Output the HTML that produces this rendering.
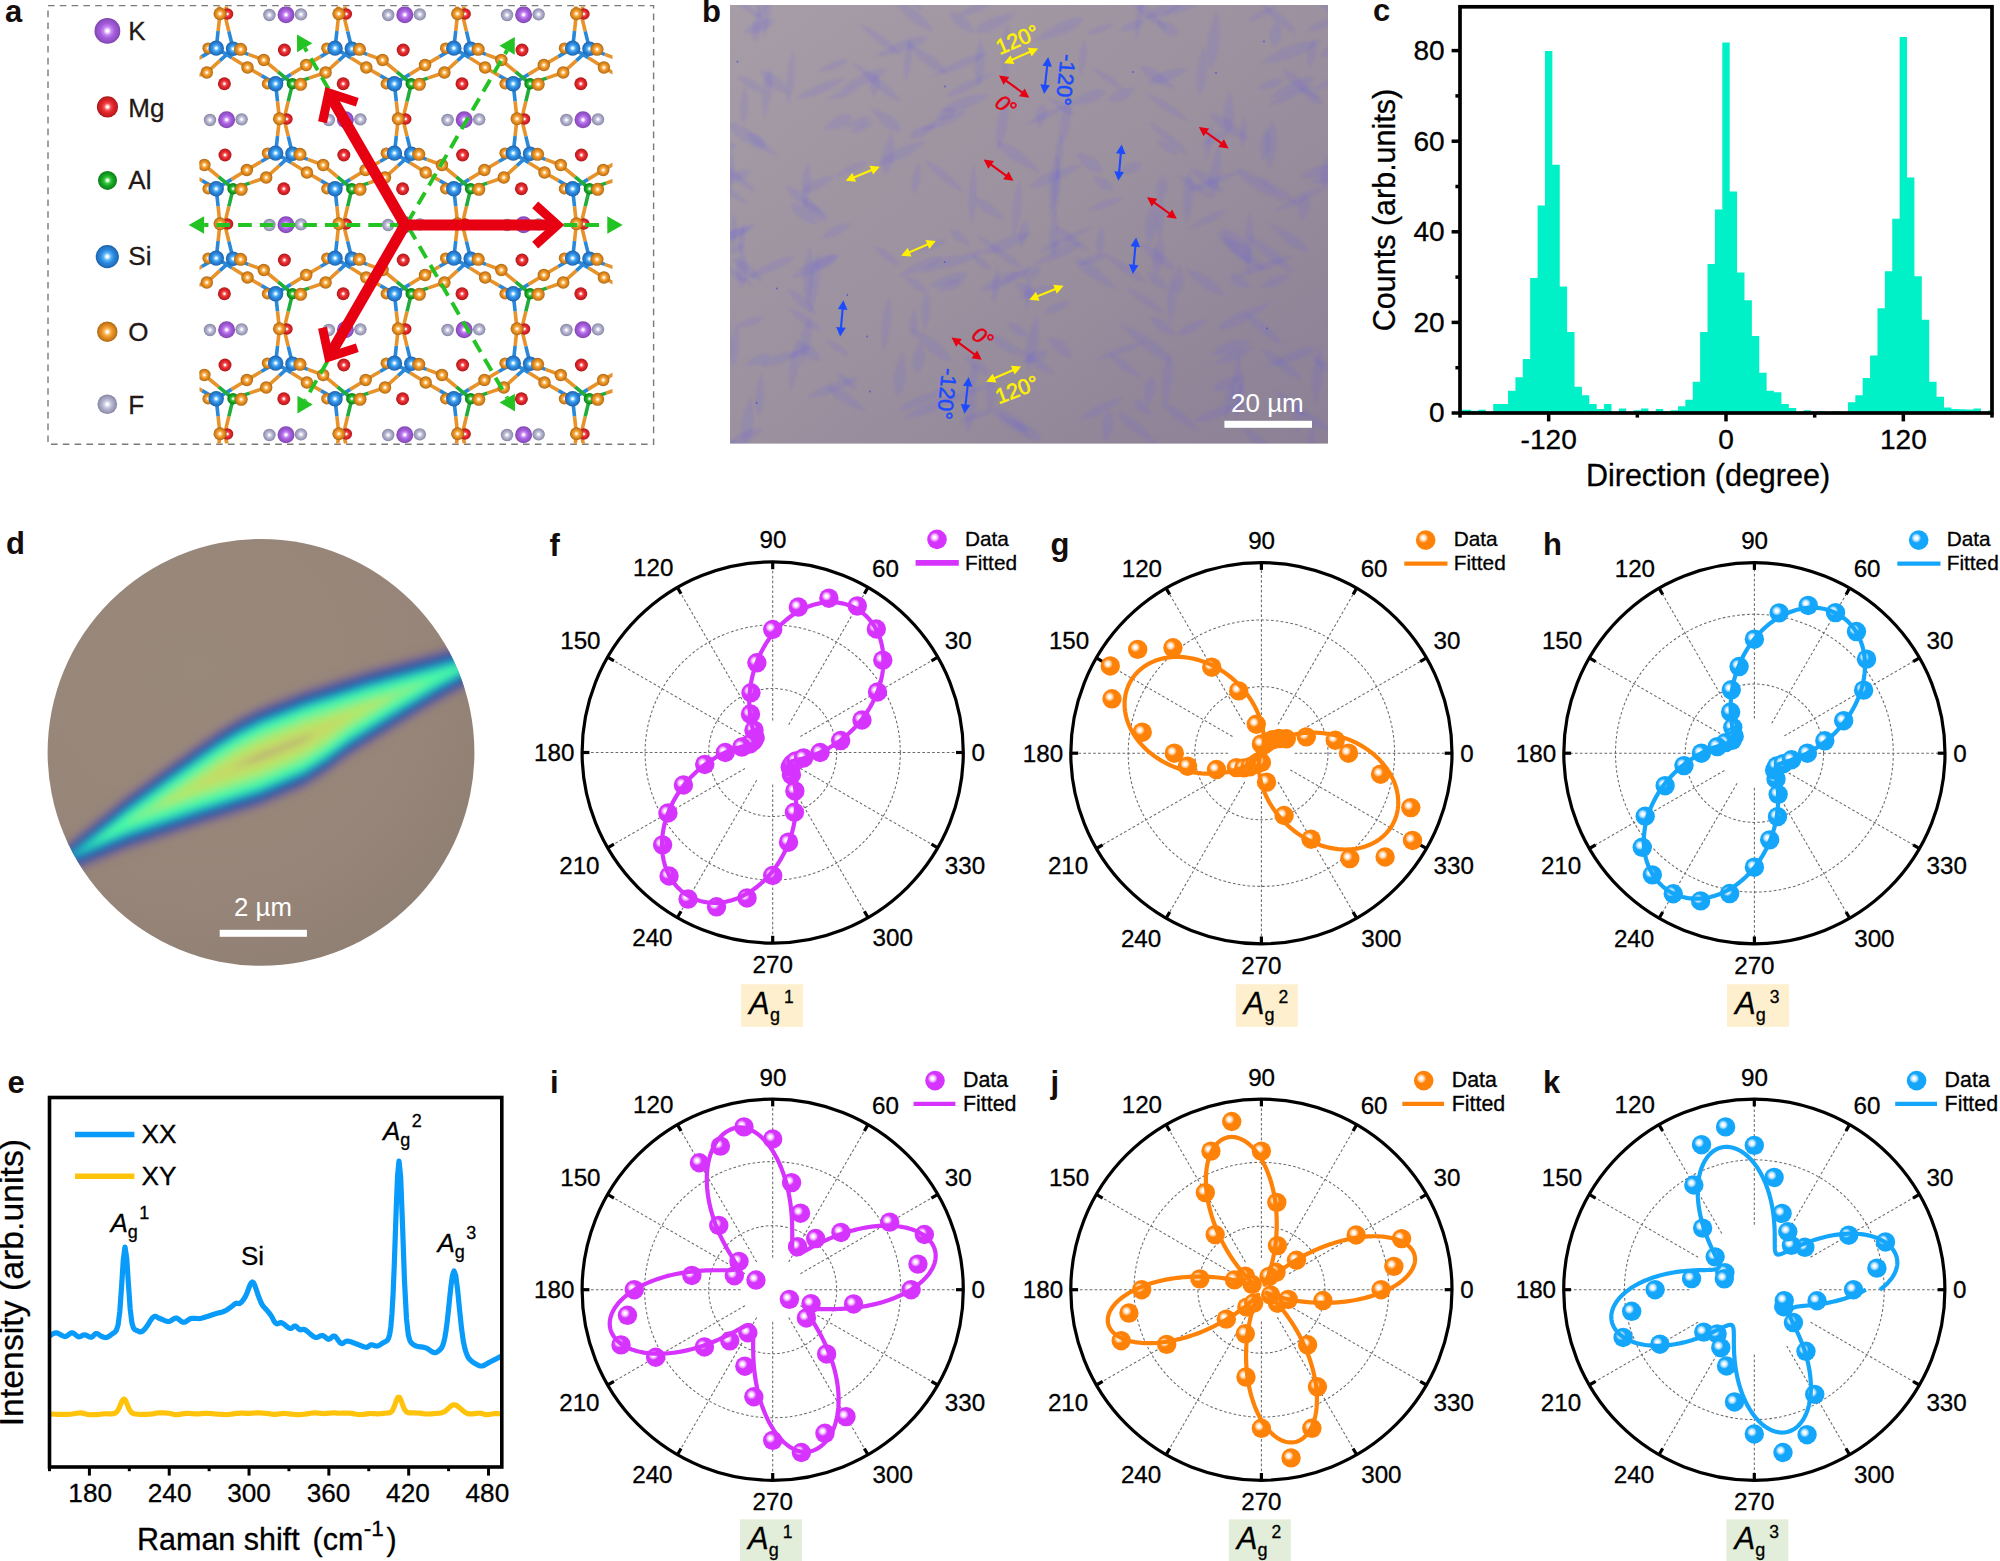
<!DOCTYPE html>
<html><head><meta charset="utf-8"><title>Figure</title>
<style>
html,body{margin:0;padding:0;background:#fff;}
svg{display:block;font-family:"Liberation Sans",sans-serif;}
text[fill="#000"],g[fill="#000"] text{stroke:#000;stroke-width:.3px}
</style></head><body>
<svg width="2000" height="1561" viewBox="0 0 2000 1561">
<rect width="2000" height="1561" fill="#fff"/>
<text x="5" y="22" font-size="31" font-weight="bold" fill="#140d0b">a</text>
<rect x="48" y="5.6" width="605.6" height="438.6" fill="none" stroke="#7a7a7a" stroke-width="1.4" stroke-dasharray="6.6 5.2"/>
<defs><radialGradient id="gK" cx="0.5" cy="0.5" r="0.5" fx="0.5" fy="0.5"><stop offset="0" stop-color="#fff"/><stop offset="0.09" stop-color="#fff"/><stop offset="0.32" stop-color="#c684f5"/><stop offset="0.58" stop-color="#a35cd9"/><stop offset="0.8" stop-color="#9452c8"/><stop offset="1" stop-color="#7d44ae"/></radialGradient><radialGradient id="gMg" cx="0.5" cy="0.5" r="0.5" fx="0.5" fy="0.5"><stop offset="0" stop-color="#fff"/><stop offset="0.09" stop-color="#fff"/><stop offset="0.32" stop-color="#f45050"/><stop offset="0.58" stop-color="#e0242a"/><stop offset="0.8" stop-color="#ca1f23"/><stop offset="1" stop-color="#a81818"/></radialGradient><radialGradient id="gAl" cx="0.5" cy="0.5" r="0.5" fx="0.5" fy="0.5"><stop offset="0" stop-color="#fff"/><stop offset="0.09" stop-color="#fff"/><stop offset="0.32" stop-color="#40cc44"/><stop offset="0.58" stop-color="#16a624"/><stop offset="0.8" stop-color="#12931e"/><stop offset="1" stop-color="#0b7614"/></radialGradient><radialGradient id="gSi" cx="0.5" cy="0.5" r="0.5" fx="0.5" fy="0.5"><stop offset="0" stop-color="#fff"/><stop offset="0.09" stop-color="#fff"/><stop offset="0.32" stop-color="#58b6f8"/><stop offset="0.58" stop-color="#2b88de"/><stop offset="0.8" stop-color="#2577c8"/><stop offset="1" stop-color="#1b5ea6"/></radialGradient><radialGradient id="gO" cx="0.5" cy="0.5" r="0.5" fx="0.5" fy="0.5"><stop offset="0" stop-color="#fff"/><stop offset="0.09" stop-color="#fff"/><stop offset="0.32" stop-color="#fab555"/><stop offset="0.58" stop-color="#e78f22"/><stop offset="0.8" stop-color="#ce7e1b"/><stop offset="1" stop-color="#a96410"/></radialGradient><radialGradient id="gF" cx="0.5" cy="0.5" r="0.5" fx="0.5" fy="0.5"><stop offset="0" stop-color="#fff"/><stop offset="0.09" stop-color="#fff"/><stop offset="0.32" stop-color="#cfcfe4"/><stop offset="0.58" stop-color="#aeadc9"/><stop offset="0.8" stop-color="#9c9bb9"/><stop offset="1" stop-color="#8080a0"/></radialGradient><clipPath id="cpa"><rect x="199.5" y="6.5" width="413" height="437"/></clipPath></defs>
<circle cx="107.4" cy="30.9" r="12.9" fill="url(#gK)"/><text x="128.3" y="40.3" font-size="26" fill="#231815" stroke="#231815" stroke-width="0.3">K</text>
<circle cx="107.5" cy="106.9" r="10.6" fill="url(#gMg)"/><text x="128.3" y="117.4" font-size="26" fill="#231815" stroke="#231815" stroke-width="0.3">Mg</text>
<circle cx="107.5" cy="180.4" r="9.5" fill="url(#gAl)"/><text x="128.3" y="189.3" font-size="26" fill="#231815" stroke="#231815" stroke-width="0.3">Al</text>
<circle cx="107.3" cy="256.6" r="11.6" fill="url(#gSi)"/><text x="128.3" y="265.3" font-size="26" fill="#231815" stroke="#231815" stroke-width="0.3">Si</text>
<circle cx="107.3" cy="331.8" r="10.2" fill="url(#gO)"/><text x="128.3" y="341.3" font-size="26" fill="#231815" stroke="#231815" stroke-width="0.3">O</text>
<circle cx="107.3" cy="404.3" r="9.8" fill="url(#gF)"/><text x="128.3" y="413.7" font-size="26" fill="#231815" stroke="#231815" stroke-width="0.3">F</text>
<g clip-path="url(#cpa)"><path d="M218.1,-3.75L220,13.75M228.85,-3.6L224.6,14.05M336.9,-3.75L338.8,13.75M347.65,-3.6L343.4,14.05M455.7,-3.75L457.6,13.75M466.45,-3.6L462.2,14.05M574.5,-3.75L576.4,13.75M585.25,-3.6L581,14.05M187.45,65L201.85,56.58M190.25,78.12L206.8,72.5M206.8,72.5L219.95,60.62M220,13.75L218.12,30.95M224.6,14.05L228.85,31.4M231.88,57.83L247.5,67.5M247.5,67.5L261.55,75.62M248.43,54.38L263.75,60M263.75,60L278.12,71.88M290.93,74.38L306.25,65M306.25,65L320.65,56.58M309.05,78.12L325.6,72.5M325.6,72.5L338.75,60.62M277.5,101.25L279.4,118.75M288.25,101.4L284,119.05M338.8,13.75L336.93,30.95M343.4,14.05L347.65,31.4M350.68,57.83L366.3,67.5M366.3,67.5L380.35,75.62M367.23,54.38L382.55,60M382.55,60L396.93,71.88M409.73,74.38L425.05,65M425.05,65L439.45,56.58M427.85,78.12L444.4,72.5M444.4,72.5L457.55,60.62M396.3,101.25L398.2,118.75M407.05,101.4L402.8,119.05M457.6,13.75L455.73,30.95M462.2,14.05L466.45,31.4M469.48,57.83L485.1,67.5M485.1,67.5L499.15,75.62M486.03,54.38L501.35,60M501.35,60L515.73,71.88M528.53,74.38L543.85,65M543.85,65L558.25,56.58M546.65,78.12L563.2,72.5M563.2,72.5L576.35,60.62M515.1,101.25L517,118.75M525.85,101.4L521.6,119.05M576.4,13.75L574.52,30.95M581,14.05L585.25,31.4M588.27,57.83L603.9,67.5M603.9,67.5L617.95,75.62M604.83,54.38L620.15,60M620.15,60L634.52,71.88M188.1,172.5L202.15,180.62M189.02,159.38L204.35,165M204.35,165L218.72,176.88M231.52,179.38L246.85,170M246.85,170L261.25,161.57M249.65,183.12L266.2,177.5M266.2,177.5L279.35,165.62M218.1,206.25L220,223.75M228.85,206.4L224.6,224.05M279.4,118.75L277.52,135.95M284,119.05L288.25,136.4M291.27,162.82L306.9,172.5M306.9,172.5L320.95,180.62M307.82,159.38L323.15,165M323.15,165L337.52,176.88M350.32,179.38L365.65,170M365.65,170L380.05,161.57M368.45,183.12L385,177.5M385,177.5L398.15,165.62M336.9,206.25L338.8,223.75M347.65,206.4L343.4,224.05M398.2,118.75L396.32,135.95M402.8,119.05L407.05,136.4M410.07,162.82L425.7,172.5M425.7,172.5L439.75,180.62M426.62,159.38L441.95,165M441.95,165L456.32,176.88M469.12,179.38L484.45,170M484.45,170L498.85,161.57M487.25,183.12L503.8,177.5M503.8,177.5L516.95,165.62M455.7,206.25L457.6,223.75M466.45,206.4L462.2,224.05M517,118.75L515.12,135.95M521.6,119.05L525.85,136.4M528.88,162.82L544.5,172.5M544.5,172.5L558.55,180.62M545.42,159.38L560.75,165M560.75,165L575.12,176.88M587.92,179.38L603.25,170M603.25,170L617.65,161.57M606.05,183.12L622.6,177.5M574.5,206.25L576.4,223.75M585.25,206.4L581,224.05M187.45,275L201.85,266.57M190.25,288.12L206.8,282.5M206.8,282.5L219.95,270.62M220,223.75L218.12,240.95M224.6,224.05L228.85,241.4M231.88,267.82L247.5,277.5M247.5,277.5L261.55,285.62M248.43,264.38L263.75,270M263.75,270L278.12,281.88M290.93,284.38L306.25,275M306.25,275L320.65,266.57M309.05,288.12L325.6,282.5M325.6,282.5L338.75,270.62M277.5,311.25L279.4,328.75M288.25,311.4L284,329.05M338.8,223.75L336.93,240.95M343.4,224.05L347.65,241.4M350.68,267.82L366.3,277.5M366.3,277.5L380.35,285.62M367.23,264.38L382.55,270M382.55,270L396.93,281.88M409.73,284.38L425.05,275M425.05,275L439.45,266.57M427.85,288.12L444.4,282.5M444.4,282.5L457.55,270.62M396.3,311.25L398.2,328.75M407.05,311.4L402.8,329.05M457.6,223.75L455.73,240.95M462.2,224.05L466.45,241.4M469.48,267.82L485.1,277.5M485.1,277.5L499.15,285.62M486.03,264.38L501.35,270M501.35,270L515.73,281.88M528.53,284.38L543.85,275M543.85,275L558.25,266.57M546.65,288.12L563.2,282.5M563.2,282.5L576.35,270.62M515.1,311.25L517,328.75M525.85,311.4L521.6,329.05M576.4,223.75L574.52,240.95M581,224.05L585.25,241.4M588.27,267.82L603.9,277.5M603.9,277.5L617.95,285.62M604.83,264.38L620.15,270M620.15,270L634.52,281.88M188.1,382.5L202.15,390.62M189.02,369.38L204.35,375M204.35,375L218.72,386.88M231.52,389.38L246.85,380M246.85,380L261.25,371.57M249.65,393.12L266.2,387.5M266.2,387.5L279.35,375.62M218.1,416.25L220,433.75M228.85,416.4L224.6,434.05M279.4,328.75L277.52,345.95M284,329.05L288.25,346.4M291.27,372.82L306.9,382.5M306.9,382.5L320.95,390.62M307.82,369.38L323.15,375M323.15,375L337.52,386.88M350.32,389.38L365.65,380M365.65,380L380.05,371.57M368.45,393.12L385,387.5M385,387.5L398.15,375.62M336.9,416.25L338.8,433.75M347.65,416.4L343.4,434.05M398.2,328.75L396.32,345.95M402.8,329.05L407.05,346.4M410.07,372.82L425.7,382.5M425.7,382.5L439.75,390.62M426.62,369.38L441.95,375M441.95,375L456.32,386.88M469.12,389.38L484.45,380M484.45,380L498.85,371.57M487.25,393.12L503.8,387.5M503.8,387.5L516.95,375.62M455.7,416.25L457.6,433.75M466.45,416.4L462.2,434.05M517,328.75L515.12,345.95M521.6,329.05L525.85,346.4M528.88,372.82L544.5,382.5M544.5,382.5L558.55,390.62M545.42,369.38L560.75,375M560.75,375L575.12,386.88M587.92,389.38L603.25,380M603.25,380L617.65,371.57M606.05,393.12L622.6,387.5M574.5,416.25L576.4,433.75M585.25,416.4L581,434.05M220,433.75L218.12,450.95M224.6,434.05L228.85,451.4M338.8,433.75L336.93,450.95M343.4,434.05L347.65,451.4M457.6,433.75L455.73,450.95M462.2,434.05L466.45,451.4M576.4,433.75L574.52,450.95M581,434.05L585.25,451.4" stroke="#e8922a" stroke-width="3.6" fill="none"/><path d="M216.2,-21.25L218.1,-3.75M335,-21.25L336.9,-3.75M453.8,-21.25L455.7,-3.75M572.6,-21.25L574.5,-3.75M201.85,56.58L216.25,48.15M219.95,60.62L233.1,48.75M218.12,30.95L216.25,48.15M228.85,31.4L233.1,48.75M216.25,48.15L231.88,57.83M261.55,75.62L275.6,83.75M233.1,48.75L248.43,54.38M275.6,83.75L290.93,74.38M320.65,56.58L335.05,48.15M338.75,60.62L351.9,48.75M275.6,83.75L277.5,101.25M336.93,30.95L335.05,48.15M347.65,31.4L351.9,48.75M335.05,48.15L350.68,57.83M380.35,75.62L394.4,83.75M351.9,48.75L367.23,54.38M394.4,83.75L409.73,74.38M439.45,56.58L453.85,48.15M457.55,60.62L470.7,48.75M394.4,83.75L396.3,101.25M455.73,30.95L453.85,48.15M466.45,31.4L470.7,48.75M453.85,48.15L469.48,57.83M499.15,75.62L513.2,83.75M470.7,48.75L486.03,54.38M513.2,83.75L528.53,74.38M558.25,56.58L572.65,48.15M576.35,60.62L589.5,48.75M513.2,83.75L515.1,101.25M574.52,30.95L572.65,48.15M585.25,31.4L589.5,48.75M572.65,48.15L588.27,57.83M617.95,75.62L632,83.75M589.5,48.75L604.83,54.38M202.15,180.62L216.2,188.75M173.7,153.75L189.02,159.38M216.2,188.75L231.52,179.38M261.25,161.57L275.65,153.15M279.35,165.62L292.5,153.75M216.2,188.75L218.1,206.25M277.52,135.95L275.65,153.15M288.25,136.4L292.5,153.75M275.65,153.15L291.27,162.82M320.95,180.62L335,188.75M292.5,153.75L307.82,159.38M335,188.75L350.32,179.38M380.05,161.57L394.45,153.15M398.15,165.62L411.3,153.75M335,188.75L336.9,206.25M396.32,135.95L394.45,153.15M407.05,136.4L411.3,153.75M394.45,153.15L410.07,162.82M439.75,180.62L453.8,188.75M411.3,153.75L426.62,159.38M453.8,188.75L469.12,179.38M498.85,161.57L513.25,153.15M516.95,165.62L530.1,153.75M453.8,188.75L455.7,206.25M515.12,135.95L513.25,153.15M525.85,136.4L530.1,153.75M513.25,153.15L528.88,162.82M558.55,180.62L572.6,188.75M530.1,153.75L545.42,159.38M572.6,188.75L587.92,179.38M617.65,161.57L632.05,153.15M572.6,188.75L574.5,206.25M201.85,266.57L216.25,258.15M219.95,270.62L233.1,258.75M218.12,240.95L216.25,258.15M228.85,241.4L233.1,258.75M216.25,258.15L231.88,267.82M261.55,285.62L275.6,293.75M233.1,258.75L248.43,264.38M275.6,293.75L290.93,284.38M320.65,266.57L335.05,258.15M338.75,270.62L351.9,258.75M275.6,293.75L277.5,311.25M336.93,240.95L335.05,258.15M347.65,241.4L351.9,258.75M335.05,258.15L350.68,267.82M380.35,285.62L394.4,293.75M351.9,258.75L367.23,264.38M394.4,293.75L409.73,284.38M439.45,266.57L453.85,258.15M457.55,270.62L470.7,258.75M394.4,293.75L396.3,311.25M455.73,240.95L453.85,258.15M466.45,241.4L470.7,258.75M453.85,258.15L469.48,267.82M499.15,285.62L513.2,293.75M470.7,258.75L486.03,264.38M513.2,293.75L528.53,284.38M558.25,266.57L572.65,258.15M576.35,270.62L589.5,258.75M513.2,293.75L515.1,311.25M574.52,240.95L572.65,258.15M585.25,241.4L589.5,258.75M572.65,258.15L588.27,267.82M617.95,285.62L632,293.75M589.5,258.75L604.83,264.38M202.15,390.62L216.2,398.75M173.7,363.75L189.02,369.38M216.2,398.75L231.52,389.38M261.25,371.57L275.65,363.15M279.35,375.62L292.5,363.75M216.2,398.75L218.1,416.25M277.52,345.95L275.65,363.15M288.25,346.4L292.5,363.75M275.65,363.15L291.27,372.82M320.95,390.62L335,398.75M292.5,363.75L307.82,369.38M335,398.75L350.32,389.38M380.05,371.57L394.45,363.15M398.15,375.62L411.3,363.75M335,398.75L336.9,416.25M396.32,345.95L394.45,363.15M407.05,346.4L411.3,363.75M394.45,363.15L410.07,372.82M439.75,390.62L453.8,398.75M411.3,363.75L426.62,369.38M453.8,398.75L469.12,389.38M498.85,371.57L513.25,363.15M516.95,375.62L530.1,363.75M453.8,398.75L455.7,416.25M515.12,345.95L513.25,363.15M525.85,346.4L530.1,363.75M513.25,363.15L528.88,372.82M558.55,390.62L572.6,398.75M530.1,363.75L545.42,369.38M572.6,398.75L587.92,389.38M617.65,371.57L632.05,363.15M572.6,398.75L574.5,416.25M218.12,450.95L216.25,468.15M228.85,451.4L233.1,468.75M336.93,450.95L335.05,468.15M347.65,451.4L351.9,468.75M455.73,450.95L453.85,468.15M466.45,451.4L470.7,468.75M574.52,450.95L572.65,468.15M585.25,451.4L589.5,468.75" stroke="#2a88d8" stroke-width="3.6" fill="none"/><path d="M233.1,-21.25L228.85,-3.6M351.9,-21.25L347.65,-3.6M470.7,-21.25L466.45,-3.6M589.5,-21.25L585.25,-3.6M173.7,83.75L190.25,78.12M278.12,71.88L292.5,83.75M292.5,83.75L309.05,78.12M292.5,83.75L288.25,101.4M396.93,71.88L411.3,83.75M411.3,83.75L427.85,78.12M411.3,83.75L407.05,101.4M515.73,71.88L530.1,83.75M530.1,83.75L546.65,78.12M530.1,83.75L525.85,101.4M634.52,71.88L648.9,83.75M218.72,176.88L233.1,188.75M233.1,188.75L249.65,183.12M233.1,188.75L228.85,206.4M337.52,176.88L351.9,188.75M351.9,188.75L368.45,183.12M351.9,188.75L347.65,206.4M456.32,176.88L470.7,188.75M470.7,188.75L487.25,183.12M470.7,188.75L466.45,206.4M575.12,176.88L589.5,188.75M589.5,188.75L606.05,183.12M589.5,188.75L585.25,206.4M173.7,293.75L190.25,288.12M278.12,281.88L292.5,293.75M292.5,293.75L309.05,288.12M292.5,293.75L288.25,311.4M396.93,281.88L411.3,293.75M411.3,293.75L427.85,288.12M411.3,293.75L407.05,311.4M515.73,281.88L530.1,293.75M530.1,293.75L546.65,288.12M530.1,293.75L525.85,311.4M634.52,281.88L648.9,293.75M218.72,386.88L233.1,398.75M233.1,398.75L249.65,393.12M233.1,398.75L228.85,416.4M337.52,386.88L351.9,398.75M351.9,398.75L368.45,393.12M351.9,398.75L347.65,416.4M456.32,386.88L470.7,398.75M470.7,398.75L487.25,393.12M470.7,398.75L466.45,416.4M575.12,386.88L589.5,398.75M589.5,398.75L606.05,393.12M589.5,398.75L585.25,416.4" stroke="#20ad3a" stroke-width="3.6" fill="none"/><circle cx="227.5" cy="14" r="5.8" fill="url(#gMg)"/><circle cx="346.3" cy="14" r="5.8" fill="url(#gMg)"/><circle cx="465.1" cy="14" r="5.8" fill="url(#gMg)"/><circle cx="583.9" cy="14" r="5.8" fill="url(#gMg)"/><circle cx="208.1" cy="48.15" r="5.7" fill="url(#gO)"/><circle cx="326.9" cy="48.15" r="5.7" fill="url(#gO)"/><circle cx="445.7" cy="48.15" r="5.7" fill="url(#gO)"/><circle cx="564.5" cy="48.15" r="5.7" fill="url(#gO)"/><circle cx="267.5" cy="83.75" r="5.7" fill="url(#gO)"/><circle cx="386.3" cy="83.75" r="5.7" fill="url(#gO)"/><circle cx="505.1" cy="83.75" r="5.7" fill="url(#gO)"/><circle cx="623.9" cy="83.75" r="5.7" fill="url(#gO)"/><circle cx="286.9" cy="119" r="5.8" fill="url(#gMg)"/><circle cx="405.7" cy="119" r="5.8" fill="url(#gMg)"/><circle cx="524.5" cy="119" r="5.8" fill="url(#gMg)"/><circle cx="267.5" cy="153.15" r="5.7" fill="url(#gO)"/><circle cx="386.3" cy="153.15" r="5.7" fill="url(#gO)"/><circle cx="505.1" cy="153.15" r="5.7" fill="url(#gO)"/><circle cx="623.9" cy="153.15" r="5.7" fill="url(#gO)"/><circle cx="208.1" cy="188.75" r="5.7" fill="url(#gO)"/><circle cx="326.9" cy="188.75" r="5.7" fill="url(#gO)"/><circle cx="445.7" cy="188.75" r="5.7" fill="url(#gO)"/><circle cx="564.5" cy="188.75" r="5.7" fill="url(#gO)"/><circle cx="227.5" cy="224" r="5.8" fill="url(#gMg)"/><circle cx="346.3" cy="224" r="5.8" fill="url(#gMg)"/><circle cx="465.1" cy="224" r="5.8" fill="url(#gMg)"/><circle cx="583.9" cy="224" r="5.8" fill="url(#gMg)"/><circle cx="208.1" cy="258.15" r="5.7" fill="url(#gO)"/><circle cx="326.9" cy="258.15" r="5.7" fill="url(#gO)"/><circle cx="445.7" cy="258.15" r="5.7" fill="url(#gO)"/><circle cx="564.5" cy="258.15" r="5.7" fill="url(#gO)"/><circle cx="267.5" cy="293.75" r="5.7" fill="url(#gO)"/><circle cx="386.3" cy="293.75" r="5.7" fill="url(#gO)"/><circle cx="505.1" cy="293.75" r="5.7" fill="url(#gO)"/><circle cx="623.9" cy="293.75" r="5.7" fill="url(#gO)"/><circle cx="286.9" cy="329" r="5.8" fill="url(#gMg)"/><circle cx="405.7" cy="329" r="5.8" fill="url(#gMg)"/><circle cx="524.5" cy="329" r="5.8" fill="url(#gMg)"/><circle cx="267.5" cy="363.15" r="5.7" fill="url(#gO)"/><circle cx="386.3" cy="363.15" r="5.7" fill="url(#gO)"/><circle cx="505.1" cy="363.15" r="5.7" fill="url(#gO)"/><circle cx="623.9" cy="363.15" r="5.7" fill="url(#gO)"/><circle cx="208.1" cy="398.75" r="5.7" fill="url(#gO)"/><circle cx="326.9" cy="398.75" r="5.7" fill="url(#gO)"/><circle cx="445.7" cy="398.75" r="5.7" fill="url(#gO)"/><circle cx="564.5" cy="398.75" r="5.7" fill="url(#gO)"/><circle cx="227.5" cy="434" r="5.8" fill="url(#gMg)"/><circle cx="346.3" cy="434" r="5.8" fill="url(#gMg)"/><circle cx="465.1" cy="434" r="5.8" fill="url(#gMg)"/><circle cx="583.9" cy="434" r="5.8" fill="url(#gMg)"/><circle cx="301" cy="14.35" r="6.2" fill="url(#gF)"/><circle cx="419.8" cy="14.35" r="6.2" fill="url(#gF)"/><circle cx="538.6" cy="14.35" r="6.2" fill="url(#gF)"/><circle cx="286" cy="14.75" r="8.5" fill="url(#gK)"/><circle cx="404.8" cy="14.75" r="8.5" fill="url(#gK)"/><circle cx="523.6" cy="14.75" r="8.5" fill="url(#gK)"/><circle cx="269.4" cy="15" r="6.2" fill="url(#gF)"/><circle cx="388.2" cy="15" r="6.2" fill="url(#gF)"/><circle cx="507" cy="15" r="6.2" fill="url(#gF)"/><circle cx="625.8" cy="15" r="6.2" fill="url(#gF)"/><circle cx="284.4" cy="50" r="6.5" fill="url(#gMg)"/><circle cx="403.2" cy="50" r="6.5" fill="url(#gMg)"/><circle cx="522" cy="50" r="6.5" fill="url(#gMg)"/><circle cx="224.4" cy="83.75" r="6.5" fill="url(#gMg)"/><circle cx="343.2" cy="83.75" r="6.5" fill="url(#gMg)"/><circle cx="462" cy="83.75" r="6.5" fill="url(#gMg)"/><circle cx="580.8" cy="83.75" r="6.5" fill="url(#gMg)"/><circle cx="241.6" cy="119.35" r="6.2" fill="url(#gF)"/><circle cx="360.4" cy="119.35" r="6.2" fill="url(#gF)"/><circle cx="479.2" cy="119.35" r="6.2" fill="url(#gF)"/><circle cx="598" cy="119.35" r="6.2" fill="url(#gF)"/><circle cx="226.6" cy="119.75" r="8.5" fill="url(#gK)"/><circle cx="345.4" cy="119.75" r="8.5" fill="url(#gK)"/><circle cx="464.2" cy="119.75" r="8.5" fill="url(#gK)"/><circle cx="583" cy="119.75" r="8.5" fill="url(#gK)"/><circle cx="210" cy="120" r="6.2" fill="url(#gF)"/><circle cx="328.8" cy="120" r="6.2" fill="url(#gF)"/><circle cx="447.6" cy="120" r="6.2" fill="url(#gF)"/><circle cx="566.4" cy="120" r="6.2" fill="url(#gF)"/><circle cx="225" cy="155" r="6.5" fill="url(#gMg)"/><circle cx="343.8" cy="155" r="6.5" fill="url(#gMg)"/><circle cx="462.6" cy="155" r="6.5" fill="url(#gMg)"/><circle cx="581.4" cy="155" r="6.5" fill="url(#gMg)"/><circle cx="283.8" cy="188.75" r="6.5" fill="url(#gMg)"/><circle cx="402.6" cy="188.75" r="6.5" fill="url(#gMg)"/><circle cx="521.4" cy="188.75" r="6.5" fill="url(#gMg)"/><circle cx="301" cy="224.35" r="6.2" fill="url(#gF)"/><circle cx="419.8" cy="224.35" r="6.2" fill="url(#gF)"/><circle cx="538.6" cy="224.35" r="6.2" fill="url(#gF)"/><circle cx="286" cy="224.75" r="8.5" fill="url(#gK)"/><circle cx="404.8" cy="224.75" r="8.5" fill="url(#gK)"/><circle cx="523.6" cy="224.75" r="8.5" fill="url(#gK)"/><circle cx="269.4" cy="225" r="6.2" fill="url(#gF)"/><circle cx="388.2" cy="225" r="6.2" fill="url(#gF)"/><circle cx="507" cy="225" r="6.2" fill="url(#gF)"/><circle cx="625.8" cy="225" r="6.2" fill="url(#gF)"/><circle cx="284.4" cy="260" r="6.5" fill="url(#gMg)"/><circle cx="403.2" cy="260" r="6.5" fill="url(#gMg)"/><circle cx="522" cy="260" r="6.5" fill="url(#gMg)"/><circle cx="224.4" cy="293.75" r="6.5" fill="url(#gMg)"/><circle cx="343.2" cy="293.75" r="6.5" fill="url(#gMg)"/><circle cx="462" cy="293.75" r="6.5" fill="url(#gMg)"/><circle cx="580.8" cy="293.75" r="6.5" fill="url(#gMg)"/><circle cx="241.6" cy="329.35" r="6.2" fill="url(#gF)"/><circle cx="360.4" cy="329.35" r="6.2" fill="url(#gF)"/><circle cx="479.2" cy="329.35" r="6.2" fill="url(#gF)"/><circle cx="598" cy="329.35" r="6.2" fill="url(#gF)"/><circle cx="226.6" cy="329.75" r="8.5" fill="url(#gK)"/><circle cx="345.4" cy="329.75" r="8.5" fill="url(#gK)"/><circle cx="464.2" cy="329.75" r="8.5" fill="url(#gK)"/><circle cx="583" cy="329.75" r="8.5" fill="url(#gK)"/><circle cx="210" cy="330" r="6.2" fill="url(#gF)"/><circle cx="328.8" cy="330" r="6.2" fill="url(#gF)"/><circle cx="447.6" cy="330" r="6.2" fill="url(#gF)"/><circle cx="566.4" cy="330" r="6.2" fill="url(#gF)"/><circle cx="225" cy="365" r="6.5" fill="url(#gMg)"/><circle cx="343.8" cy="365" r="6.5" fill="url(#gMg)"/><circle cx="462.6" cy="365" r="6.5" fill="url(#gMg)"/><circle cx="581.4" cy="365" r="6.5" fill="url(#gMg)"/><circle cx="283.8" cy="398.75" r="6.5" fill="url(#gMg)"/><circle cx="402.6" cy="398.75" r="6.5" fill="url(#gMg)"/><circle cx="521.4" cy="398.75" r="6.5" fill="url(#gMg)"/><circle cx="301" cy="434.35" r="6.2" fill="url(#gF)"/><circle cx="419.8" cy="434.35" r="6.2" fill="url(#gF)"/><circle cx="538.6" cy="434.35" r="6.2" fill="url(#gF)"/><circle cx="286" cy="434.75" r="8.5" fill="url(#gK)"/><circle cx="404.8" cy="434.75" r="8.5" fill="url(#gK)"/><circle cx="523.6" cy="434.75" r="8.5" fill="url(#gK)"/><circle cx="269.4" cy="435" r="6.2" fill="url(#gF)"/><circle cx="388.2" cy="435" r="6.2" fill="url(#gF)"/><circle cx="507" cy="435" r="6.2" fill="url(#gF)"/><circle cx="625.8" cy="435" r="6.2" fill="url(#gF)"/><circle cx="292.5" cy="83.75" r="5.8" fill="url(#gAl)"/><circle cx="411.3" cy="83.75" r="5.8" fill="url(#gAl)"/><circle cx="530.1" cy="83.75" r="5.8" fill="url(#gAl)"/><circle cx="233.1" cy="188.75" r="5.8" fill="url(#gAl)"/><circle cx="351.9" cy="188.75" r="5.8" fill="url(#gAl)"/><circle cx="470.7" cy="188.75" r="5.8" fill="url(#gAl)"/><circle cx="589.5" cy="188.75" r="5.8" fill="url(#gAl)"/><circle cx="292.5" cy="293.75" r="5.8" fill="url(#gAl)"/><circle cx="411.3" cy="293.75" r="5.8" fill="url(#gAl)"/><circle cx="530.1" cy="293.75" r="5.8" fill="url(#gAl)"/><circle cx="233.1" cy="398.75" r="5.8" fill="url(#gAl)"/><circle cx="351.9" cy="398.75" r="5.8" fill="url(#gAl)"/><circle cx="470.7" cy="398.75" r="5.8" fill="url(#gAl)"/><circle cx="589.5" cy="398.75" r="5.8" fill="url(#gAl)"/><circle cx="216.25" cy="48.15" r="7.7" fill="url(#gSi)"/><circle cx="335.05" cy="48.15" r="7.7" fill="url(#gSi)"/><circle cx="453.85" cy="48.15" r="7.7" fill="url(#gSi)"/><circle cx="572.65" cy="48.15" r="7.7" fill="url(#gSi)"/><circle cx="233.1" cy="48.75" r="7.3" fill="url(#gSi)"/><circle cx="351.9" cy="48.75" r="7.3" fill="url(#gSi)"/><circle cx="470.7" cy="48.75" r="7.3" fill="url(#gSi)"/><circle cx="589.5" cy="48.75" r="7.3" fill="url(#gSi)"/><circle cx="275.6" cy="83.75" r="7.7" fill="url(#gSi)"/><circle cx="394.4" cy="83.75" r="7.7" fill="url(#gSi)"/><circle cx="513.2" cy="83.75" r="7.7" fill="url(#gSi)"/><circle cx="275.65" cy="153.15" r="7.7" fill="url(#gSi)"/><circle cx="394.45" cy="153.15" r="7.7" fill="url(#gSi)"/><circle cx="513.25" cy="153.15" r="7.7" fill="url(#gSi)"/><circle cx="292.5" cy="153.75" r="7.3" fill="url(#gSi)"/><circle cx="411.3" cy="153.75" r="7.3" fill="url(#gSi)"/><circle cx="530.1" cy="153.75" r="7.3" fill="url(#gSi)"/><circle cx="216.2" cy="188.75" r="7.7" fill="url(#gSi)"/><circle cx="335" cy="188.75" r="7.7" fill="url(#gSi)"/><circle cx="453.8" cy="188.75" r="7.7" fill="url(#gSi)"/><circle cx="572.6" cy="188.75" r="7.7" fill="url(#gSi)"/><circle cx="216.25" cy="258.15" r="7.7" fill="url(#gSi)"/><circle cx="335.05" cy="258.15" r="7.7" fill="url(#gSi)"/><circle cx="453.85" cy="258.15" r="7.7" fill="url(#gSi)"/><circle cx="572.65" cy="258.15" r="7.7" fill="url(#gSi)"/><circle cx="233.1" cy="258.75" r="7.3" fill="url(#gSi)"/><circle cx="351.9" cy="258.75" r="7.3" fill="url(#gSi)"/><circle cx="470.7" cy="258.75" r="7.3" fill="url(#gSi)"/><circle cx="589.5" cy="258.75" r="7.3" fill="url(#gSi)"/><circle cx="275.6" cy="293.75" r="7.7" fill="url(#gSi)"/><circle cx="394.4" cy="293.75" r="7.7" fill="url(#gSi)"/><circle cx="513.2" cy="293.75" r="7.7" fill="url(#gSi)"/><circle cx="275.65" cy="363.15" r="7.7" fill="url(#gSi)"/><circle cx="394.45" cy="363.15" r="7.7" fill="url(#gSi)"/><circle cx="513.25" cy="363.15" r="7.7" fill="url(#gSi)"/><circle cx="292.5" cy="363.75" r="7.3" fill="url(#gSi)"/><circle cx="411.3" cy="363.75" r="7.3" fill="url(#gSi)"/><circle cx="530.1" cy="363.75" r="7.3" fill="url(#gSi)"/><circle cx="216.2" cy="398.75" r="7.7" fill="url(#gSi)"/><circle cx="335" cy="398.75" r="7.7" fill="url(#gSi)"/><circle cx="453.8" cy="398.75" r="7.7" fill="url(#gSi)"/><circle cx="572.6" cy="398.75" r="7.7" fill="url(#gSi)"/><circle cx="263.75" cy="60" r="6.2" fill="url(#gO)"/><circle cx="382.55" cy="60" r="6.2" fill="url(#gO)"/><circle cx="501.35" cy="60" r="6.2" fill="url(#gO)"/><circle cx="620.15" cy="60" r="6.2" fill="url(#gO)"/><circle cx="187.45" cy="65" r="6.2" fill="url(#gO)"/><circle cx="306.25" cy="65" r="6.2" fill="url(#gO)"/><circle cx="425.05" cy="65" r="6.2" fill="url(#gO)"/><circle cx="543.85" cy="65" r="6.2" fill="url(#gO)"/><circle cx="247.5" cy="67.5" r="6.2" fill="url(#gO)"/><circle cx="366.3" cy="67.5" r="6.2" fill="url(#gO)"/><circle cx="485.1" cy="67.5" r="6.2" fill="url(#gO)"/><circle cx="603.9" cy="67.5" r="6.2" fill="url(#gO)"/><circle cx="206.8" cy="72.5" r="6.2" fill="url(#gO)"/><circle cx="325.6" cy="72.5" r="6.2" fill="url(#gO)"/><circle cx="444.4" cy="72.5" r="6.2" fill="url(#gO)"/><circle cx="563.2" cy="72.5" r="6.2" fill="url(#gO)"/><circle cx="204.35" cy="165" r="6.2" fill="url(#gO)"/><circle cx="323.15" cy="165" r="6.2" fill="url(#gO)"/><circle cx="441.95" cy="165" r="6.2" fill="url(#gO)"/><circle cx="560.75" cy="165" r="6.2" fill="url(#gO)"/><circle cx="246.85" cy="170" r="6.2" fill="url(#gO)"/><circle cx="365.65" cy="170" r="6.2" fill="url(#gO)"/><circle cx="484.45" cy="170" r="6.2" fill="url(#gO)"/><circle cx="603.25" cy="170" r="6.2" fill="url(#gO)"/><circle cx="188.1" cy="172.5" r="6.2" fill="url(#gO)"/><circle cx="306.9" cy="172.5" r="6.2" fill="url(#gO)"/><circle cx="425.7" cy="172.5" r="6.2" fill="url(#gO)"/><circle cx="544.5" cy="172.5" r="6.2" fill="url(#gO)"/><circle cx="266.2" cy="177.5" r="6.2" fill="url(#gO)"/><circle cx="385" cy="177.5" r="6.2" fill="url(#gO)"/><circle cx="503.8" cy="177.5" r="6.2" fill="url(#gO)"/><circle cx="622.6" cy="177.5" r="6.2" fill="url(#gO)"/><circle cx="263.75" cy="270" r="6.2" fill="url(#gO)"/><circle cx="382.55" cy="270" r="6.2" fill="url(#gO)"/><circle cx="501.35" cy="270" r="6.2" fill="url(#gO)"/><circle cx="620.15" cy="270" r="6.2" fill="url(#gO)"/><circle cx="187.45" cy="275" r="6.2" fill="url(#gO)"/><circle cx="306.25" cy="275" r="6.2" fill="url(#gO)"/><circle cx="425.05" cy="275" r="6.2" fill="url(#gO)"/><circle cx="543.85" cy="275" r="6.2" fill="url(#gO)"/><circle cx="247.5" cy="277.5" r="6.2" fill="url(#gO)"/><circle cx="366.3" cy="277.5" r="6.2" fill="url(#gO)"/><circle cx="485.1" cy="277.5" r="6.2" fill="url(#gO)"/><circle cx="603.9" cy="277.5" r="6.2" fill="url(#gO)"/><circle cx="206.8" cy="282.5" r="6.2" fill="url(#gO)"/><circle cx="325.6" cy="282.5" r="6.2" fill="url(#gO)"/><circle cx="444.4" cy="282.5" r="6.2" fill="url(#gO)"/><circle cx="563.2" cy="282.5" r="6.2" fill="url(#gO)"/><circle cx="204.35" cy="375" r="6.2" fill="url(#gO)"/><circle cx="323.15" cy="375" r="6.2" fill="url(#gO)"/><circle cx="441.95" cy="375" r="6.2" fill="url(#gO)"/><circle cx="560.75" cy="375" r="6.2" fill="url(#gO)"/><circle cx="246.85" cy="380" r="6.2" fill="url(#gO)"/><circle cx="365.65" cy="380" r="6.2" fill="url(#gO)"/><circle cx="484.45" cy="380" r="6.2" fill="url(#gO)"/><circle cx="603.25" cy="380" r="6.2" fill="url(#gO)"/><circle cx="188.1" cy="382.5" r="6.2" fill="url(#gO)"/><circle cx="306.9" cy="382.5" r="6.2" fill="url(#gO)"/><circle cx="425.7" cy="382.5" r="6.2" fill="url(#gO)"/><circle cx="544.5" cy="382.5" r="6.2" fill="url(#gO)"/><circle cx="266.2" cy="387.5" r="6.2" fill="url(#gO)"/><circle cx="385" cy="387.5" r="6.2" fill="url(#gO)"/><circle cx="503.8" cy="387.5" r="6.2" fill="url(#gO)"/><circle cx="622.6" cy="387.5" r="6.2" fill="url(#gO)"/><circle cx="220" cy="13.75" r="6.5" fill="url(#gO)"/><circle cx="338.8" cy="13.75" r="6.5" fill="url(#gO)"/><circle cx="457.6" cy="13.75" r="6.5" fill="url(#gO)"/><circle cx="576.4" cy="13.75" r="6.5" fill="url(#gO)"/><circle cx="240.6" cy="49.35" r="6.5" fill="url(#gO)"/><circle cx="359.4" cy="49.35" r="6.5" fill="url(#gO)"/><circle cx="478.2" cy="49.35" r="6.5" fill="url(#gO)"/><circle cx="597" cy="49.35" r="6.5" fill="url(#gO)"/><circle cx="300.6" cy="84.35" r="6.5" fill="url(#gO)"/><circle cx="419.4" cy="84.35" r="6.5" fill="url(#gO)"/><circle cx="538.2" cy="84.35" r="6.5" fill="url(#gO)"/><circle cx="279.4" cy="118.75" r="6.5" fill="url(#gO)"/><circle cx="398.2" cy="118.75" r="6.5" fill="url(#gO)"/><circle cx="517" cy="118.75" r="6.5" fill="url(#gO)"/><circle cx="300" cy="154.35" r="6.5" fill="url(#gO)"/><circle cx="418.8" cy="154.35" r="6.5" fill="url(#gO)"/><circle cx="537.6" cy="154.35" r="6.5" fill="url(#gO)"/><circle cx="241.2" cy="189.35" r="6.5" fill="url(#gO)"/><circle cx="360" cy="189.35" r="6.5" fill="url(#gO)"/><circle cx="478.8" cy="189.35" r="6.5" fill="url(#gO)"/><circle cx="597.6" cy="189.35" r="6.5" fill="url(#gO)"/><circle cx="220" cy="223.75" r="6.5" fill="url(#gO)"/><circle cx="338.8" cy="223.75" r="6.5" fill="url(#gO)"/><circle cx="457.6" cy="223.75" r="6.5" fill="url(#gO)"/><circle cx="576.4" cy="223.75" r="6.5" fill="url(#gO)"/><circle cx="240.6" cy="259.35" r="6.5" fill="url(#gO)"/><circle cx="359.4" cy="259.35" r="6.5" fill="url(#gO)"/><circle cx="478.2" cy="259.35" r="6.5" fill="url(#gO)"/><circle cx="597" cy="259.35" r="6.5" fill="url(#gO)"/><circle cx="300.6" cy="294.35" r="6.5" fill="url(#gO)"/><circle cx="419.4" cy="294.35" r="6.5" fill="url(#gO)"/><circle cx="538.2" cy="294.35" r="6.5" fill="url(#gO)"/><circle cx="279.4" cy="328.75" r="6.5" fill="url(#gO)"/><circle cx="398.2" cy="328.75" r="6.5" fill="url(#gO)"/><circle cx="517" cy="328.75" r="6.5" fill="url(#gO)"/><circle cx="300" cy="364.35" r="6.5" fill="url(#gO)"/><circle cx="418.8" cy="364.35" r="6.5" fill="url(#gO)"/><circle cx="537.6" cy="364.35" r="6.5" fill="url(#gO)"/><circle cx="241.2" cy="399.35" r="6.5" fill="url(#gO)"/><circle cx="360" cy="399.35" r="6.5" fill="url(#gO)"/><circle cx="478.8" cy="399.35" r="6.5" fill="url(#gO)"/><circle cx="597.6" cy="399.35" r="6.5" fill="url(#gO)"/><circle cx="220" cy="433.75" r="6.5" fill="url(#gO)"/><circle cx="338.8" cy="433.75" r="6.5" fill="url(#gO)"/><circle cx="457.6" cy="433.75" r="6.5" fill="url(#gO)"/><circle cx="576.4" cy="433.75" r="6.5" fill="url(#gO)"/></g>
<line x1="204.1" y1="225" x2="607.3" y2="225" stroke="#22c322" stroke-width="3.9" stroke-dasharray="13.7 8" stroke-dashoffset="9.4"/><polygon points="188.7,225 204.1,216.2 204.1,233.8" fill="#22c322"/><polygon points="622.7,225 607.3,233.8 607.3,216.2" fill="#22c322"/><line x1="304.71" y1="47.73" x2="507.29" y2="398.07" stroke="#22c322" stroke-width="3.9" stroke-dasharray="13.7 8" stroke-dashoffset="9.4"/><polygon points="297,34.4 312.33,43.33 297.09,52.14" fill="#22c322"/><polygon points="515,411.4 499.67,402.47 514.91,393.66" fill="#22c322"/><line x1="507.1" y1="50.24" x2="305.1" y2="400.11" stroke="#22c322" stroke-width="3.9" stroke-dasharray="13.7 8" stroke-dashoffset="9.4"/><polygon points="514.8,36.9 514.72,54.64 499.48,45.84" fill="#22c322"/><polygon points="297.4,413.45 297.48,395.71 312.72,404.51" fill="#22c322"/>
<g stroke="#e60012" stroke-width="9" stroke-linecap="butt" stroke-linejoin="miter" stroke-miterlimit="6" fill="none"><line x1="405" y1="225" x2="557.5" y2="225" stroke-width="11"/><polyline points="535.21,245.07 557.5,225 535.21,204.93"/><line x1="405" y1="225" x2="328.75" y2="92.93" stroke-width="11"/><polyline points="357.28,102.2 328.75,92.93 322.51,122.28"/><line x1="405" y1="225" x2="328.75" y2="357.07" stroke-width="11"/><polyline points="322.51,327.72 328.75,357.07 357.28,347.8"/></g>
<text x="702" y="22" font-size="31" font-weight="bold" fill="#140d0b">b</text>
<defs><linearGradient id="bgb" x1="0" y1="0" x2="1" y2="1"><stop offset="0" stop-color="#a69da7"/><stop offset="0.5" stop-color="#9b919f"/><stop offset="1" stop-color="#8b8095"/></linearGradient><filter id="blb" x="-5%" y="-5%" width="110%" height="110%"><feGaussianBlur stdDeviation="1.0"/></filter><clipPath id="cpb"><rect x="730" y="5" width="598" height="438.6"/></clipPath></defs>
<rect x="730" y="5" width="598" height="438.6" fill="url(#bgb)"/>
<g clip-path="url(#cpb)"><g fill="#6258f0" fill-opacity="0.125" filter="url(#blb)"><path d="M976.18,234.64 Q1003.18,263.18 1022.96,268.78 Q1011.6,251.65 976.18,234.64Z"/><path d="M998.51,284.38 Q1022.25,279.74 1029.53,268.74 Q1016.36,268.05 998.51,284.38Z"/><path d="M1129.66,-1.76 Q1135.17,15.59 1167.43,30.18 Q1147.69,0.79 1129.66,-1.76Z"/><path d="M703.06,250.79 Q741.68,241.73 755.48,223.84 Q732.9,224.66 703.06,250.79Z"/><path d="M899.2,275.7 Q929.23,272.54 944.09,256.33 Q922.09,256.02 899.2,275.7Z"/><path d="M997.92,150.82 Q1011.78,129.99 1007.34,94.31 Q991.57,126.62 997.92,150.82Z"/><path d="M849.72,132.74 Q861.72,134.86 874.15,122.37 Q856.53,122.63 849.72,132.74Z"/><path d="M760.89,18.14 Q772.74,3.56 761.7,-12.65 Q749.83,2.95 760.89,18.14Z"/><path d="M1311.9,183.18 Q1327.28,187.57 1339.83,171.34 Q1319.43,169.07 1311.9,183.18Z"/><path d="M901.79,-6.45 Q903.04,4.11 922.87,10.35 Q912.36,-7.59 901.79,-6.45Z"/><path d="M743.15,366.13 Q767.81,365.91 770.88,354.9 Q761.02,349.13 743.15,366.13Z"/><path d="M1179.01,176.33 Q1187.36,190.56 1212.12,198.19 Q1195.38,178.42 1179.01,176.33Z"/><path d="M1311.35,356.04 Q1320.14,372.9 1328.71,370.85 Q1329.39,362.07 1311.35,356.04Z"/><path d="M1077.46,264.78 Q1098.95,265.15 1106.63,254.41 Q1093.89,250.92 1077.46,264.78Z"/><path d="M909.58,137.86 Q920.43,143.36 937.01,123.93 Q911.54,125.85 909.58,137.86Z"/><path d="M927.94,287.49 Q959.07,286.31 967.75,273.14 Q952.66,268.54 927.94,287.49Z"/><path d="M817.82,71.49 Q839.53,70.82 848.15,59.88 Q834.43,57.49 817.82,71.49Z"/><path d="M1282.92,70.08 Q1287.78,85.16 1319.42,100.23 Q1298.65,72.01 1282.92,70.08Z"/><path d="M726.04,443.56 Q755.01,441.26 761.79,429.41 Q748.74,425.41 726.04,443.56Z"/><path d="M1021.23,246.98 Q1032.57,232.67 1025.65,220.03 Q1015.05,229.79 1021.23,246.98Z"/><path d="M1086.26,34.27 Q1099.07,36.06 1114.96,23.73 Q1094.86,24.61 1086.26,34.27Z"/><path d="M975.41,32.17 Q991.51,37.67 1015.48,13.28 Q981.41,16.25 975.41,32.17Z"/><path d="M785.36,185.91 Q791.73,202.86 825.71,217.15 Q803.38,187.83 785.36,185.91Z"/><path d="M717.12,-16.06 Q741.58,10.91 766.24,22.47 Q749.14,1.27 717.12,-16.06Z"/><path d="M1007.59,323.08 Q1011.68,336.26 1028.45,336.93 Q1021.33,321.74 1007.59,323.08Z"/><path d="M744.05,451.81 Q758.32,430.26 750.91,396.92 Q735.52,427.41 744.05,451.81Z"/><path d="M1134.51,400.64 Q1132.87,411.01 1152.33,415.61 Q1144.46,397.24 1134.51,400.64Z"/><path d="M1117.57,173.77 Q1139.42,175.32 1140.99,164.01 Q1131.85,157.16 1117.57,173.77Z"/><path d="M1244.11,312.52 Q1257.29,334.98 1283.31,345.39 Q1268.52,321.58 1244.11,312.52Z"/><path d="M1053.78,256.49 Q1063.16,240.15 1055.21,209.26 Q1045.4,239.61 1053.78,256.49Z"/><path d="M1149.07,244.1 Q1162.51,227.44 1154.08,201.98 Q1139.91,224.76 1149.07,244.1Z"/><path d="M807.01,305.54 Q818.36,277.96 810.01,245.57 Q798.47,276.97 807.01,305.54Z"/><path d="M1269.6,169.22 Q1282.31,138.81 1272.57,120.67 Q1260.7,137.48 1269.6,169.22Z"/><path d="M827.52,100.08 Q846.36,99.54 860.04,86.38 Q841.07,86.97 827.52,100.08Z"/><path d="M1236.22,415.79 Q1247.78,398.05 1238.43,352.66 Q1225.93,397.28 1236.22,415.79Z"/><path d="M993.46,406.79 Q1009.7,430.74 1029.13,432.29 Q1021.37,414.41 993.46,406.79Z"/><path d="M1230.53,275.15 Q1229.23,287.72 1250.06,287.89 Q1241.5,268.9 1230.53,275.15Z"/><path d="M1139.86,242.7 Q1150.03,263 1176.01,270.64 Q1162.07,247.42 1139.86,242.7Z"/><path d="M825.85,339.88 Q835.46,354.06 848.89,355.65 Q842.56,343.7 825.85,339.88Z"/><path d="M993.76,302.52 Q1001.63,290.83 998.09,265.28 Q988.78,289.34 993.76,302.52Z"/><path d="M1228.55,133.33 Q1239.21,120.09 1229.71,91.51 Q1218.65,119.52 1228.55,133.33Z"/><path d="M884.92,174.8 Q898.87,163.41 891.71,132.32 Q875.21,159.63 884.92,174.8Z"/><path d="M1217.24,329.72 Q1238.08,330.76 1271.83,302.13 Q1228.76,312.31 1217.24,329.72Z"/><path d="M979.4,291.39 Q1011.78,289.03 1021.17,272.37 Q1002.43,268.51 979.4,291.39Z"/><path d="M1301.42,220.56 Q1315.3,205.24 1305.68,194.75 Q1293.2,201.6 1301.42,220.56Z"/><path d="M1261.55,62.59 Q1296.49,62.31 1320.8,40.67 Q1288.26,40.06 1261.55,62.59Z"/><path d="M1206.05,160.06 Q1214.96,144.05 1211.37,123.81 Q1202.11,142.17 1206.05,160.06Z"/><path d="M1048.12,337.32 Q1051.97,355.13 1072.05,357.3 Q1066.33,337.93 1048.12,337.32Z"/><path d="M739.8,253.31 Q748.56,240.17 743.59,225.67 Q734.9,238.3 739.8,253.31Z"/><path d="M1164.58,409.58 Q1177.14,374.94 1169.74,350.85 Q1158.26,373.28 1164.58,409.58Z"/><path d="M1186.59,222.77 Q1198.2,196.52 1190.1,170.27 Q1178.58,195.21 1186.59,222.77Z"/><path d="M1216.85,232.74 Q1237.42,262.95 1265.87,270.86 Q1251.2,245.24 1216.85,232.74Z"/><path d="M905.87,82.65 Q915.41,59.54 910.44,36.81 Q901.07,58.11 905.87,82.65Z"/><path d="M1020,277.25 Q1036.02,282.9 1041.92,267.86 Q1026.96,261.76 1020,277.25Z"/><path d="M1319.97,55.55 Q1333.82,59.92 1342.93,46.28 Q1326.91,42.8 1319.97,55.55Z"/><path d="M1293.74,406.39 Q1314.56,430.44 1328.95,430.57 Q1323.66,417.18 1293.74,406.39Z"/><path d="M1297.2,431.9 Q1308.43,410.59 1299.31,401.94 Q1289.07,409.23 1297.2,431.9Z"/><path d="M787.32,358.91 Q799.77,359.33 812.69,345.86 Q794.22,348.53 787.32,358.91Z"/><path d="M1145.17,92.63 Q1163.74,112.91 1189.2,121.59 Q1171.14,101.65 1145.17,92.63Z"/><path d="M873.14,97.04 Q885.14,83.07 876.55,74.32 Q865.76,80.16 873.14,97.04Z"/><path d="M1098.99,257.32 Q1107.89,241.81 1102.13,226.3 Q1093.37,240.34 1098.99,257.32Z"/><path d="M1080.47,75.76 Q1089.82,56.33 1084.63,39.4 Q1075.74,54.72 1080.47,75.76Z"/><path d="M1257.47,89.1 Q1276.24,90.05 1283.36,79.47 Q1271.05,76.11 1257.47,89.1Z"/><path d="M859.72,24.02 Q878.96,47.43 901.02,54.96 Q887.6,35.9 859.72,24.02Z"/><path d="M1210.04,68.97 Q1223.87,53.14 1217.35,9.13 Q1200.43,50.28 1210.04,68.97Z"/><path d="M1027.81,370.79 Q1043.09,345.03 1037.21,314.59 Q1021.75,341.46 1027.81,370.79Z"/><path d="M732.77,367.29 Q741.09,353.05 737.27,321.62 Q727.39,351.7 732.77,367.29Z"/><path d="M836.05,371.98 Q846.88,389.35 855.99,388.66 Q855.06,379.58 836.05,371.98Z"/><path d="M989.34,334.08 Q995.65,348.6 1021.78,357.32 Q1005.12,335.39 989.34,334.08Z"/><path d="M936.76,291 Q957.34,292.53 964.46,280.51 Q951.16,276.22 936.76,291Z"/><path d="M945.79,96.92 Q962.78,97.26 995.16,72.05 Q955.63,83.07 945.79,96.92Z"/><path d="M1236.7,419.24 Q1247.69,395.57 1243.9,373.88 Q1233.58,393.33 1236.7,419.24Z"/><path d="M910.26,327.59 Q930.98,358.73 951.19,361.68 Q944.63,342.34 910.26,327.59Z"/><path d="M967.35,433.06 Q980.85,410.25 974.02,379.25 Q959.83,407.64 967.35,433.06Z"/><path d="M1155.83,19.85 Q1165.91,40.7 1177.35,34.86 Q1178.88,22.12 1155.83,19.85Z"/><path d="M1258.75,1.65 Q1276.07,26.7 1297,33.81 Q1286.4,14.41 1258.75,1.65Z"/><path d="M1054.78,226.68 Q1060.45,239.96 1089.21,252.26 Q1069.14,228.27 1054.78,226.68Z"/><path d="M939.86,268.83 Q964.58,266.72 988.82,248.48 Q958.8,252.8 939.86,268.83Z"/><path d="M737.34,75.78 Q744.64,89.53 765.03,93.48 Q752.88,76.63 737.34,75.78Z"/><path d="M1050.66,217.35 Q1064.94,175.87 1057.38,153.91 Q1045.39,173.8 1050.66,217.35Z"/><path d="M739.12,281.72 Q784.99,270.04 795.05,256.34 Q778.11,254.9 739.12,281.72Z"/><path d="M1247.75,274.37 Q1257.36,242.93 1249.87,212.71 Q1240.32,242.34 1247.75,274.37Z"/><path d="M1076.04,152.77 Q1085.01,173.75 1102.88,172.53 Q1098.74,155.11 1076.04,152.77Z"/><path d="M1159.72,16.74 Q1189.93,13.2 1204.5,-2.1 Q1183.37,-2.38 1159.72,16.74Z"/><path d="M725.96,122.27 Q733.78,141.23 779.29,156.78 Q746.45,121.63 725.96,122.27Z"/><path d="M1257.49,176.76 Q1266.3,190.42 1301.77,207.2 Q1273.41,180.08 1257.49,176.76Z"/><path d="M1194.18,421.56 Q1212.7,425.16 1247.19,402.61 Q1206.22,407.04 1194.18,421.56Z"/><path d="M1088.48,210.49 Q1105.62,211.44 1123.09,197.47 Q1100.74,198.47 1088.48,210.49Z"/><path d="M804.93,209.41 Q815.33,179.67 807.84,163.04 Q798.33,178.6 804.93,209.41Z"/><path d="M1035.46,442.58 Q1049.29,462.05 1060.56,462.45 Q1057.58,451.57 1035.46,442.58Z"/><path d="M1185.13,268.06 Q1203.1,293.09 1224.28,295.17 Q1214.88,276.07 1185.13,268.06Z"/><path d="M822.85,129.89 Q849.31,130.21 852.02,115.68 Q838.9,108.86 822.85,129.89Z"/><path d="M1248.48,20.69 Q1258.5,22.44 1277.69,5.54 Q1252.83,11.5 1248.48,20.69Z"/><path d="M844.05,127.59 Q867.25,126.95 871.04,117.66 Q862.13,113.04 844.05,127.59Z"/><path d="M997.36,142.01 Q1002.56,159.2 1040.87,172.77 Q1015.3,141.18 997.36,142.01Z"/><path d="M790.16,392.96 Q803.66,360.02 797.9,339.22 Q786.51,357.54 790.16,392.96Z"/><path d="M931.69,76.15 Q965.68,70.82 990.5,52.06 Q959.66,56.1 931.69,76.15Z"/><path d="M1162.75,403.1 Q1172.18,421.48 1199.44,431.48 Q1182.91,407.61 1162.75,403.1Z"/><path d="M1053.58,218.39 Q1064.45,186.18 1058.35,167.83 Q1048.93,184.72 1053.58,218.39Z"/><path d="M764.19,118.24 Q776.75,86.4 769.84,67.36 Q758.92,84.42 764.19,118.24Z"/><path d="M898.82,410.29 Q916.05,411.41 946.53,388.41 Q909.21,396.51 898.82,410.29Z"/><path d="M1155.24,276.03 Q1168.36,262.01 1161.42,236.11 Q1146.98,258.7 1155.24,276.03Z"/><path d="M913.85,194.28 Q924,181.85 918.73,162.22 Q907.85,179.39 913.85,194.28Z"/><path d="M923.88,159.79 Q936.88,180.81 965.17,193.07 Q947.19,168.03 923.88,159.79Z"/><path d="M791.46,277.94 Q814.8,279.08 839.85,254.25 Q804.88,258.81 791.46,277.94Z"/><path d="M732.91,248.67 Q740.18,225.31 734.57,214.28 Q727.92,224.71 732.91,248.67Z"/><path d="M971.31,253.89 Q979.78,269.03 991.2,269.89 Q987.92,258.92 971.31,253.89Z"/><path d="M1274.1,46.8 Q1286.32,36.23 1277.15,20.89 Q1264.67,33.68 1274.1,46.8Z"/><path d="M1158.63,239.84 Q1168.73,212.9 1161.66,198.67 Q1152.57,211.71 1158.63,239.84Z"/><path d="M904.84,42.04 Q929.19,73.05 946.7,73.36 Q941.47,56.64 904.84,42.04Z"/><path d="M972.92,384.96 Q981.62,379.52 974.58,362.86 Q965.13,378.28 972.92,384.96Z"/><path d="M983.36,253.51 Q1009.39,254.07 1030.96,233.01 Q1000.83,234.21 983.36,253.51Z"/><path d="M978.65,86.35 Q989.7,67.33 981.03,37.73 Q969.52,66.34 978.65,86.35Z"/><path d="M951.26,229.72 Q951.57,240.27 969.95,245.54 Q961.72,228.29 951.26,229.72Z"/><path d="M1095.29,360.1 Q1122.04,356.76 1145.62,341.58 Q1117.82,345.31 1095.29,360.1Z"/><path d="M1200.66,145.16 Q1221.24,143.36 1228.64,131.51 Q1214.74,130.04 1200.66,145.16Z"/><path d="M1069.34,104.47 Q1100.34,105.2 1105.82,90.95 Q1092.37,83.71 1069.34,104.47Z"/><path d="M1105.8,443.4 Q1119.31,420.58 1108.87,410.6 Q1096.76,418.47 1105.8,443.4Z"/><path d="M917.07,252.29 Q940.98,248.7 945.73,239.74 Q935.93,237.16 917.07,252.29Z"/><path d="M1211.55,198.55 Q1224.09,186.15 1219,144.55 Q1202.84,183.21 1211.55,198.55Z"/><path d="M1275.47,391.09 Q1285.05,408.78 1306.92,417.24 Q1294.61,397.28 1275.47,391.09Z"/><path d="M1235.61,169.01 Q1244.47,187.95 1285.67,202.34 Q1256.51,169.87 1235.61,169.01Z"/><path d="M1176.93,293.19 Q1188.14,287.9 1179.78,265.01 Q1167,285.76 1176.93,293.19Z"/><path d="M1212.76,390.59 Q1225.7,395.58 1242.51,375.53 Q1216.4,377.2 1212.76,390.59Z"/><path d="M1013.57,238.76 Q1025.47,201.6 1019.83,181.09 Q1009.92,199.91 1013.57,238.76Z"/><path d="M958.82,422.76 Q978.14,421.93 996.56,408.09 Q973.63,410.33 958.82,422.76Z"/><path d="M1009.43,417.91 Q1028.79,442.88 1041.39,440.31 Q1039.51,427.59 1009.43,417.91Z"/><path d="M1120.04,30.7 Q1134.92,33.71 1144.55,20.79 Q1128.65,18.2 1120.04,30.7Z"/><path d="M1314.98,404.54 Q1327.71,377.22 1320.12,346.5 Q1307.25,375.4 1314.98,404.54Z"/><path d="M874.48,57.1 Q916.88,52.15 928.25,36.84 Q909.6,32.84 874.48,57.1Z"/><path d="M809.97,313.67 Q824.7,282.39 818.07,252.13 Q803.83,279.64 809.97,313.67Z"/><path d="M759.67,70.4 Q767.45,91.44 787.77,92.64 Q781.93,73.13 759.67,70.4Z"/><path d="M1155.63,139.45 Q1165.99,154.09 1178.98,154.75 Q1173.18,143.1 1155.63,139.45Z"/><path d="M1140.3,66.26 Q1144.53,81.15 1175.15,88.71 Q1155.6,63.96 1140.3,66.26Z"/><path d="M729.83,440.51 Q732.45,456.59 750.16,455.15 Q745.91,437.89 729.83,440.51Z"/><path d="M1018.3,298.65 Q1037.28,299.95 1053.99,285 Q1031.57,285.03 1018.3,298.65Z"/><path d="M727.59,206.26 Q738.02,164.61 731.48,151.27 Q723.12,163.55 727.59,206.26Z"/><path d="M1025.08,124.89 Q1047.24,121.98 1069.87,104.23 Q1041.68,109.93 1025.08,124.89Z"/><path d="M1021.56,362.14 Q1044.72,363.97 1048.01,351.12 Q1036.57,344.41 1021.56,362.14Z"/><path d="M1056.57,179.63 Q1067.05,146.44 1061.07,133.74 Q1052.74,145.04 1056.57,179.63Z"/><path d="M1326.34,323.66 Q1344.11,326.94 1347.63,314.64 Q1336.34,308.61 1326.34,323.66Z"/><path d="M790.12,203.11 Q794.93,221.58 818.32,225.21 Q809.2,203.36 790.12,203.11Z"/><path d="M1004.8,81.83 Q1015.5,50.3 1007.51,21.92 Q996.99,49.46 1004.8,81.83Z"/><path d="M1061.68,144.03 Q1073.86,129.35 1070.91,88.45 Q1054.9,126.2 1061.68,144.03Z"/><path d="M1210.63,114.31 Q1216.85,131.9 1248.64,140.37 Q1229.27,113.78 1210.63,114.31Z"/><path d="M1033.56,41.26 Q1077.06,34.34 1083.59,18.7 Q1067.54,13.23 1033.56,41.26Z"/><path d="M801.8,365.39 Q816.22,336.4 809.08,318.11 Q796.77,333.4 801.8,365.39Z"/><path d="M800.86,192.43 Q816.02,195.43 835.11,175.46 Q807.66,178.55 800.86,192.43Z"/><path d="M1039.33,127.89 Q1052.25,114.66 1043.11,103.94 Q1031.1,111.33 1039.33,127.89Z"/><path d="M1190.08,167.25 Q1203.81,188.36 1223.28,192.54 Q1214.07,174.88 1190.08,167.25Z"/><path d="M1120.32,323.72 Q1149.48,358.9 1171.66,361.55 Q1162.56,341.14 1120.32,323.72Z"/><path d="M971.48,224.7 Q980.78,193.65 974.07,163.32 Q964.83,192.98 971.48,224.7Z"/><path d="M958.1,16.27 Q980.48,15.27 1001.45,-4.06 Q973.18,-0.3 958.1,16.27Z"/><path d="M916.55,373.05 Q929.21,363.26 921.33,341.14 Q907.32,359.98 916.55,373.05Z"/><path d="M1242.18,427.42 Q1251.26,443.97 1276.91,454.6 Q1260.43,432.26 1242.18,427.42Z"/><path d="M939.6,111.97 Q964.6,115.02 989.27,94.37 Q957.1,93.86 939.6,111.97Z"/><path d="M1033.49,265.21 Q1072.27,256.96 1081.56,242.05 Q1064.11,240.02 1033.49,265.21Z"/><path d="M759.27,366.44 Q779.1,368.35 802.55,350.31 Q773.01,352.01 759.27,366.44Z"/><path d="M1143.47,19.5 Q1171.96,17.21 1196.57,-7.56 Q1162.07,-2.2 1143.47,19.5Z"/><path d="M921.7,272.22 Q940.06,272.34 958.93,254.81 Q933.38,258.05 921.7,272.22Z"/><path d="M796.75,341.47 Q803.91,361.84 820.28,360.89 Q818.11,344.63 796.75,341.47Z"/><path d="M747.71,132.62 Q752.07,148.99 765.16,147.1 Q764.6,133.89 747.71,132.62Z"/><path d="M1039.47,252.39 Q1057.25,250.74 1092.48,226.57 Q1051.73,239.41 1039.47,252.39Z"/><path d="M1148.47,122.03 Q1168.53,147.35 1188.59,155.04 Q1177.18,136.84 1148.47,122.03Z"/><path d="M1273.45,211.97 Q1308.02,202.49 1325.68,186.33 Q1302.09,190.42 1273.45,211.97Z"/><path d="M882.93,352.66 Q894.97,321.35 889.49,297.85 Q878.62,319.4 882.93,352.66Z"/><path d="M1238.52,275.57 Q1260.51,275.22 1294.65,255.49 Q1255.74,261.89 1238.52,275.57Z"/><path d="M786.49,288.14 Q796.5,308.68 817.34,314.37 Q808.37,294.71 786.49,288.14Z"/><path d="M732.09,258.11 Q736.51,273.16 763.95,281.94 Q747.78,258.09 732.09,258.11Z"/><path d="M1310.44,91.52 Q1342.73,84.16 1351.15,72.31 Q1336.65,71.28 1310.44,91.52Z"/><path d="M1312.54,-4.5 Q1334.27,21.46 1348.3,25.33 Q1341.98,12.22 1312.54,-4.5Z"/><path d="M754.51,41.89 Q764.62,34.75 759.92,6.83 Q747.02,32.03 754.51,41.89Z"/><path d="M897.45,396.06 Q910.78,383.52 902.78,352.52 Q887.54,380.68 897.45,396.06Z"/><path d="M1199.65,95.69 Q1210.49,78.25 1204,45.81 Q1191.99,76.63 1199.65,95.69Z"/><path d="M1149.97,316.63 Q1156.92,333.53 1175.15,335.2 Q1168.17,318.27 1149.97,316.63Z"/><path d="M741.15,289.11 Q752.98,273.01 742.52,248.3 Q730.43,272.25 741.15,289.11Z"/><path d="M1074.89,258.5 Q1078.44,274.99 1116.97,289.67 Q1091.7,257.09 1074.89,258.5Z"/><path d="M787.82,104.21 Q796.92,88.18 793.44,49.25 Q782.15,86.67 787.82,104.21Z"/><path d="M891.62,-2.3 Q911.48,27.58 932.79,31.11 Q924.94,10.99 891.62,-2.3Z"/><path d="M1027.16,309.45 Q1035.1,290.04 1028.8,276.79 Q1021.2,289.35 1027.16,309.45Z"/><path d="M1214.65,364.57 Q1242.04,363.05 1252.37,347 Q1233.44,344.58 1214.65,364.57Z"/><path d="M1309.26,67.74 Q1320.79,51.59 1313.84,40.04 Q1303.56,48.74 1309.26,67.74Z"/><path d="M743.36,124.58 Q751.95,107.3 745.12,86.12 Q736.39,106.59 743.36,124.58Z"/><path d="M763.77,36.9 Q773.63,18.8 770.77,-15.47 Q759.01,16.85 763.77,36.9Z"/><path d="M1047.87,97.2 Q1063.25,116.65 1074.27,114.47 Q1071.85,103.5 1047.87,97.2Z"/><path d="M1268.05,105.26 Q1289.25,102.66 1312.98,84.99 Q1284.03,91.08 1268.05,105.26Z"/><path d="M1147.04,405.97 Q1161.43,386.18 1151.59,376.88 Q1139.38,382.73 1147.04,405.97Z"/><path d="M835.36,176.64 Q855.82,174.65 868.31,160.73 Q849.64,161.86 835.36,176.64Z"/><path d="M796.42,98.81 Q824.42,96.65 846.13,77.97 Q817.59,80.36 796.42,98.81Z"/><path d="M1091.51,67.6 Q1106.98,85.86 1123.03,88.97 Q1114.2,75.2 1091.51,67.6Z"/><path d="M919.82,131.43 Q949.63,128.44 968.62,110.36 Q942.43,111.78 919.82,131.43Z"/><path d="M1108.43,100.69 Q1124.21,106.24 1134.3,88.84 Q1114.53,85.11 1108.43,100.69Z"/><path d="M1177.41,334.93 Q1189.77,337.9 1208.97,318.62 Q1182.15,323.14 1177.41,334.93Z"/><path d="M1263.24,161.38 Q1274.87,145.53 1267.38,126.94 Q1255.71,143.23 1263.24,161.38Z"/><path d="M820.41,238.71 Q840.68,237.88 851.63,222.64 Q832.86,222.69 820.41,238.71Z"/><path d="M787.27,307.3 Q806.33,330.73 820.83,330.8 Q815.81,317.2 787.27,307.3Z"/><path d="M1220.27,229.17 Q1224.57,246.06 1251.3,251.51 Q1237.65,227.89 1220.27,229.17Z"/><path d="M874.69,166 Q904.67,162.83 926.31,140.4 Q895.36,144.05 874.69,166Z"/><path d="M725.32,369.31 Q737.98,352.88 728.72,319.26 Q715,351.32 725.32,369.31Z"/><path d="M1125.89,286.99 Q1140.65,305.01 1165.97,314.41 Q1148.03,294.21 1125.89,286.99Z"/><path d="M949.51,11.67 Q951.98,27.06 975.54,33.46 Q965.1,11.39 949.51,11.67Z"/><path d="M1268.37,98.44 Q1302.06,92.99 1315.54,76.75 Q1294.44,76.41 1268.37,98.44Z"/><path d="M1260.34,348.26 Q1279.73,374.65 1301.35,379.35 Q1290.99,359.8 1260.34,348.26Z"/><path d="M711.06,155.19 Q726.23,177.74 757.42,193.78 Q735.99,166.01 711.06,155.19Z"/><path d="M1242.15,148.86 Q1249.25,135.75 1244.49,116.3 Q1237,134.87 1242.15,148.86Z"/><path d="M1248.09,235.78 Q1261.98,259.72 1294.13,273.09 Q1274.39,244.41 1248.09,235.78Z"/><path d="M902.64,418.66 Q939.12,414.8 959.37,394.71 Q930.85,395.21 902.64,418.66Z"/><path d="M1093.24,176.69 Q1098.3,190.45 1114.09,190.24 Q1107.87,175.72 1093.24,176.69Z"/><path d="M1301.68,177.82 Q1320.1,180.05 1332.7,165.27 Q1313.37,163.42 1301.68,177.82Z"/><path d="M712.16,258.38 Q717.4,270.93 753.92,286.9 Q725.75,258.7 712.16,258.38Z"/><path d="M1029.56,186.97 Q1047.96,190.63 1082.59,164.32 Q1039.64,171.15 1029.56,186.97Z"/><path d="M1226.01,418.24 Q1238.11,394.22 1231.8,382.7 Q1222.16,391.62 1226.01,418.24Z"/><path d="M912.49,337.57 Q920.35,329.22 914.82,309.09 Q906.09,328.06 912.49,337.57Z"/><path d="M924.51,330.76 Q934.26,308.01 927.16,291.43 Q917.9,306.91 924.51,330.76Z"/><path d="M1015.94,282.9 Q1017.81,295.32 1040.05,299.84 Q1028.25,280.46 1015.94,282.9Z"/><path d="M742.67,32.6 Q763.17,36.81 775.49,20.39 Q755.43,16.02 742.67,32.6Z"/><path d="M1135.49,42.47 Q1144.87,22.28 1144.07,-15.44 Q1132.37,20.43 1135.49,42.47Z"/><path d="M1013.56,346.46 Q1032.98,369.79 1053.65,374.04 Q1042.29,356.27 1013.56,346.46Z"/><path d="M806.9,397.64 Q834.47,397.25 860.01,377.51 Q827.8,379.66 806.9,397.64Z"/><path d="M1146.27,272.14 Q1153.67,288.73 1167.49,289.26 Q1164.04,275.87 1146.27,272.14Z"/><path d="M839.37,89.97 Q878.12,84.68 886.19,69.39 Q869.47,65 839.37,89.97Z"/><path d="M870.31,107.55 Q886.81,134.86 900.96,131.11 Q900.95,116.47 870.31,107.55Z"/><path d="M735.98,327.39 Q753.55,329.5 764.21,316.82 Q747.84,314.26 735.98,327.39Z"/><path d="M1188.34,190.84 Q1205.03,192.01 1242.49,170.23 Q1200.03,178.87 1188.34,190.84Z"/><path d="M989.91,413.08 Q1001.23,388.93 992.44,374.71 Q981.85,387.66 989.91,413.08Z"/><path d="M1325.29,190.46 Q1337.36,175.26 1327.2,156.65 Q1315,174 1325.29,190.46Z"/><path d="M1219.82,237.28 Q1237.46,260.8 1250.8,262.85 Q1246.26,250.14 1219.82,237.28Z"/><path d="M873.69,245.67 Q882.24,261.51 900.27,266.07 Q891.2,249.83 873.69,245.67Z"/><path d="M936.1,118.98 Q952.64,122.59 956.09,109.11 Q943.29,103.65 936.1,118.98Z"/><path d="M708.11,154.32 Q725.98,159.87 736.85,144.13 Q718.49,138.75 708.11,154.32Z"/><path d="M963.81,355.77 Q974.84,376.2 988.6,374.42 Q986.5,360.7 963.81,355.77Z"/><path d="M851.38,61.26 Q879.55,95.63 900.63,101.75 Q890.54,82.25 851.38,61.26Z"/><path d="M1147.05,83.26 Q1166.17,87.01 1189.01,68.03 Q1159.32,68.11 1147.05,83.26Z"/><path d="M724.53,254.3 Q742.91,254.27 745.12,245.4 Q737.15,240.94 724.53,254.3Z"/><path d="M702.16,246.34 Q738.07,241.44 751.48,227.25 Q732.01,225.79 702.16,246.34Z"/><path d="M1211.65,354.3 Q1233.27,358.17 1251.34,339.84 Q1225.72,337.42 1211.65,354.3Z"/><path d="M1261.06,287.17 Q1276.74,289.59 1290.12,274.9 Q1270.26,274.24 1261.06,287.17Z"/><path d="M1109.79,354.36 Q1113.48,367.12 1142.22,379.26 Q1123.07,354.63 1109.79,354.36Z"/><path d="M1102.03,252.19 Q1125.38,277.54 1145.47,282.81 Q1133.75,265.66 1102.03,252.19Z"/><path d="M1044.61,312.92 Q1056.49,316.52 1070.54,300.98 Q1049.6,301.55 1044.61,312.92Z"/><path d="M717.41,185.61 Q745.43,183.09 749.77,171.02 Q737.85,166.28 717.41,185.61Z"/><path d="M826.9,386.05 Q837.49,404.23 866.09,411.53 Q847.81,388.35 826.9,386.05Z"/><path d="M991.57,410.39 Q1003.17,427.46 1033.48,440.58 Q1011.43,415.99 991.57,410.39Z"/><path d="M1117.45,412.21 Q1121.34,427.29 1159.59,447.01 Q1132.99,413.17 1117.45,412.21Z"/><path d="M1170.45,322.75 Q1179.27,300.69 1172.08,274.89 Q1163.15,300.14 1170.45,322.75Z"/><path d="M1159.47,202.83 Q1172.44,187.46 1163.66,176.06 Q1151.82,184.23 1159.47,202.83Z"/><path d="M974.38,198.04 Q976.42,211.06 1004.74,220.51 Q987.42,196.19 974.38,198.04Z"/><path d="M1269.56,223.42 Q1291.9,251.53 1307.49,251.05 Q1303.16,236.06 1269.56,223.42Z"/><path d="M800.12,199.02 Q814.83,223.98 827.66,220.85 Q827.78,207.65 800.12,199.02Z"/><path d="M940.72,403.75 Q961.37,402.79 996.27,381.9 Q956.49,390.38 940.72,403.75Z"/><path d="M1265.05,367.15 Q1308.29,360.37 1316.91,347.38 Q1301.83,343.42 1265.05,367.15Z"/><path d="M758.44,415.84 Q767.61,401.64 761.68,372.22 Q751.47,400.45 758.44,415.84Z"/><path d="M708.72,176.78 Q726.42,196.89 749.02,204.72 Q733.76,186.3 708.72,176.78Z"/><path d="M1187.34,229.76 Q1217.09,221.76 1225.55,210.36 Q1211.35,210.46 1187.34,229.76Z"/><path d="M1307.37,30.43 Q1330.5,30.12 1334.9,19.85 Q1324.76,15.18 1307.37,30.43Z"/><path d="M1297.99,87.54 Q1310.51,105.79 1322.71,103.87 Q1319.69,91.89 1297.99,87.54Z"/><path d="M1079.36,419.66 Q1101.04,419.01 1123.32,397.46 Q1092.76,402.6 1079.36,419.66Z"/><path d="M1309.05,459.83 Q1317.07,444.16 1313.83,420.02 Q1304.97,442.71 1309.05,459.83Z"/><path d="M902.72,274.36 Q913.99,292.28 927.03,293.2 Q922.88,280.81 902.72,274.36Z"/><path d="M813.97,267.22 Q832.64,270.93 838.03,255.25 Q822.26,250.08 813.97,267.22Z"/></g>
<g fill="#3b4fd0" fill-opacity="0.75"><circle cx="737.5" cy="61.7" r="0.9"/><circle cx="945" cy="86.5" r="0.9"/><circle cx="944.7" cy="262" r="0.9"/><circle cx="1264" cy="41.5" r="0.9"/><circle cx="776.8" cy="288.5" r="0.9"/><circle cx="847.3" cy="295" r="0.9"/><circle cx="867" cy="336.5" r="0.9"/><circle cx="756.5" cy="403" r="0.9"/><circle cx="870" cy="391.5" r="0.9"/><circle cx="1133" cy="72" r="0.9"/><circle cx="1216" cy="73" r="0.9"/><circle cx="1267" cy="328.5" r="0.9"/></g></g>
<line x1="852.55" y1="178" x2="872.96" y2="169.49" stroke="#fff100" stroke-width="2.1"/><polygon points="845.76,180.84 856.1,181.73 852.4,172.87" fill="#fff100"/><polygon points="879.75,166.65 873.11,174.62 869.41,165.76" fill="#fff100"/><line x1="907.97" y1="252.85" x2="929.09" y2="243.8" stroke="#fff100" stroke-width="2.1"/><polygon points="901.2,255.75 911.55,256.54 907.77,247.71" fill="#fff100"/><polygon points="935.85,240.9 929.28,248.94 925.5,240.11" fill="#fff100"/><line x1="1036.06" y1="296.88" x2="1056.74" y2="288.54" stroke="#fff100" stroke-width="2.1"/><polygon points="1029.24,299.64 1039.57,300.65 1035.97,291.74" fill="#fff100"/><polygon points="1063.56,285.78 1056.83,293.68 1053.23,284.77" fill="#fff100"/><line x1="989.67" y1="163.7" x2="1007.43" y2="176.53" stroke="#e60012" stroke-width="2.1"/><polygon points="983.7,159.39 988.35,168.67 993.97,160.89" fill="#e60012"/><polygon points="1013.4,180.84 1003.13,179.34 1008.75,171.56" fill="#e60012"/><line x1="1204.83" y1="131.36" x2="1222.59" y2="144.19" stroke="#e60012" stroke-width="2.1"/><polygon points="1198.86,127.05 1203.51,136.33 1209.13,128.55" fill="#e60012"/><polygon points="1228.56,148.5 1218.29,147 1223.91,139.22" fill="#e60012"/><line x1="1153.02" y1="201.65" x2="1170.78" y2="214.48" stroke="#e60012" stroke-width="2.1"/><polygon points="1147.05,197.34 1151.7,206.62 1157.32,198.84" fill="#e60012"/><polygon points="1176.75,218.79 1166.48,217.29 1172.1,209.51" fill="#e60012"/><line x1="1120.97" y1="151.87" x2="1119.01" y2="173.51" stroke="#1c4bff" stroke-width="2.1"/><polygon points="1121.64,144.54 1116.03,153.27 1125.59,154.14" fill="#1c4bff"/><polygon points="1118.34,180.84 1114.39,171.24 1123.95,172.11" fill="#1c4bff"/><line x1="1135.49" y1="244.93" x2="1133.53" y2="266.57" stroke="#1c4bff" stroke-width="2.1"/><polygon points="1136.16,237.6 1130.55,246.33 1140.11,247.2" fill="#1c4bff"/><polygon points="1132.86,273.9 1128.91,264.3 1138.47,265.17" fill="#1c4bff"/><line x1="842.78" y1="307.63" x2="840.82" y2="329.27" stroke="#1c4bff" stroke-width="2.1"/><polygon points="843.45,300.3 837.84,309.03 847.4,309.9" fill="#1c4bff"/><polygon points="840.15,336.6 836.2,327 845.76,327.87" fill="#1c4bff"/><line x1="1010.71" y1="60.27" x2="1031.35" y2="51.33" stroke="#fff100" stroke-width="2.1"/><polygon points="1003.96,63.2 1014.31,63.94 1010.49,55.14" fill="#fff100"/><polygon points="1038.1,48.4 1031.57,56.46 1027.75,47.66" fill="#fff100"/><line x1="1004.94" y1="79.85" x2="1023.36" y2="93.35" stroke="#e60012" stroke-width="2.1"/><polygon points="999,75.5 1003.58,84.81 1009.26,77.07" fill="#e60012"/><polygon points="1029.3,97.7 1019.04,96.13 1024.72,88.39" fill="#e60012"/><line x1="1047.39" y1="64.41" x2="1044.91" y2="86.59" stroke="#1c4bff" stroke-width="2.1"/><polygon points="1048.2,57.1 1042.41,65.71 1051.95,66.77" fill="#1c4bff"/><polygon points="1044.1,93.9 1040.35,84.23 1049.89,85.29" fill="#1c4bff"/><line x1="957.51" y1="341.88" x2="975.79" y2="355.42" stroke="#e60012" stroke-width="2.1"/><polygon points="951.6,337.5 956.13,346.83 961.85,339.12" fill="#e60012"/><polygon points="981.7,359.8 971.45,358.18 977.17,350.47" fill="#e60012"/><line x1="967.86" y1="384.41" x2="965.34" y2="406.39" stroke="#1c4bff" stroke-width="2.1"/><polygon points="968.7,377.1 962.88,385.69 972.42,386.79" fill="#1c4bff"/><polygon points="964.5,413.7 960.78,404.01 970.32,405.11" fill="#1c4bff"/><line x1="992.95" y1="378.77" x2="1014.45" y2="369.43" stroke="#fff100" stroke-width="2.1"/><polygon points="986.2,381.7 996.55,382.44 992.73,373.63" fill="#fff100"/><polygon points="1021.2,366.5 1014.67,374.57 1010.85,365.76" fill="#fff100"/>
<text transform="translate(999.8,55) rotate(-23)" font-size="21.5" fill="#fff100" stroke="#fff100" stroke-width="0.55">120°</text>
<text transform="translate(993.4,105.4) rotate(36)" font-size="21.5" fill="#e60012" stroke="#e60012" stroke-width="0.55"><tspan font-style="italic">0</tspan>°</text>
<text transform="translate(1061,53.5) rotate(96)" font-size="21.5" fill="#1c4bff" stroke="#1c4bff" stroke-width="0.55">-120°</text>
<text transform="translate(970.2,337.5) rotate(36)" font-size="21.5" fill="#e60012" stroke="#e60012" stroke-width="0.55"><tspan font-style="italic">0</tspan>°</text>
<text transform="translate(942.2,367.5) rotate(96)" font-size="21.5" fill="#1c4bff" stroke="#1c4bff" stroke-width="0.55">-120°</text>
<text transform="translate(998.7,404.2) rotate(-20.5)" font-size="21.5" fill="#fff100" stroke="#fff100" stroke-width="0.55">120°</text>
<rect x="1224.4" y="420.8" width="87.6" height="7" fill="#fff"/>
<text x="1231" y="411.6" font-size="26" fill="#fff">20 µm</text>
<text x="1373" y="20.8" font-size="31" font-weight="bold" fill="#140d0b">c</text>
<path d="M1460,413 L1460,409.83 L1463.69,409.83 L1463.69,409.83 L1471.08,409.83 L1471.08,410.74 L1478.47,410.74 L1478.47,409.83 L1485.86,409.83 L1485.86,413 L1493.25,413 L1493.25,403.94 L1500.64,403.94 L1500.64,403.94 L1508.03,403.94 L1508.03,390.8 L1515.42,390.8 L1515.42,377.21 L1522.81,377.21 L1522.81,359.09 L1530.19,359.09 L1530.19,278.01 L1537.58,278.01 L1537.58,205.53 L1544.97,205.53 L1544.97,51.05 L1552.36,51.05 L1552.36,164.76 L1559.75,164.76 L1559.75,286.61 L1567.14,286.61 L1567.14,331.91 L1574.53,331.91 L1574.53,386.73 L1581.92,386.73 L1581.92,395.33 L1589.31,395.33 L1589.31,403.94 L1596.69,403.94 L1596.69,408.92 L1604.08,408.92 L1604.08,403.94 L1611.47,403.94 L1611.47,413 L1618.86,413 L1618.86,408.47 L1626.25,408.47 L1626.25,413 L1633.64,413 L1633.64,410.28 L1641.03,410.28 L1641.03,408.47 L1648.42,408.47 L1648.42,413 L1655.81,413 L1655.81,408.92 L1663.19,408.92 L1663.19,411.19 L1670.58,411.19 L1670.58,410.28 L1677.97,410.28 L1677.97,406.2 L1685.36,406.2 L1685.36,399.86 L1692.75,399.86 L1692.75,381.74 L1700.14,381.74 L1700.14,331.91 L1707.53,331.91 L1707.53,263.96 L1714.92,263.96 L1714.92,209.6 L1722.31,209.6 L1722.31,42.45 L1729.69,42.45 L1729.69,191.48 L1737.08,191.48 L1737.08,272.57 L1744.47,272.57 L1744.47,300.2 L1751.86,300.2 L1751.86,335.99 L1759.25,335.99 L1759.25,372.68 L1766.64,372.68 L1766.64,390.8 L1774.03,390.8 L1774.03,392.16 L1781.42,392.16 L1781.42,403.94 L1788.81,403.94 L1788.81,408.02 L1796.19,408.02 L1796.19,413 L1803.58,413 L1803.58,410.28 L1810.97,410.28 L1810.97,413 L1818.36,413 L1818.36,411.19 L1825.75,411.19 L1825.75,412.09 L1833.14,412.09 L1833.14,411.19 L1840.53,411.19 L1840.53,413 L1847.92,413 L1847.92,402.13 L1855.31,402.13 L1855.31,395.33 L1862.69,395.33 L1862.69,378.12 L1870.08,378.12 L1870.08,355.47 L1877.47,355.47 L1877.47,308.36 L1884.86,308.36 L1884.86,271.21 L1892.25,271.21 L1892.25,218.66 L1899.64,218.66 L1899.64,37.01 L1907.03,37.01 L1907.03,177.44 L1914.42,177.44 L1914.42,276.19 L1921.81,276.19 L1921.81,319.68 L1929.19,319.68 L1929.19,381.74 L1936.58,381.74 L1936.58,396.69 L1943.97,396.69 L1943.97,407.56 L1951.36,407.56 L1951.36,408.92 L1958.75,408.92 L1958.75,409.15 L1966.14,409.15 L1966.14,409.38 L1973.53,409.38 L1973.53,408.47 L1980.92,408.47 L1980.92,413 L1988.31,413 L1988.31,410.28 L1992,410.28 L1992,413 Z" fill="#00f0c8"/>
<rect x="1460.0" y="6.8" width="532" height="406.2" fill="none" stroke="#000" stroke-width="3.7"/>
<g stroke="#000" stroke-width="3.5"><line x1="1451.6" y1="413" x2="1460.0" y2="413"/><line x1="1455.4" y1="367.7" x2="1460.0" y2="367.7"/><line x1="1451.6" y1="322.4" x2="1460.0" y2="322.4"/><line x1="1455.4" y1="277.1" x2="1460.0" y2="277.1"/><line x1="1451.6" y1="231.8" x2="1460.0" y2="231.8"/><line x1="1455.4" y1="186.5" x2="1460.0" y2="186.5"/><line x1="1451.6" y1="141.2" x2="1460.0" y2="141.2"/><line x1="1455.4" y1="95.9" x2="1460.0" y2="95.9"/><line x1="1451.6" y1="50.6" x2="1460.0" y2="50.6"/><line x1="1460" y1="413.0" x2="1460" y2="417.6"/><line x1="1548.67" y1="413.0" x2="1548.67" y2="421.4"/><line x1="1637.33" y1="413.0" x2="1637.33" y2="417.6"/><line x1="1726" y1="413.0" x2="1726" y2="421.4"/><line x1="1814.67" y1="413.0" x2="1814.67" y2="417.6"/><line x1="1903.33" y1="413.0" x2="1903.33" y2="421.4"/><line x1="1992" y1="413.0" x2="1992" y2="417.6"/></g>
<g font-size="27" fill="#000"><text transform="translate(1444.7,422.4) scale(1.04,1)" text-anchor="end">0</text><text transform="translate(1444.7,331.8) scale(1.04,1)" text-anchor="end">20</text><text transform="translate(1444.7,241.2) scale(1.04,1)" text-anchor="end">40</text><text transform="translate(1444.7,150.6) scale(1.04,1)" text-anchor="end">60</text><text transform="translate(1444.7,60) scale(1.04,1)" text-anchor="end">80</text><text transform="translate(1548.67,448.7) scale(1.04,1)" text-anchor="middle">-120</text><text transform="translate(1726,448.7) scale(1.04,1)" text-anchor="middle">0</text><text transform="translate(1903.33,448.7) scale(1.04,1)" text-anchor="middle">120</text></g>
<text x="1708" y="485.5" font-size="30.5" text-anchor="middle" fill="#000">Direction (degree)</text>
<text transform="translate(1395,210) rotate(-90)" font-size="30.5" text-anchor="middle" fill="#000">Counts (arb.units)</text>
<text x="6" y="553.5" font-size="31" font-weight="bold" fill="#140d0b">d</text>
<defs><radialGradient id="bgd" cx="0.35" cy="0.3" r="0.9"><stop offset="0" stop-color="#99897b"/><stop offset="0.6" stop-color="#968578"/><stop offset="1" stop-color="#8c7c70"/></radialGradient><filter id="bld" x="-10%" y="-20%" width="120%" height="140%"><feGaussianBlur stdDeviation="3.6"/></filter><clipPath id="cpd"><circle cx="261" cy="752.4" r="213.4"/></clipPath></defs>
<circle cx="261" cy="752.4" r="213.4" fill="url(#bgd)"/>
<g clip-path="url(#cpd)"><g filter="url(#bld)"><polygon points="30,872.16 34,868.72 38,865.28 42,861.83 46,858.39 50,854.95 54,851.51 58,848.07 62,844.63 66,841.18 70,837.74 74,834.36 78,831.14 82,827.93 86,824.71 90,821.5 94,818.28 98,815.07 102,811.85 106,808.64 110,805.43 114,802.21 118,799 122,795.78 126,792.57 130,789.51 134,786.6 138,783.69 142,780.78 146,777.87 150,774.96 154,772.05 158,769.14 162,766.23 166,763.32 170,760.41 174,757.56 178,754.76 182,751.96 186,749.16 190,746.36 194,743.56 198,740.76 202,737.96 206,735.16 210,732.36 214,729.56 218,726.93 222,724.48 226,722.02 230,719.57 234,717.11 238,714.66 242,712.66 246,710.66 250,708.66 254,706.66 258,704.66 262,702.89 266,701.36 270,699.82 274,698.28 278,696.75 282,695.21 286,693.67 290,692.14 294,690.6 298,689.06 302,687.53 306,686.13 310,684.87 314,683.61 318,682.35 322,681.09 326,679.83 330,678.57 334,677.31 338,676.04 342,674.78 346,673.52 350,672.26 354,671 358,669.74 362,668.48 366,667.22 370,665.96 374,664.88 378,663.8 382,662.72 386,661.64 390,660.56 394,659.48 398,658.4 402,657.32 406,656.24 410,655.15 414,654.07 418,652.99 422,651.91 426,650.83 430,649.75 434,648.67 438,647.59 442,646.51 446,645.43 450,644.38 454,643.34 458,642.3 462,641.26 466,640.21 470,639.17 474,638.13 478,637.09 482,636.05 486,635.01 490,633.97 494,632.93 498,631.89 502,630.84 506,629.8 510,628.76 514,627.72 518,626.68 518,662.92 514,665.07 510,667.22 506,669.37 502,671.52 498,673.67 494,675.83 490,677.98 486,680.13 482,682.28 478,684.43 474,686.58 470,688.74 466,690.89 462,693.04 458,695.19 454,697.35 450,699.5 446,701.66 442,703.81 438,705.96 434,708.24 430,710.64 426,713.04 422,715.44 418,717.84 414,720.24 410,722.64 406,725.04 402,727.44 398,729.84 394,732.24 390,734.69 386,737.18 382,739.67 378,742.16 374,744.65 370,747.14 366,749.63 362,752.12 358,754.61 354,757.1 350,759.59 346,762.34 342,765.34 338,768.34 334,771.34 330,774.34 326,777.34 322,779.9 318,782.47 314,785.03 310,787.59 306,790.16 302,792.29 298,793.98 294,795.67 290,797.36 286,799.05 282,800.74 278,802.43 274,804.12 270,805.81 266,807.5 262,809.19 258,810.67 254,811.93 250,813.19 246,814.45 242,815.71 238,816.97 234,818.23 230,819.49 226,820.76 222,822.02 218,823.28 214,824.54 210,825.8 206,827.06 202,828.32 198,829.58 194,830.84 190,832.17 186,833.51 182,834.84 178,836.17 174,837.51 170,838.84 166,840.17 162,841.51 158,842.84 154,844.17 150,845.51 146,846.84 142,848.17 138,849.51 134,850.84 130,852.17 126,853.65 122,855.28 118,856.91 114,858.54 110,860.16 106,861.79 102,863.42 98,865.05 94,866.68 90,868.3 86,869.93 82,871.56 78,873.12 74,874.68 70,876.24 66,877.8 62,879.36 58,880.92 54,882.48 50,884.04 46,885.6 42,887.16 38,888.72 34,890.28 30,891.84" fill="#8c7088" fill-opacity="0.5"/><polygon points="30,877.2 34,873.76 38,870.32 42,866.87 46,863.43 50,859.99 54,856.55 58,853.11 62,849.67 66,846.22 70,842.78 74,839.4 78,836.18 82,832.97 86,829.75 90,826.54 94,823.32 98,820.11 102,816.89 106,813.68 110,810.47 114,807.25 118,804.04 122,800.82 126,797.61 130,794.55 134,791.64 138,788.73 142,785.82 146,782.91 150,780 154,777.09 158,774.18 162,771.27 166,768.36 170,765.45 174,762.6 178,759.8 182,757 186,754.2 190,751.4 194,748.6 198,745.8 202,743 206,740.2 210,737.4 214,734.6 218,731.97 222,729.52 226,727.06 230,724.61 234,722.15 238,719.7 242,717.7 246,715.7 250,713.7 254,711.7 258,709.7 262,707.93 266,706.4 270,704.86 274,703.32 278,701.79 282,700.25 286,698.71 290,697.18 294,695.64 298,694.1 302,692.57 306,691.17 310,689.91 314,688.65 318,687.39 322,686.13 326,684.87 330,683.61 334,682.35 338,681.08 342,679.82 346,678.56 350,677.3 354,676.04 358,674.78 362,673.52 366,672.26 370,671 374,669.92 378,668.84 382,667.76 386,666.68 390,665.6 394,664.52 398,663.44 402,662.36 406,661.28 410,660.19 414,659.11 418,658.03 422,656.95 426,655.87 430,654.79 434,653.71 438,652.63 442,651.55 446,650.47 450,649.42 454,648.38 458,647.34 462,646.3 466,645.25 470,644.21 474,643.17 478,642.13 482,641.09 486,640.05 490,639.01 494,637.97 498,636.93 502,635.88 506,634.84 510,633.8 514,632.76 518,631.72 518,657.88 514,660.03 510,662.18 506,664.33 502,666.48 498,668.63 494,670.79 490,672.94 486,675.09 482,677.24 478,679.39 474,681.54 470,683.7 466,685.85 462,688 458,690.15 454,692.31 450,694.46 446,696.62 442,698.77 438,700.92 434,703.2 430,705.6 426,708 422,710.4 418,712.8 414,715.2 410,717.6 406,720 402,722.4 398,724.8 394,727.2 390,729.65 386,732.14 382,734.63 378,737.12 374,739.61 370,742.1 366,744.59 362,747.08 358,749.57 354,752.06 350,754.55 346,757.3 342,760.3 338,763.3 334,766.3 330,769.3 326,772.3 322,774.86 318,777.43 314,779.99 310,782.55 306,785.12 302,787.25 298,788.94 294,790.63 290,792.32 286,794.01 282,795.7 278,797.39 274,799.08 270,800.77 266,802.46 262,804.15 258,805.63 254,806.89 250,808.15 246,809.41 242,810.67 238,811.93 234,813.19 230,814.45 226,815.72 222,816.98 218,818.24 214,819.5 210,820.76 206,822.02 202,823.28 198,824.54 194,825.8 190,827.13 186,828.47 182,829.8 178,831.13 174,832.47 170,833.8 166,835.13 162,836.47 158,837.8 154,839.13 150,840.47 146,841.8 142,843.13 138,844.47 134,845.8 130,847.13 126,848.61 122,850.24 118,851.87 114,853.5 110,855.12 106,856.75 102,858.38 98,860.01 94,861.64 90,863.26 86,864.89 82,866.52 78,868.08 74,869.64 70,871.2 66,872.76 62,874.32 58,875.88 54,877.44 50,879 46,880.56 42,882.12 38,883.68 34,885.24 30,886.8" fill="#5a5a9c" fill-opacity="0.85"/><polygon points="30,881.68 34,878.24 38,874.8 42,871.35 46,867.91 50,864.47 54,861.03 58,857.59 62,854.15 66,850.7 70,847.26 74,843.88 78,840.66 82,837.45 86,834.23 90,831.02 94,827.8 98,824.59 102,821.37 106,818.16 110,814.95 114,811.73 118,808.52 122,805.3 126,802.09 130,799.03 134,796.12 138,793.21 142,790.3 146,787.39 150,784.48 154,781.57 158,778.66 162,775.75 166,772.84 170,769.93 174,767.08 178,764.28 182,761.48 186,758.68 190,755.88 194,753.08 198,750.28 202,747.48 206,744.68 210,741.88 214,739.08 218,736.45 222,734 226,731.54 230,729.09 234,726.63 238,724.18 242,722.18 246,720.18 250,718.18 254,716.18 258,714.18 262,712.41 266,710.88 270,709.34 274,707.8 278,706.27 282,704.73 286,703.19 290,701.66 294,700.12 298,698.58 302,697.05 306,695.65 310,694.39 314,693.13 318,691.87 322,690.61 326,689.35 330,688.09 334,686.83 338,685.56 342,684.3 346,683.04 350,681.78 354,680.52 358,679.26 362,678 366,676.74 370,675.48 374,674.4 378,673.32 382,672.24 386,671.16 390,670.08 394,669 398,667.92 402,666.84 406,665.76 410,664.67 414,663.59 418,662.51 422,661.43 426,660.35 430,659.27 434,658.19 438,657.11 442,656.03 446,654.95 450,653.9 454,652.86 458,651.82 462,650.78 466,649.73 470,648.69 474,647.65 478,646.61 482,645.57 486,644.53 490,643.49 494,642.45 498,641.41 502,640.36 506,639.32 510,638.28 514,637.24 518,636.2 518,653.4 514,655.55 510,657.7 506,659.85 502,662 498,664.15 494,666.31 490,668.46 486,670.61 482,672.76 478,674.91 474,677.06 470,679.22 466,681.37 462,683.52 458,685.67 454,687.83 450,689.98 446,692.14 442,694.29 438,696.44 434,698.72 430,701.12 426,703.52 422,705.92 418,708.32 414,710.72 410,713.12 406,715.52 402,717.92 398,720.32 394,722.72 390,725.17 386,727.66 382,730.15 378,732.64 374,735.13 370,737.62 366,740.11 362,742.6 358,745.09 354,747.58 350,750.07 346,752.82 342,755.82 338,758.82 334,761.82 330,764.82 326,767.82 322,770.38 318,772.95 314,775.51 310,778.07 306,780.64 302,782.77 298,784.46 294,786.15 290,787.84 286,789.53 282,791.22 278,792.91 274,794.6 270,796.29 266,797.98 262,799.67 258,801.15 254,802.41 250,803.67 246,804.93 242,806.19 238,807.45 234,808.71 230,809.97 226,811.24 222,812.5 218,813.76 214,815.02 210,816.28 206,817.54 202,818.8 198,820.06 194,821.32 190,822.65 186,823.99 182,825.32 178,826.65 174,827.99 170,829.32 166,830.65 162,831.99 158,833.32 154,834.65 150,835.99 146,837.32 142,838.65 138,839.99 134,841.32 130,842.65 126,844.13 122,845.76 118,847.39 114,849.02 110,850.64 106,852.27 102,853.9 98,855.53 94,857.16 90,858.78 86,860.41 82,862.04 78,863.6 74,865.16 70,866.72 66,868.28 62,869.84 58,871.4 54,872.96 50,874.52 46,876.08 42,877.64 38,879.2 34,880.76 30,882.32" fill="#2b55a2" fill-opacity="1"/><polygon points="46,871.83 50,868.39 54,864.95 58,861.51 62,858.07 66,854.62 70,851.18 74,847.8 78,844.58 82,841.37 86,838.15 90,834.94 94,831.72 98,828.51 102,825.29 106,822.08 110,818.87 114,815.65 118,812.44 122,809.22 126,806.01 130,802.95 134,800.04 138,797.13 142,794.22 146,791.31 150,788.4 154,785.49 158,782.58 162,779.67 166,776.76 170,773.85 174,771 178,768.2 182,765.4 186,762.6 190,759.8 194,757 198,754.2 202,751.4 206,748.6 210,745.8 214,743 218,740.37 222,737.92 226,735.46 230,733.01 234,730.55 238,728.1 242,726.1 246,724.1 250,722.1 254,720.1 258,718.1 262,716.33 266,714.8 270,713.26 274,711.72 278,710.19 282,708.65 286,707.11 290,705.58 294,704.04 298,702.5 302,700.97 306,699.57 310,698.31 314,697.05 318,695.79 322,694.53 326,693.27 330,692.01 334,690.75 338,689.48 342,688.22 346,686.96 350,685.7 354,684.44 358,683.18 362,681.92 366,680.66 370,679.4 374,678.32 378,677.24 382,676.16 386,675.08 390,674 394,672.92 398,671.84 402,670.76 406,669.68 410,668.59 414,667.51 418,666.43 422,665.35 426,664.27 430,663.19 434,662.11 438,661.03 442,659.95 446,658.87 450,657.82 454,656.78 458,655.74 462,654.7 466,653.65 470,652.61 474,651.57 478,650.53 482,649.49 486,648.45 490,647.41 494,646.37 498,645.33 502,644.28 506,643.24 510,642.2 514,641.16 518,640.12 518,649.48 514,651.63 510,653.78 506,655.93 502,658.08 498,660.23 494,662.39 490,664.54 486,666.69 482,668.84 478,670.99 474,673.14 470,675.3 466,677.45 462,679.6 458,681.75 454,683.91 450,686.06 446,688.22 442,690.37 438,692.52 434,694.8 430,697.2 426,699.6 422,702 418,704.4 414,706.8 410,709.2 406,711.6 402,714 398,716.4 394,718.8 390,721.25 386,723.74 382,726.23 378,728.72 374,731.21 370,733.7 366,736.19 362,738.68 358,741.17 354,743.66 350,746.15 346,748.9 342,751.9 338,754.9 334,757.9 330,760.9 326,763.9 322,766.46 318,769.03 314,771.59 310,774.15 306,776.72 302,778.85 298,780.54 294,782.23 290,783.92 286,785.61 282,787.3 278,788.99 274,790.68 270,792.37 266,794.06 262,795.75 258,797.23 254,798.49 250,799.75 246,801.01 242,802.27 238,803.53 234,804.79 230,806.05 226,807.32 222,808.58 218,809.84 214,811.1 210,812.36 206,813.62 202,814.88 198,816.14 194,817.4 190,818.73 186,820.07 182,821.4 178,822.73 174,824.07 170,825.4 166,826.73 162,828.07 158,829.4 154,830.73 150,832.07 146,833.4 142,834.73 138,836.07 134,837.4 130,838.73 126,840.21 122,841.84 118,843.47 114,845.1 110,846.72 106,848.35 102,849.98 98,851.61 94,853.24 90,854.86 86,856.49 82,858.12 78,859.68 74,861.24 70,862.8 66,864.36 62,865.92 58,867.48 54,869.04 50,870.6 46,872.16" fill="#2070b6" fill-opacity="1"/><polygon points="62,861.99 66,858.54 70,855.1 74,851.72 78,848.5 82,845.29 86,842.07 90,838.86 94,835.64 98,832.43 102,829.21 106,826 110,822.79 114,819.57 118,816.36 122,813.14 126,809.93 130,806.87 134,803.96 138,801.05 142,798.14 146,795.23 150,792.32 154,789.41 158,786.5 162,783.59 166,780.68 170,777.77 174,774.92 178,772.12 182,769.32 186,766.52 190,763.72 194,760.92 198,758.12 202,755.32 206,752.52 210,749.72 214,746.92 218,744.29 222,741.84 226,739.38 230,736.93 234,734.47 238,732.02 242,730.02 246,728.02 250,726.02 254,724.02 258,722.02 262,720.25 266,718.72 270,717.18 274,715.64 278,714.11 282,712.57 286,711.03 290,709.5 294,707.96 298,706.42 302,704.89 306,703.49 310,702.23 314,700.97 318,699.71 322,698.45 326,697.19 330,695.93 334,694.67 338,693.4 342,692.14 346,690.88 350,689.62 354,688.36 358,687.1 362,685.84 366,684.58 370,683.32 374,682.24 378,681.16 382,680.08 386,679 390,677.92 394,676.84 398,675.76 402,674.68 406,673.6 410,672.51 414,671.43 418,670.35 422,669.27 426,668.19 430,667.11 434,666.03 438,664.95 442,663.87 446,662.79 450,661.74 454,660.7 458,659.66 462,658.62 466,657.57 470,656.53 474,655.49 478,654.45 482,653.41 486,652.37 490,651.33 494,650.29 498,649.25 502,648.2 506,647.16 510,646.12 514,645.08 518,644.04 518,645.56 514,647.71 510,649.86 506,652.01 502,654.16 498,656.31 494,658.47 490,660.62 486,662.77 482,664.92 478,667.07 474,669.22 470,671.38 466,673.53 462,675.68 458,677.83 454,679.99 450,682.14 446,684.3 442,686.45 438,688.6 434,690.88 430,693.28 426,695.68 422,698.08 418,700.48 414,702.88 410,705.28 406,707.68 402,710.08 398,712.48 394,714.88 390,717.33 386,719.82 382,722.31 378,724.8 374,727.29 370,729.78 366,732.27 362,734.76 358,737.25 354,739.74 350,742.23 346,744.98 342,747.98 338,750.98 334,753.98 330,756.98 326,759.98 322,762.54 318,765.11 314,767.67 310,770.23 306,772.8 302,774.93 298,776.62 294,778.31 290,780 286,781.69 282,783.38 278,785.07 274,786.76 270,788.45 266,790.14 262,791.83 258,793.31 254,794.57 250,795.83 246,797.09 242,798.35 238,799.61 234,800.87 230,802.13 226,803.4 222,804.66 218,805.92 214,807.18 210,808.44 206,809.7 202,810.96 198,812.22 194,813.48 190,814.81 186,816.15 182,817.48 178,818.81 174,820.15 170,821.48 166,822.81 162,824.15 158,825.48 154,826.81 150,828.15 146,829.48 142,830.81 138,832.15 134,833.48 130,834.81 126,836.29 122,837.92 118,839.55 114,841.18 110,842.8 106,844.43 102,846.06 98,847.69 94,849.32 90,850.94 86,852.57 82,854.2 78,855.76 74,857.32 70,858.88 66,860.44 62,862" fill="#1eaac2" fill-opacity="1"/><polygon points="78,851.86 82,848.65 86,845.43 90,842.22 94,839 98,835.79 102,832.57 106,829.36 110,826.15 114,822.93 118,819.72 122,816.5 126,813.29 130,810.23 134,807.32 138,804.41 142,801.5 146,798.59 150,795.68 154,792.77 158,789.86 162,786.95 166,784.04 170,781.13 174,778.28 178,775.48 182,772.68 186,769.88 190,767.08 194,764.28 198,761.48 202,758.68 206,755.88 210,753.08 214,750.28 218,747.65 222,745.2 226,742.74 230,740.29 234,737.83 238,735.38 242,733.38 246,731.38 250,729.38 254,727.38 258,725.38 262,723.61 266,722.08 270,720.54 274,719 278,717.47 282,715.93 286,714.39 290,712.86 294,711.32 298,709.78 302,708.25 306,706.85 310,705.59 314,704.33 318,703.07 322,701.81 326,700.55 330,699.29 334,698.03 338,696.76 342,695.5 346,694.24 350,692.98 354,691.72 358,690.46 362,689.2 366,687.94 370,686.68 374,685.6 378,684.52 382,683.44 386,682.36 390,681.28 394,680.2 398,679.12 402,678.04 406,676.96 410,675.87 414,674.79 418,673.71 422,672.63 426,671.55 430,670.47 434,669.39 438,668.31 442,667.23 446,666.15 450,665.1 454,664.06 458,663.02 462,661.98 466,660.93 470,659.89 474,658.85 478,657.81 482,656.77 486,655.73 490,654.69 494,653.65 498,652.61 498,652.95 494,655.11 490,657.26 486,659.41 482,661.56 478,663.71 474,665.86 470,668.02 466,670.17 462,672.32 458,674.47 454,676.63 450,678.78 446,680.94 442,683.09 438,685.24 434,687.52 430,689.92 426,692.32 422,694.72 418,697.12 414,699.52 410,701.92 406,704.32 402,706.72 398,709.12 394,711.52 390,713.97 386,716.46 382,718.95 378,721.44 374,723.93 370,726.42 366,728.91 362,731.4 358,733.89 354,736.38 350,738.87 346,741.62 342,744.62 338,747.62 334,750.62 330,753.62 326,756.62 322,759.18 318,761.75 314,764.31 310,766.87 306,769.44 302,771.57 298,773.26 294,774.95 290,776.64 286,778.33 282,780.02 278,781.71 274,783.4 270,785.09 266,786.78 262,788.47 258,789.95 254,791.21 250,792.47 246,793.73 242,794.99 238,796.25 234,797.51 230,798.77 226,800.04 222,801.3 218,802.56 214,803.82 210,805.08 206,806.34 202,807.6 198,808.86 194,810.12 190,811.45 186,812.79 182,814.12 178,815.45 174,816.79 170,818.12 166,819.45 162,820.79 158,822.12 154,823.45 150,824.79 146,826.12 142,827.45 138,828.79 134,830.12 130,831.45 126,832.93 122,834.56 118,836.19 114,837.82 110,839.44 106,841.07 102,842.7 98,844.33 94,845.96 90,847.58 86,849.21 82,850.84 78,852.4" fill="#2adcb4" fill-opacity="1"/><polygon points="94,842.36 98,839.15 102,835.93 106,832.72 110,829.51 114,826.29 118,823.08 122,819.86 126,816.65 130,813.59 134,810.68 138,807.77 142,804.86 146,801.95 150,799.04 154,796.13 158,793.22 162,790.31 166,787.4 170,784.49 174,781.64 178,778.84 182,776.04 186,773.24 190,770.44 194,767.64 198,764.84 202,762.04 206,759.24 210,756.44 214,753.64 218,751.01 222,748.56 226,746.1 230,743.65 234,741.19 238,738.74 242,736.74 246,734.74 250,732.74 254,730.74 258,728.74 262,726.97 266,725.44 270,723.9 274,722.36 278,720.83 282,719.29 286,717.75 290,716.22 294,714.68 298,713.14 302,711.61 306,710.21 310,708.95 314,707.69 318,706.43 322,705.17 326,703.91 330,702.65 334,701.39 338,700.12 342,698.86 346,697.6 350,696.34 354,695.08 358,693.82 362,692.56 366,691.3 370,690.04 374,688.96 378,687.88 382,686.8 386,685.72 390,684.64 394,683.56 398,682.48 402,681.4 406,680.32 410,679.23 414,678.15 418,677.07 422,675.99 426,674.91 430,673.83 434,672.75 438,671.67 442,670.59 446,669.51 450,668.46 454,667.42 458,666.38 462,665.34 466,664.29 470,663.25 474,662.21 474,662.5 470,664.66 466,666.81 462,668.96 458,671.11 454,673.27 450,675.42 446,677.58 442,679.73 438,681.88 434,684.16 430,686.56 426,688.96 422,691.36 418,693.76 414,696.16 410,698.56 406,700.96 402,703.36 398,705.76 394,708.16 390,710.61 386,713.1 382,715.59 378,718.08 374,720.57 370,723.06 366,725.55 362,728.04 358,730.53 354,733.02 350,735.51 346,738.26 342,741.26 338,744.26 334,747.26 330,750.26 326,753.26 322,755.82 318,758.39 314,760.95 310,763.51 306,766.08 302,768.21 298,769.9 294,771.59 290,773.28 286,774.97 282,776.66 278,778.35 274,780.04 270,781.73 266,783.42 262,785.11 258,786.59 254,787.85 250,789.11 246,790.37 242,791.63 238,792.89 234,794.15 230,795.41 226,796.68 222,797.94 218,799.2 214,800.46 210,801.72 206,802.98 202,804.24 198,805.5 194,806.76 190,808.09 186,809.43 182,810.76 178,812.09 174,813.43 170,814.76 166,816.09 162,817.43 158,818.76 154,820.09 150,821.43 146,822.76 142,824.09 138,825.43 134,826.76 130,828.09 126,829.57 122,831.2 118,832.83 114,834.46 110,836.08 106,837.71 102,839.34 98,840.97 94,842.6" fill="#4af8a6" fill-opacity="1"/><polygon points="126,822.81 130,819.75 134,816.84 138,813.93 142,811.02 146,808.11 150,805.2 154,802.29 158,799.38 162,796.47 166,793.56 170,790.65 174,787.8 178,785 182,782.2 186,779.4 190,776.6 194,773.8 198,771 202,768.2 206,765.4 210,762.6 214,759.8 218,757.17 222,754.72 226,752.26 230,749.81 234,747.35 238,744.9 242,742.9 246,740.9 250,738.9 254,736.9 258,734.9 262,733.13 266,731.6 270,730.06 274,728.52 278,726.99 282,725.45 286,723.91 290,722.38 294,720.84 298,719.3 302,717.77 306,716.37 310,715.11 314,713.85 318,712.59 322,711.33 326,710.07 330,708.81 334,707.55 338,706.28 342,705.02 346,703.76 350,702.5 354,701.24 358,699.98 362,698.72 366,697.46 370,696.2 374,695.12 378,694.04 382,692.96 386,691.88 390,690.8 394,689.72 398,688.64 402,687.56 406,686.48 410,685.39 414,684.31 418,683.23 422,682.15 426,681.07 430,679.99 430,680.4 426,682.8 422,685.2 418,687.6 414,690 410,692.4 406,694.8 402,697.2 398,699.6 394,702 390,704.45 386,706.94 382,709.43 378,711.92 374,714.41 370,716.9 366,719.39 362,721.88 358,724.37 354,726.86 350,729.35 346,732.1 342,735.1 338,738.1 334,741.1 330,744.1 326,747.1 322,749.66 318,752.23 314,754.79 310,757.35 306,759.92 302,762.05 298,763.74 294,765.43 290,767.12 286,768.81 282,770.5 278,772.19 274,773.88 270,775.57 266,777.26 262,778.95 258,780.43 254,781.69 250,782.95 246,784.21 242,785.47 238,786.73 234,787.99 230,789.25 226,790.52 222,791.78 218,793.04 214,794.3 210,795.56 206,796.82 202,798.08 198,799.34 194,800.6 190,801.93 186,803.27 182,804.6 178,805.93 174,807.27 170,808.6 166,809.93 162,811.27 158,812.6 154,813.93 150,815.27 146,816.6 142,817.93 138,819.27 134,820.6 130,821.93 126,823.41" fill="#84f08a" fill-opacity="1"/><polygon points="154,807.89 158,804.98 162,802.07 166,799.16 170,796.25 174,793.4 178,790.6 182,787.8 186,785 190,782.2 194,779.4 198,776.6 202,773.8 206,771 210,768.2 214,765.4 218,762.77 222,760.32 226,757.86 230,755.41 234,752.95 238,750.5 242,748.5 246,746.5 250,744.5 254,742.5 258,740.5 262,738.73 266,737.2 270,735.66 274,734.12 278,732.59 282,731.05 286,729.51 290,727.98 294,726.44 298,724.9 302,723.37 306,721.97 310,720.71 314,719.45 318,718.19 322,716.93 326,715.67 330,714.41 334,713.15 338,711.88 342,710.62 346,709.36 350,708.1 354,706.84 358,705.58 362,704.32 366,703.06 370,701.8 374,700.72 378,699.64 382,698.56 386,697.48 390,696.4 394,695.32 394,696.4 390,698.85 386,701.34 382,703.83 378,706.32 374,708.81 370,711.3 366,713.79 362,716.28 358,718.77 354,721.26 350,723.75 346,726.5 342,729.5 338,732.5 334,735.5 330,738.5 326,741.5 322,744.06 318,746.63 314,749.19 310,751.75 306,754.32 302,756.45 298,758.14 294,759.83 290,761.52 286,763.21 282,764.9 278,766.59 274,768.28 270,769.97 266,771.66 262,773.35 258,774.83 254,776.09 250,777.35 246,778.61 242,779.87 238,781.13 234,782.39 230,783.65 226,784.92 222,786.18 218,787.44 214,788.7 210,789.96 206,791.22 202,792.48 198,793.74 194,795 190,796.33 186,797.67 182,799 178,800.33 174,801.67 170,803 166,804.33 162,805.67 158,807 154,808.33" fill="#b0e86c" fill-opacity="1"/><polygon points="190,788.92 194,786.12 198,783.32 202,780.52 206,777.72 210,774.92 214,772.12 218,769.49 222,767.04 226,764.58 230,762.13 234,759.67 238,757.22 242,755.22 246,753.22 250,751.22 254,749.22 258,747.22 262,745.45 266,743.92 270,742.38 274,740.84 278,739.31 282,737.77 286,736.23 290,734.7 294,733.16 298,731.62 302,730.09 306,728.69 310,727.43 314,726.17 318,724.91 322,723.65 326,722.39 330,721.13 334,719.87 338,718.6 342,717.34 346,716.08 350,714.82 354,713.56 354,714.54 350,717.03 346,719.78 342,722.78 338,725.78 334,728.78 330,731.78 326,734.78 322,737.34 318,739.91 314,742.47 310,745.03 306,747.6 302,749.73 298,751.42 294,753.11 290,754.8 286,756.49 282,758.18 278,759.87 274,761.56 270,763.25 266,764.94 262,766.63 258,768.11 254,769.37 250,770.63 246,771.89 242,773.15 238,774.41 234,775.67 230,776.93 226,778.2 222,779.46 218,780.72 214,781.98 210,783.24 206,784.5 202,785.76 198,787.02 194,788.28 190,789.61" fill="#c4da66" fill-opacity="1"/><polygon points="234,767.51 238,765.06 242,763.06 246,761.06 250,759.06 254,757.06 258,755.06 262,753.29 266,751.76 270,750.22 274,748.68 278,747.15 282,745.61 286,744.07 290,742.54 294,741 298,739.46 302,737.93 306,736.53 310,735.27 314,734.01 314,734.63 310,737.19 306,739.76 302,741.89 298,743.58 294,745.27 290,746.96 286,748.65 282,750.34 278,752.03 274,753.72 270,755.41 266,757.1 262,758.79 258,760.27 254,761.53 250,762.79 246,764.05 242,765.31 238,766.57 234,767.83" fill="#b8a878" fill-opacity="1"/></g></g>
<rect x="219.7" y="929.8" width="87.2" height="7" fill="#fff"/>
<text x="234" y="916.3" font-size="25.8" fill="#fff">2 µm</text>
<text x="7.5" y="1092.5" font-size="31" font-weight="bold" fill="#140d0b">e</text>
<clipPath id="ce"><rect x="49.5" y="1097.5" width="452.3" height="369.5"/></clipPath>
<g clip-path="url(#ce)" fill="none" stroke-linejoin="round" stroke-linecap="round"><path d="M49.5,1336 L50.2,1335.57 L51.16,1334.91 L52.3,1334.17 L53.56,1333.47 L54.88,1332.97 L56.2,1332.8 L57.57,1333.1 L59.04,1333.8 L60.58,1334.68 L62.12,1335.56 L63.61,1336.23 L65,1336.5 L66.27,1336.22 L67.48,1335.53 L68.63,1334.63 L69.76,1333.74 L70.87,1333.06 L72,1332.8 L73.14,1333.09 L74.29,1333.79 L75.43,1334.69 L76.54,1335.63 L77.64,1336.39 L78.7,1336.8 L79.71,1336.76 L80.67,1336.41 L81.6,1335.9 L82.53,1335.36 L83.49,1334.95 L84.5,1334.8 L85.58,1335.02 L86.73,1335.5 L87.9,1336.11 L89.06,1336.69 L90.17,1337.1 L91.2,1337.2 L92.12,1336.86 L92.95,1336.16 L93.73,1335.29 L94.51,1334.44 L95.32,1333.78 L96.2,1333.5 L97.18,1333.68 L98.22,1334.19 L99.3,1334.89 L100.38,1335.66 L101.42,1336.34 L102.4,1336.8 L103.27,1337.09 L104.06,1337.34 L104.82,1337.5 L105.59,1337.55 L106.44,1337.46 L107.4,1337.2 L108.48,1336.67 L109.62,1335.89 L110.83,1334.97 L112.11,1334 L113.47,1333.08 L114.9,1332.1 L116.44,1330.29 L118.08,1325.03 L119.8,1311.53 L121.55,1286.99 L123.3,1259.68 L125,1247.02 L126.7,1257.79 L128.45,1284.34 L130.19,1309 L131.88,1322.75 L133.47,1328.04 L134.9,1329.65 L136.16,1330.26 L137.29,1330.75 L138.31,1331.22 L139.26,1331.63 L140.18,1331.86 L141.1,1331.8 L141.97,1331.47 L142.76,1330.97 L143.52,1330.31 L144.29,1329.47 L145.14,1328.47 L146.1,1327.3 L147.22,1325.76 L148.46,1323.79 L149.77,1321.66 L151.1,1319.62 L152.39,1317.91 L153.6,1316.8 L154.69,1316.36 L155.7,1316.41 L156.68,1316.81 L157.67,1317.39 L158.72,1318 L159.9,1318.5 L161.23,1319 L162.67,1319.64 L164.18,1320.33 L165.7,1320.93 L167.19,1321.36 L168.6,1321.5 L169.92,1321.2 L171.19,1320.53 L172.42,1319.67 L173.64,1318.83 L174.86,1318.21 L176.1,1318 L177.35,1318.36 L178.6,1319.16 L179.85,1320.17 L181.1,1321.18 L182.35,1321.96 L183.6,1322.3 L184.84,1322.09 L186.06,1321.49 L187.27,1320.67 L188.51,1319.79 L189.78,1319.01 L191.1,1318.5 L192.51,1318.3 L194,1318.28 L195.53,1318.37 L197.03,1318.49 L198.47,1318.55 L199.8,1318.5 L200.96,1318.33 L201.99,1318.1 L202.95,1317.82 L203.91,1317.51 L204.94,1317.17 L206.1,1316.8 L207.4,1316.4 L208.77,1315.96 L210.22,1315.48 L211.71,1314.99 L213.25,1314.49 L214.8,1314 L216.42,1313.53 L218.13,1313.09 L219.88,1312.64 L221.6,1312.16 L223.26,1311.62 L224.8,1311 L226.24,1310.26 L227.63,1309.4 L228.94,1308.48 L230.17,1307.57 L231.3,1306.72 L232.3,1306 L233.14,1305.38 L233.81,1304.82 L234.38,1304.32 L234.9,1303.9 L235.42,1303.55 L236,1303.3 L236.61,1303.2 L237.21,1303.28 L237.81,1303.43 L238.43,1303.57 L239.08,1303.59 L239.8,1303.4 L240.56,1302.93 L241.35,1302.2 L242.18,1301.26 L243.06,1300.14 L244,1298.81 L245,1297.2 L246.1,1295.07 L247.3,1292.19 L248.56,1288.77 L249.83,1285.41 L251.09,1282.95 L252.3,1282.02 L253.49,1282.79 L254.71,1285.15 L255.92,1288.52 L257.06,1292.08 L258.1,1295.2 L259,1297.6 L259.7,1299.32 L260.24,1300.62 L260.67,1301.69 L261.06,1302.67 L261.48,1303.61 L262,1304.55 L262.6,1305.44 L263.22,1306.23 L263.88,1306.96 L264.56,1307.68 L265.26,1308.43 L266,1309.25 L266.78,1310.15 L267.59,1311.11 L268.44,1312.13 L269.3,1313.21 L270.16,1314.33 L271,1315.5 L271.82,1316.83 L272.64,1318.36 L273.45,1319.93 L274.27,1321.41 L275.12,1322.65 L276,1323.5 L276.89,1323.81 L277.79,1323.67 L278.7,1323.29 L279.66,1322.88 L280.69,1322.65 L281.8,1322.8 L283.06,1323.47 L284.47,1324.53 L285.95,1325.76 L287.41,1326.97 L288.79,1327.95 L290,1328.5 L291.02,1328.48 L291.9,1328.04 L292.7,1327.37 L293.45,1326.67 L294.2,1326.15 L295,1326 L295.83,1326.31 L296.67,1326.94 L297.5,1327.74 L298.33,1328.58 L299.17,1329.31 L300,1329.8 L300.78,1329.93 L301.48,1329.8 L302.19,1329.57 L302.96,1329.39 L303.88,1329.41 L305,1329.8 L306.41,1330.72 L308.06,1332.09 L309.85,1333.66 L311.67,1335.21 L313.43,1336.5 L315,1337.3 L316.4,1337.47 L317.7,1337.18 L318.93,1336.63 L320.11,1336.03 L321.26,1335.58 L322.4,1335.5 L323.52,1335.89 L324.6,1336.61 L325.66,1337.49 L326.69,1338.35 L327.7,1339.01 L328.7,1339.3 L329.67,1339.04 L330.6,1338.33 L331.52,1337.42 L332.44,1336.56 L333.39,1336.01 L334.4,1336 L335.48,1336.74 L336.61,1338.07 L337.77,1339.7 L338.94,1341.34 L340.09,1342.7 L341.2,1343.5 L342.22,1343.59 L343.17,1343.19 L344.1,1342.51 L345.07,1341.77 L346.15,1341.2 L347.4,1341 L348.86,1341.22 L350.5,1341.68 L352.24,1342.31 L354.01,1343.01 L355.76,1343.7 L357.4,1344.3 L358.98,1344.88 L360.57,1345.53 L362.12,1346.16 L363.6,1346.72 L364.97,1347.12 L366.2,1347.3 L367.23,1347.16 L368.07,1346.74 L368.81,1346.16 L369.51,1345.56 L370.25,1345.07 L371.1,1344.8 L372.06,1344.85 L373.05,1345.12 L374.09,1345.49 L375.16,1345.85 L376.26,1346.06 L377.4,1346 L378.59,1345.6 L379.83,1344.94 L381.1,1344.14 L382.39,1343.3 L383.66,1342.53 L384.9,1341.9 L386.11,1341.29 L387.3,1340.35 L388.48,1338.45 L389.66,1334.5 L390.83,1326.79 L392,1313.2 L393.13,1292.98 L394.2,1267.14 L395.26,1236.68 L396.38,1204.09 L397.61,1175.19 L399,1161.07 L400.65,1176.49 L402.52,1224.97 L404.5,1281.08 L406.47,1318.45 L408.31,1334.97 L409.9,1340.62 L411.16,1342.58 L412.17,1343.57 L413.06,1344.31 L413.93,1344.95 L414.9,1345.52 L416.1,1346 L417.57,1346.36 L419.23,1346.64 L420.99,1346.89 L422.77,1347.17 L424.51,1347.52 L426.1,1348 L427.58,1348.7 L429,1349.6 L430.37,1350.58 L431.68,1351.51 L432.92,1352.25 L434.1,1352.68 L435.18,1352.72 L436.15,1352.45 L437.06,1351.96 L437.95,1351.34 L438.85,1350.65 L439.8,1349.91 L440.78,1348.95 L441.76,1347.52 L442.76,1345.39 L443.78,1342.21 L444.86,1337.51 L446,1330.71 L447.2,1321.57 L448.43,1310.35 L449.71,1297.73 L451.06,1285.25 L452.48,1275.35 L454,1271.05 L455.72,1275.43 L457.66,1290.26 L459.67,1310.79 L461.62,1329.23 L463.38,1341.52 L464.8,1348.25 L465.8,1351.6 L466.46,1353.44 L466.92,1354.65 L467.32,1355.67 L467.8,1356.72 L468.5,1357.87 L469.42,1359.05 L470.45,1360.14 L471.56,1361.13 L472.71,1362.03 L473.87,1362.82 L475,1363.49 L476.1,1364.1 L477.19,1364.72 L478.29,1365.28 L479.42,1365.72 L480.58,1365.98 L481.8,1366 L483.04,1365.73 L484.3,1365.22 L485.59,1364.53 L486.95,1363.72 L488.41,1362.86 L490,1362 L491.89,1361.05 L494.1,1359.93 L496.41,1358.75 L498.61,1357.63 L500.47,1356.68 L501.8,1356" stroke="#089bfa" stroke-width="5.2"/><path d="M49.5,1414.02 L50.54,1414.06 L51.98,1414.12 L53.68,1414.18 L55.54,1414.25 L57.42,1414.3 L59.21,1414.33 L60.94,1414.35 L62.71,1414.37 L64.51,1414.38 L66.32,1414.37 L68.13,1414.32 L69.92,1414.23 L71.72,1414.05 L73.55,1413.78 L75.38,1413.48 L77.17,1413.21 L78.9,1413.01 L80.53,1412.95 L82.04,1413.08 L83.44,1413.35 L84.78,1413.7 L86.1,1414.07 L87.45,1414.39 L88.86,1414.6 L90.38,1414.69 L91.97,1414.73 L93.59,1414.71 L95.19,1414.66 L96.71,1414.59 L98.11,1414.52 L99.35,1414.42 L100.47,1414.28 L101.51,1414.12 L102.53,1413.96 L103.57,1413.83 L104.67,1413.74 L105.82,1413.73 L106.97,1413.76 L108.14,1413.82 L109.35,1413.88 L110.6,1413.9 L111.9,1413.85 L113.31,1413.67 L114.81,1413.24 L116.35,1412.29 L117.89,1410.42 L119.38,1407.48 L120.77,1404.02 L122.02,1401.11 L123.14,1399.4 L124.21,1399.08 L125.3,1400.17 L126.5,1402.62 L127.86,1406.1 L129.46,1409.73 L131.27,1412.3 L133.17,1413.51 L135.06,1413.97 L136.85,1414.16 L138.44,1414.28 L139.79,1414.34 L140.99,1414.37 L142.08,1414.38 L143.12,1414.37 L144.15,1414.36 L145.24,1414.33 L146.36,1414.31 L147.48,1414.28 L148.59,1414.25 L149.71,1414.19 L150.82,1414.12 L151.93,1414.01 L153,1413.85 L154.01,1413.65 L155.02,1413.41 L156.08,1413.19 L157.24,1413.01 L158.57,1412.9 L160.11,1412.87 L161.86,1412.88 L163.72,1412.93 L165.57,1413.02 L167.34,1413.14 L168.92,1413.28 L170.25,1413.48 L171.4,1413.76 L172.46,1414.07 L173.52,1414.36 L174.67,1414.58 L176,1414.67 L177.53,1414.59 L179.19,1414.39 L180.95,1414.1 L182.75,1413.81 L184.57,1413.56 L186.36,1413.42 L188.15,1413.41 L189.98,1413.48 L191.83,1413.61 L193.66,1413.74 L195.44,1413.84 L197.17,1413.87 L198.8,1413.81 L200.36,1413.69 L201.87,1413.54 L203.38,1413.4 L204.93,1413.3 L206.56,1413.27 L208.26,1413.33 L210.02,1413.47 L211.82,1413.65 L213.64,1413.83 L215.46,1414.01 L217.26,1414.14 L219.1,1414.25 L220.99,1414.35 L222.88,1414.44 L224.73,1414.5 L226.48,1414.53 L228.1,1414.51 L229.55,1414.42 L230.87,1414.27 L232.09,1414.08 L233.26,1413.88 L234.42,1413.69 L235.59,1413.55 L236.77,1413.44 L237.93,1413.35 L239.08,1413.28 L240.2,1413.22 L241.32,1413.18 L242.42,1413.16 L243.47,1413.18 L244.47,1413.24 L245.45,1413.31 L246.46,1413.38 L247.54,1413.44 L248.75,1413.44 L250.09,1413.39 L251.54,1413.28 L253.06,1413.15 L254.63,1413.03 L256.21,1412.94 L257.76,1412.91 L259.33,1412.94 L260.93,1413.01 L262.55,1413.12 L264.14,1413.25 L265.69,1413.38 L267.15,1413.51 L268.51,1413.66 L269.77,1413.84 L270.99,1414.03 L272.19,1414.21 L273.41,1414.33 L274.7,1414.37 L276.05,1414.31 L277.44,1414.14 L278.85,1413.93 L280.27,1413.72 L281.69,1413.55 L283.1,1413.47 L284.53,1413.49 L285.98,1413.59 L287.44,1413.73 L288.87,1413.89 L290.23,1414.05 L291.51,1414.17 L292.68,1414.27 L293.77,1414.38 L294.8,1414.48 L295.79,1414.57 L296.78,1414.63 L297.8,1414.66 L298.78,1414.65 L299.69,1414.62 L300.61,1414.57 L301.57,1414.49 L302.65,1414.38 L303.91,1414.25 L305.38,1414.06 L307.02,1413.81 L308.78,1413.53 L310.59,1413.26 L312.4,1413.05 L314.13,1412.93 L315.82,1412.94 L317.51,1413.04 L319.19,1413.2 L320.85,1413.37 L322.48,1413.51 L324.07,1413.56 L325.65,1413.51 L327.21,1413.4 L328.75,1413.26 L330.24,1413.11 L331.65,1412.98 L332.97,1412.92 L334.11,1412.92 L335.07,1412.96 L335.96,1413.03 L336.88,1413.11 L337.93,1413.18 L339.2,1413.23 L340.74,1413.23 L342.49,1413.21 L344.37,1413.18 L346.29,1413.16 L348.18,1413.18 L349.97,1413.25 L351.65,1413.43 L353.27,1413.69 L354.87,1413.98 L356.46,1414.26 L358.08,1414.48 L359.75,1414.57 L361.52,1414.52 L363.36,1414.35 L365.23,1414.11 L367.08,1413.86 L368.84,1413.64 L370.46,1413.52 L371.9,1413.51 L373.19,1413.57 L374.4,1413.66 L375.6,1413.76 L376.85,1413.84 L378.24,1413.84 L379.76,1413.76 L381.38,1413.6 L383.05,1413.41 L384.76,1413.23 L386.45,1413.09 L388.12,1412.96 L389.74,1412.69 L391.35,1411.8 L392.96,1409.6 L394.57,1405.72 L396.2,1400.93 L397.86,1397.37 L399.54,1397.26 L401.23,1400.78 L402.95,1405.74 L404.67,1409.71 L406.41,1411.83 L408.16,1412.61 L409.95,1412.82 L411.81,1412.85 L413.68,1412.87 L415.52,1412.91 L417.27,1412.98 L418.88,1413.06 L420.31,1413.19 L421.57,1413.37 L422.75,1413.57 L423.92,1413.76 L425.17,1413.92 L426.59,1414 L428.19,1413.99 L429.9,1413.91 L431.7,1413.79 L433.54,1413.65 L435.38,1413.52 L437.18,1413.4 L438.98,1413.27 L440.83,1413 L442.68,1412.48 L444.49,1411.6 L446.21,1410.39 L447.8,1408.98 L449.25,1407.6 L450.57,1406.41 L451.81,1405.51 L453,1404.95 L454.18,1404.76 L455.36,1404.96 L456.55,1405.49 L457.71,1406.26 L458.86,1407.17 L459.99,1408.15 L461.12,1409.13 L462.25,1410.09 L463.33,1410.98 L464.35,1411.78 L465.37,1412.5 L466.44,1413.12 L467.63,1413.6 L468.99,1413.89 L470.63,1413.96 L472.52,1413.85 L474.52,1413.63 L476.51,1413.4 L478.37,1413.23 L479.98,1413.19 L481.26,1413.33 L482.32,1413.6 L483.24,1413.94 L484.14,1414.28 L485.09,1414.55 L486.22,1414.68 L487.54,1414.63 L488.98,1414.46 L490.5,1414.23 L492.02,1413.97 L493.5,1413.75 L494.89,1413.63 L496.25,1413.61 L497.66,1413.65 L499.02,1413.73 L500.27,1413.83 L501.31,1413.92 L502.07,1413.97" stroke="#ffc30b" stroke-width="5.2"/></g>
<rect x="49.5" y="1097.5" width="452.3" height="369.5" fill="none" stroke="#000" stroke-width="3.6"/>
<g stroke="#000" stroke-width="3"><line x1="49.5" y1="1467.0" x2="49.5" y2="1471.2"/><line x1="89.41" y1="1467.0" x2="89.41" y2="1475.6"/><line x1="129.32" y1="1467.0" x2="129.32" y2="1471.2"/><line x1="169.23" y1="1467.0" x2="169.23" y2="1475.6"/><line x1="209.14" y1="1467.0" x2="209.14" y2="1471.2"/><line x1="249.04" y1="1467.0" x2="249.04" y2="1475.6"/><line x1="288.95" y1="1467.0" x2="288.95" y2="1471.2"/><line x1="328.86" y1="1467.0" x2="328.86" y2="1475.6"/><line x1="368.77" y1="1467.0" x2="368.77" y2="1471.2"/><line x1="408.68" y1="1467.0" x2="408.68" y2="1475.6"/><line x1="448.59" y1="1467.0" x2="448.59" y2="1471.2"/><line x1="488.5" y1="1467.0" x2="488.5" y2="1475.6"/></g>
<g font-size="26.2" fill="#000"><text x="90.2" y="1502" text-anchor="middle">180</text><text x="169.64" y="1502" text-anchor="middle">240</text><text x="249.08" y="1502" text-anchor="middle">300</text><text x="328.52" y="1502" text-anchor="middle">360</text><text x="407.96" y="1502" text-anchor="middle">420</text><text x="487.4" y="1502" text-anchor="middle">480</text></g>
<line x1="75" y1="1134.5" x2="134.4" y2="1134.5" stroke="#089bfa" stroke-width="5.5"/><line x1="75" y1="1176.2" x2="134.4" y2="1176.2" stroke="#ffc30b" stroke-width="5.5"/>
<text x="141.5" y="1143" font-size="26.2" fill="#000">XX</text><text x="141.5" y="1184.5" font-size="26.2" fill="#000">XY</text>
<text x="110.5" y="1231.6" font-size="26" fill="#000"><tspan font-style="italic">A</tspan><tspan font-size="18" dy="6">g</tspan><tspan font-size="18" dy="-19" dx="1.5">1</tspan></text>
<text x="383" y="1140" font-size="26" fill="#000"><tspan font-style="italic">A</tspan><tspan font-size="18" dy="6">g</tspan><tspan font-size="18" dy="-19" dx="1.5">2</tspan></text>
<text x="437.5" y="1252" font-size="26" fill="#000"><tspan font-style="italic">A</tspan><tspan font-size="18" dy="6">g</tspan><tspan font-size="18" dy="-19" dx="1.5">3</tspan></text>
<text x="241" y="1264.8" font-size="26" fill="#000">Si</text>
<text x="137" y="1549.5" font-size="30.5" fill="#000">Raman shift</text><text x="312.5" y="1549.5" font-size="30.5" fill="#000">(cm<tspan font-size="22.6" dy="-13.8" dx="0.5">-1</tspan><tspan dy="13.8" dx="2.6">)</tspan></text>
<text transform="translate(23,1282.6) rotate(-90)" font-size="33.8" text-anchor="middle" fill="#000">Intensity (arb.units)</text>
<text x="549.5" y="555.6" font-size="31" font-weight="bold" fill="#140d0b">f</text>
<g fill="none" stroke="#6a6a6a" stroke-width="1.05" stroke-dasharray="2.7 2.2"><circle cx="772.7" cy="752.5" r="64"/><circle cx="772.7" cy="752.5" r="127.6"/><line x1="804.7" y1="752.5" x2="963.3" y2="752.5"/><line x1="800.41" y1="736.5" x2="937.76" y2="657.2"/><line x1="788.7" y1="724.79" x2="868" y2="587.44"/><line x1="772.7" y1="720.5" x2="772.7" y2="561.9"/><line x1="756.7" y1="724.79" x2="677.4" y2="587.44"/><line x1="744.99" y1="736.5" x2="607.64" y2="657.2"/><line x1="740.7" y1="752.5" x2="582.1" y2="752.5"/><line x1="744.99" y1="768.5" x2="607.64" y2="847.8"/><line x1="756.7" y1="780.21" x2="677.4" y2="917.56"/><line x1="772.7" y1="784.5" x2="772.7" y2="943.1"/><line x1="788.7" y1="780.21" x2="868" y2="917.56"/><line x1="800.41" y1="768.5" x2="937.76" y2="847.8"/></g>
<circle cx="772.7" cy="752.5" r="190.6" fill="none" stroke="#000" stroke-width="3.2"/>
<g stroke="#000" stroke-width="3.2"><line x1="956" y1="752.5" x2="963.3" y2="752.5"/><line x1="931.44" y1="660.85" x2="937.76" y2="657.2"/><line x1="864.35" y1="593.76" x2="868" y2="587.44"/><line x1="772.7" y1="569.2" x2="772.7" y2="561.9"/><line x1="681.05" y1="593.76" x2="677.4" y2="587.44"/><line x1="613.96" y1="660.85" x2="607.64" y2="657.2"/><line x1="589.4" y1="752.5" x2="582.1" y2="752.5"/><line x1="613.96" y1="844.15" x2="607.64" y2="847.8"/><line x1="681.05" y1="911.24" x2="677.4" y2="917.56"/><line x1="772.7" y1="935.8" x2="772.7" y2="943.1"/><line x1="864.35" y1="911.24" x2="868" y2="917.56"/><line x1="931.44" y1="844.15" x2="937.76" y2="847.8"/></g>
<g font-size="24.2" fill="#000" text-anchor="middle"><text x="772.9" y="548.3">90</text><text x="885.4" y="576.7">60</text><text x="958.3" y="648.7">30</text><text x="978.2" y="761.1">0</text><text x="965" y="873.7">330</text><text x="892.7" y="946">300</text><text x="772.7" y="973.1">270</text><text x="652.4" y="946">240</text><text x="579.4" y="873.7">210</text><text x="554.3" y="761.1">180</text><text x="580.4" y="648.6">150</text><text x="653.2" y="576">120</text></g>
<radialGradient id="bgf" cx="0.378" cy="0.393" r="0.25"><stop offset="0" stop-color="#fff"/><stop offset="0.22" stop-color="#fff"/><stop offset="0.62" stop-color="#f0b0ff"/><stop offset="1" stop-color="#d633ff"/></radialGradient>
<g fill="url(#bgf)"><circle cx="820.1" cy="752.5" r="9.7"/><circle cx="840.65" cy="740.52" r="9.7"/><circle cx="861.97" cy="720.01" r="9.7"/><circle cx="877.49" cy="692" r="9.7"/><circle cx="882.78" cy="660.13" r="9.7"/><circle cx="876.32" cy="629.01" r="9.7"/><circle cx="857.3" cy="605.97" r="9.7"/><circle cx="828.86" cy="598.2" r="9.7"/><circle cx="798.35" cy="607.04" r="9.7"/><circle cx="772.7" cy="629.5" r="9.7"/><circle cx="756.88" cy="662.78" r="9.7"/><circle cx="750.95" cy="692.74" r="9.7"/><circle cx="750.5" cy="714.05" r="9.7"/><circle cx="753.99" cy="730.21" r="9.7"/><circle cx="755.16" cy="737.78" r="9.7"/><circle cx="753.21" cy="741.25" r="9.7"/><circle cx="749.58" cy="744.09" r="9.7"/><circle cx="741.88" cy="747.06" r="9.7"/><circle cx="725.3" cy="752.5" r="9.7"/><circle cx="704.75" cy="764.48" r="9.7"/><circle cx="683.43" cy="784.99" r="9.7"/><circle cx="667.91" cy="813" r="9.7"/><circle cx="662.62" cy="844.87" r="9.7"/><circle cx="669.08" cy="875.99" r="9.7"/><circle cx="688.1" cy="899.03" r="9.7"/><circle cx="716.54" cy="906.8" r="9.7"/><circle cx="747.05" cy="897.96" r="9.7"/><circle cx="772.7" cy="875.5" r="9.7"/><circle cx="788.52" cy="842.22" r="9.7"/><circle cx="794.45" cy="812.26" r="9.7"/><circle cx="794.9" cy="790.95" r="9.7"/><circle cx="791.41" cy="774.79" r="9.7"/><circle cx="790.24" cy="767.22" r="9.7"/><circle cx="792.19" cy="763.75" r="9.7"/><circle cx="795.82" cy="760.91" r="9.7"/><circle cx="803.52" cy="757.94" r="9.7"/></g>
<path d="M820.07,752.5 L820.99,752.08 L821.92,751.64 L822.86,751.19 L823.81,750.72 L824.78,750.23 L825.75,749.72 L826.73,749.2 L827.72,748.65 L828.72,748.09 L829.72,747.51 L830.74,746.91 L831.76,746.29 L832.79,745.65 L833.82,744.99 L834.87,744.32 L835.91,743.62 L836.96,742.9 L838.02,742.15 L839.08,741.39 L840.14,740.61 L841.2,739.8 L842.27,738.98 L843.34,738.13 L844.41,737.26 L845.47,736.37 L846.54,735.45 L847.61,734.52 L848.67,733.56 L849.73,732.58 L850.79,731.58 L851.84,730.55 L852.89,729.51 L853.94,728.44 L854.97,727.35 L856,726.23 L857.03,725.1 L858.04,723.95 L859.05,722.77 L860.04,721.57 L861.02,720.35 L862,719.11 L862.96,717.85 L863.9,716.57 L864.84,715.27 L865.76,713.95 L866.66,712.62 L867.55,711.26 L868.42,709.88 L869.27,708.49 L870.11,707.08 L870.93,705.65 L871.72,704.2 L872.5,702.74 L873.26,701.26 L873.99,699.77 L874.7,698.27 L875.39,696.75 L876.05,695.21 L876.69,693.67 L877.3,692.11 L877.89,690.54 L878.45,688.96 L878.99,687.37 L879.5,685.77 L879.97,684.16 L880.42,682.54 L880.85,680.92 L881.24,679.29 L881.6,677.66 L881.93,676.02 L882.23,674.38 L882.49,672.73 L882.73,671.08 L882.93,669.44 L883.1,667.79 L883.23,666.14 L883.34,664.5 L883.41,662.85 L883.44,661.21 L883.44,659.58 L883.41,657.95 L883.34,656.33 L883.23,654.71 L883.09,653.1 L882.92,651.5 L882.71,649.91 L882.46,648.34 L882.18,646.77 L881.87,645.22 L881.52,643.68 L881.13,642.16 L880.71,640.65 L880.25,639.16 L879.76,637.69 L879.24,636.23 L878.68,634.8 L878.08,633.39 L877.45,631.99 L876.79,630.62 L876.1,629.28 L875.37,627.95 L874.61,626.66 L873.81,625.39 L872.99,624.14 L872.13,622.92 L871.24,621.73 L870.32,620.57 L869.37,619.44 L868.39,618.34 L867.39,617.27 L866.35,616.24 L865.29,615.23 L864.2,614.26 L863.08,613.32 L861.94,612.42 L860.77,611.55 L859.58,610.72 L858.37,609.93 L857.13,609.17 L855.87,608.45 L854.59,607.76 L853.29,607.12 L851.97,606.51 L850.63,605.94 L849.27,605.41 L847.9,604.92 L846.51,604.47 L845.1,604.06 L843.68,603.69 L842.25,603.36 L840.8,603.07 L839.34,602.82 L837.87,602.61 L836.4,602.44 L834.91,602.32 L833.41,602.23 L831.91,602.19 L830.4,602.18 L828.89,602.22 L827.37,602.3 L825.85,602.41 L824.32,602.57 L822.8,602.77 L821.27,603.01 L819.75,603.28 L818.22,603.6 L816.7,603.96 L815.18,604.35 L813.67,604.78 L812.16,605.25 L810.65,605.76 L809.15,606.3 L807.66,606.88 L806.18,607.5 L804.7,608.15 L803.24,608.84 L801.78,609.56 L800.34,610.31 L798.91,611.1 L797.49,611.92 L796.08,612.77 L794.69,613.65 L793.31,614.56 L791.95,615.51 L790.61,616.48 L789.28,617.48 L787.97,618.5 L786.67,619.56 L785.4,620.63 L784.14,621.74 L782.9,622.87 L781.68,624.02 L780.49,625.19 L779.31,626.39 L778.15,627.6 L777.02,628.84 L775.91,630.09 L774.81,631.37 L773.75,632.66 L772.7,633.96 L771.68,635.29 L770.68,636.62 L769.7,637.97 L768.75,639.34 L767.82,640.71 L766.91,642.1 L766.03,643.5 L765.18,644.9 L764.34,646.32 L763.53,647.74 L762.75,649.17 L761.99,650.61 L761.25,652.05 L760.54,653.49 L759.86,654.94 L759.19,656.39 L758.55,657.84 L757.94,659.29 L757.35,660.75 L756.78,662.2 L756.23,663.65 L755.71,665.1 L755.21,666.55 L754.74,667.99 L754.28,669.43 L753.85,670.86 L753.44,672.29 L753.05,673.71 L752.69,675.12 L752.34,676.53 L752.02,677.93 L751.71,679.32 L751.43,680.7 L751.17,682.07 L750.92,683.43 L750.69,684.77 L750.49,686.11 L750.3,687.44 L750.12,688.75 L749.97,690.05 L749.83,691.34 L749.71,692.61 L749.6,693.87 L749.51,695.11 L749.44,696.34 L749.38,697.55 L749.33,698.75 L749.3,699.94 L749.28,701.1 L749.27,702.25 L749.27,703.39 L749.29,704.5 L749.32,705.6 L749.36,706.69 L749.41,707.75 L749.46,708.8 L749.53,709.83 L749.61,710.84 L749.69,711.84 L749.79,712.81 L749.89,713.77 L750,714.71 L750.11,715.64 L750.23,716.54 L750.36,717.43 L750.49,718.3 L750.62,719.15 L750.76,719.98 L750.91,720.79 L751.06,721.59 L751.21,722.37 L751.36,723.13 L751.52,723.87 L751.67,724.6 L751.83,725.31 L751.99,726 L752.15,726.67 L752.31,727.33 L752.48,727.97 L752.64,728.59 L752.8,729.2 L752.95,729.79 L753.11,730.36 L753.27,730.92 L753.42,731.46 L753.57,731.99 L753.72,732.5 L753.86,732.99 L754,733.47 L754.14,733.94 L754.27,734.39 L754.4,734.83 L754.52,735.25 L754.64,735.66 L754.76,736.06 L754.87,736.44 L754.97,736.81 L755.06,737.17 L755.15,737.52 L755.24,737.85 L755.32,738.17 L755.39,738.48 L755.45,738.78 L755.5,739.06 L755.55,739.34 L755.59,739.61 L755.62,739.86 L755.64,740.11 L755.66,740.34 L755.66,740.57 L755.66,740.79 L755.65,741 L755.63,741.2 L755.6,741.39 L755.55,741.58 L755.5,741.75 L755.44,741.92 L755.37,742.09 L755.29,742.24 L755.19,742.39 L755.09,742.54 L754.97,742.67 L754.85,742.81 L754.71,742.93 L754.56,743.06 L754.4,743.18 L754.23,743.29 L754.04,743.4 L753.84,743.51 L753.63,743.61 L753.41,743.71 L753.18,743.81 L752.93,743.9 L752.67,744 L752.39,744.09 L752.11,744.18 L751.8,744.27 L751.49,744.36 L751.16,744.45 L750.82,744.54 L750.47,744.63 L750.1,744.72 L749.71,744.81 L749.31,744.9 L748.9,745 L748.48,745.09 L748.04,745.19 L747.58,745.3 L747.11,745.4 L746.63,745.51 L746.13,745.63 L745.61,745.75 L745.08,745.87 L744.54,746 L743.98,746.13 L743.41,746.27 L742.82,746.42 L742.22,746.57 L741.6,746.74 L740.97,746.9 L740.32,747.08 L739.66,747.27 L738.98,747.46 L738.29,747.66 L737.58,747.88 L736.86,748.1 L736.12,748.33 L735.38,748.58 L734.61,748.83 L733.83,749.1 L733.04,749.38 L732.24,749.67 L731.42,749.98 L730.59,750.29 L729.74,750.62 L728.88,750.97 L728.01,751.33 L727.13,751.7 L726.23,752.09 L725.33,752.5 L724.41,752.92 L723.48,753.36 L722.54,753.81 L721.59,754.28 L720.62,754.77 L719.65,755.28 L718.67,755.8 L717.68,756.35 L716.68,756.91 L715.68,757.49 L714.66,758.09 L713.64,758.71 L712.61,759.35 L711.58,760.01 L710.53,760.68 L709.49,761.38 L708.44,762.1 L707.38,762.85 L706.32,763.61 L705.26,764.39 L704.2,765.2 L703.13,766.02 L702.06,766.87 L700.99,767.74 L699.93,768.63 L698.86,769.55 L697.79,770.48 L696.73,771.44 L695.67,772.42 L694.61,773.42 L693.56,774.45 L692.51,775.49 L691.46,776.56 L690.43,777.65 L689.4,778.77 L688.37,779.9 L687.36,781.05 L686.35,782.23 L685.36,783.43 L684.38,784.65 L683.4,785.89 L682.44,787.15 L681.5,788.43 L680.56,789.73 L679.64,791.05 L678.74,792.38 L677.85,793.74 L676.98,795.12 L676.13,796.51 L675.29,797.92 L674.47,799.35 L673.68,800.8 L672.9,802.26 L672.14,803.74 L671.41,805.23 L670.7,806.73 L670.01,808.25 L669.35,809.79 L668.71,811.33 L668.1,812.89 L667.51,814.46 L666.95,816.04 L666.41,817.63 L665.9,819.23 L665.43,820.84 L664.98,822.46 L664.55,824.08 L664.16,825.71 L663.8,827.34 L663.47,828.98 L663.17,830.62 L662.91,832.27 L662.67,833.92 L662.47,835.56 L662.3,837.21 L662.17,838.86 L662.06,840.5 L661.99,842.15 L661.96,843.79 L661.96,845.42 L661.99,847.05 L662.06,848.67 L662.17,850.29 L662.31,851.9 L662.48,853.5 L662.69,855.09 L662.94,856.66 L663.22,858.23 L663.53,859.78 L663.88,861.32 L664.27,862.84 L664.69,864.35 L665.15,865.84 L665.64,867.31 L666.16,868.77 L666.72,870.2 L667.32,871.61 L667.95,873.01 L668.61,874.38 L669.3,875.72 L670.03,877.05 L670.79,878.34 L671.59,879.61 L672.41,880.86 L673.27,882.08 L674.16,883.27 L675.08,884.43 L676.03,885.56 L677.01,886.66 L678.01,887.73 L679.05,888.76 L680.11,889.77 L681.2,890.74 L682.32,891.68 L683.46,892.58 L684.63,893.45 L685.82,894.28 L687.03,895.07 L688.27,895.83 L689.53,896.55 L690.81,897.24 L692.11,897.88 L693.43,898.49 L694.77,899.06 L696.13,899.59 L697.5,900.08 L698.89,900.53 L700.3,900.94 L701.72,901.31 L703.15,901.64 L704.6,901.93 L706.06,902.18 L707.53,902.39 L709,902.56 L710.49,902.68 L711.99,902.77 L713.49,902.81 L715,902.82 L716.51,902.78 L718.03,902.7 L719.55,902.59 L721.08,902.43 L722.6,902.23 L724.13,901.99 L725.65,901.72 L727.18,901.4 L728.7,901.04 L730.22,900.65 L731.73,900.22 L733.24,899.75 L734.75,899.24 L736.25,898.7 L737.74,898.12 L739.22,897.5 L740.7,896.85 L742.16,896.16 L743.62,895.44 L745.06,894.69 L746.49,893.9 L747.91,893.08 L749.32,892.23 L750.71,891.35 L752.09,890.44 L753.45,889.49 L754.79,888.52 L756.12,887.52 L757.43,886.5 L758.73,885.44 L760,884.37 L761.26,883.26 L762.5,882.13 L763.72,880.98 L764.91,879.81 L766.09,878.61 L767.25,877.4 L768.38,876.16 L769.49,874.91 L770.59,873.63 L771.65,872.34 L772.7,871.04 L773.72,869.71 L774.72,868.38 L775.7,867.03 L776.65,865.66 L777.58,864.29 L778.49,862.9 L779.37,861.5 L780.22,860.1 L781.06,858.68 L781.87,857.26 L782.65,855.83 L783.41,854.39 L784.15,852.95 L784.86,851.51 L785.54,850.06 L786.21,848.61 L786.85,847.16 L787.46,845.71 L788.05,844.25 L788.62,842.8 L789.17,841.35 L789.69,839.9 L790.19,838.45 L790.66,837.01 L791.12,835.57 L791.55,834.14 L791.96,832.71 L792.35,831.29 L792.71,829.88 L793.06,828.47 L793.38,827.07 L793.69,825.68 L793.97,824.3 L794.23,822.93 L794.48,821.57 L794.71,820.23 L794.91,818.89 L795.1,817.56 L795.28,816.25 L795.43,814.95 L795.57,813.66 L795.69,812.39 L795.8,811.13 L795.89,809.89 L795.96,808.66 L796.02,807.45 L796.07,806.25 L796.1,805.06 L796.12,803.9 L796.13,802.75 L796.13,801.61 L796.11,800.5 L796.08,799.4 L796.04,798.31 L795.99,797.25 L795.94,796.2 L795.87,795.17 L795.79,794.16 L795.71,793.16 L795.61,792.19 L795.51,791.23 L795.4,790.29 L795.29,789.36 L795.17,788.46 L795.04,787.57 L794.91,786.7 L794.78,785.85 L794.64,785.02 L794.49,784.21 L794.34,783.41 L794.19,782.63 L794.04,781.87 L793.88,781.13 L793.73,780.4 L793.57,779.69 L793.41,779 L793.25,778.33 L793.09,777.67 L792.92,777.03 L792.76,776.41 L792.6,775.8 L792.45,775.21 L792.29,774.64 L792.13,774.08 L791.98,773.54 L791.83,773.01 L791.68,772.5 L791.54,772.01 L791.4,771.53 L791.26,771.06 L791.13,770.61 L791,770.17 L790.88,769.75 L790.76,769.34 L790.64,768.94 L790.53,768.56 L790.43,768.19 L790.34,767.83 L790.25,767.48 L790.16,767.15 L790.08,766.83 L790.01,766.52 L789.95,766.22 L789.9,765.94 L789.85,765.66 L789.81,765.39 L789.78,765.14 L789.76,764.89 L789.74,764.66 L789.74,764.43 L789.74,764.21 L789.75,764 L789.77,763.8 L789.8,763.61 L789.85,763.42 L789.9,763.25 L789.96,763.08 L790.03,762.91 L790.11,762.76 L790.21,762.61 L790.31,762.46 L790.43,762.33 L790.55,762.19 L790.69,762.07 L790.84,761.94 L791,761.82 L791.17,761.71 L791.36,761.6 L791.56,761.49 L791.77,761.39 L791.99,761.29 L792.22,761.19 L792.47,761.1 L792.73,761 L793.01,760.91 L793.29,760.82 L793.6,760.73 L793.91,760.64 L794.24,760.55 L794.58,760.46 L794.93,760.37 L795.3,760.28 L795.69,760.19 L796.09,760.1 L796.5,760 L796.92,759.91 L797.36,759.81 L797.82,759.7 L798.29,759.6 L798.77,759.49 L799.27,759.37 L799.79,759.25 L800.32,759.13 L800.86,759 L801.42,758.87 L801.99,758.73 L802.58,758.58 L803.18,758.43 L803.8,758.26 L804.43,758.1 L805.08,757.92 L805.74,757.73 L806.42,757.54 L807.11,757.34 L807.82,757.12 L808.54,756.9 L809.28,756.67 L810.02,756.42 L810.79,756.17 L811.57,755.9 L812.36,755.62 L813.16,755.33 L813.98,755.02 L814.81,754.71 L815.66,754.38 L816.52,754.03 L817.39,753.67 L818.27,753.3 L819.17,752.91 L820.07,752.5" fill="none" stroke="#d633ff" stroke-width="4.2" stroke-linejoin="round"/>
<circle cx="937" cy="539.4" r="9.8" fill="url(#bgf)"/>
<line x1="915.6" y1="562.9" x2="958.8" y2="562.9" stroke="#d633ff" stroke-width="5.6"/>
<text x="965" y="545.6" font-size="20.8" fill="#000">Data</text><text x="965" y="569.5" font-size="20.8" fill="#000">Fitted</text>
<rect x="741.1" y="984.2" width="62" height="42.6" fill="#fef0cf"/>
<text x="749.1" y="1013.7" font-size="31" font-style="italic" fill="#000">A</text><text x="769.9" y="1021" font-size="18" fill="#000">g</text><text x="783.9" y="1003.1" font-size="17.5" fill="#000">1</text>
<text x="1050.5" y="555.3" font-size="31" font-weight="bold" fill="#140d0b">g</text>
<g fill="none" stroke="#6a6a6a" stroke-width="1.05" stroke-dasharray="2.7 2.2"><circle cx="1261.4" cy="753.2" r="66.6"/><circle cx="1261.4" cy="753.2" r="133.2"/><line x1="1294.7" y1="753.2" x2="1452" y2="753.2"/><line x1="1290.24" y1="736.55" x2="1426.46" y2="657.9"/><line x1="1278.05" y1="724.36" x2="1356.7" y2="588.14"/><line x1="1261.4" y1="719.9" x2="1261.4" y2="562.6"/><line x1="1244.75" y1="724.36" x2="1166.1" y2="588.14"/><line x1="1232.56" y1="736.55" x2="1096.34" y2="657.9"/><line x1="1228.1" y1="753.2" x2="1070.8" y2="753.2"/><line x1="1232.56" y1="769.85" x2="1096.34" y2="848.5"/><line x1="1244.75" y1="782.04" x2="1166.1" y2="918.26"/><line x1="1261.4" y1="786.5" x2="1261.4" y2="943.8"/><line x1="1278.05" y1="782.04" x2="1356.7" y2="918.26"/><line x1="1290.24" y1="769.85" x2="1426.46" y2="848.5"/></g>
<circle cx="1261.4" cy="753.2" r="190.6" fill="none" stroke="#000" stroke-width="3.2"/>
<g stroke="#000" stroke-width="3.2"><line x1="1444.7" y1="753.2" x2="1452" y2="753.2"/><line x1="1420.14" y1="661.55" x2="1426.46" y2="657.9"/><line x1="1353.05" y1="594.46" x2="1356.7" y2="588.14"/><line x1="1261.4" y1="569.9" x2="1261.4" y2="562.6"/><line x1="1169.75" y1="594.46" x2="1166.1" y2="588.14"/><line x1="1102.66" y1="661.55" x2="1096.34" y2="657.9"/><line x1="1078.1" y1="753.2" x2="1070.8" y2="753.2"/><line x1="1102.66" y1="844.85" x2="1096.34" y2="848.5"/><line x1="1169.75" y1="911.94" x2="1166.1" y2="918.26"/><line x1="1261.4" y1="936.5" x2="1261.4" y2="943.8"/><line x1="1353.05" y1="911.94" x2="1356.7" y2="918.26"/><line x1="1420.14" y1="844.85" x2="1426.46" y2="848.5"/></g>
<g font-size="24.2" fill="#000" text-anchor="middle"><text x="1261.6" y="549">90</text><text x="1374.1" y="577.4">60</text><text x="1447" y="649.4">30</text><text x="1466.9" y="761.8">0</text><text x="1453.7" y="874.4">330</text><text x="1381.4" y="946.7">300</text><text x="1261.4" y="973.8">270</text><text x="1141.1" y="946.7">240</text><text x="1068.1" y="874.4">210</text><text x="1043" y="761.8">180</text><text x="1069.1" y="649.3">150</text><text x="1141.9" y="576.7">120</text></g>
<radialGradient id="bgg" cx="0.378" cy="0.393" r="0.25"><stop offset="0" stop-color="#fff"/><stop offset="0.22" stop-color="#fff"/><stop offset="0.62" stop-color="#ffd0a0"/><stop offset="1" stop-color="#ff8208"/></radialGradient>
<g fill="url(#bgg)"><circle cx="1348.5" cy="753.2" r="9.7"/><circle cx="1335.26" cy="740.18" r="9.7"/><circle cx="1306.32" cy="736.85" r="9.7"/><circle cx="1286.34" cy="738.8" r="9.7"/><circle cx="1278.87" cy="738.54" r="9.7"/><circle cx="1272.78" cy="739.64" r="9.7"/><circle cx="1267.9" cy="741.94" r="9.7"/><circle cx="1264.65" cy="744.27" r="9.7"/><circle cx="1262.79" cy="745.32" r="9.7"/><circle cx="1261.4" cy="743.9" r="9.7"/><circle cx="1256.29" cy="724.25" r="9.7"/><circle cx="1238.72" cy="690.9" r="9.7"/><circle cx="1211.75" cy="667.2" r="9.7"/><circle cx="1172.95" cy="647.79" r="9.7"/><circle cx="1137.68" cy="649.39" r="9.7"/><circle cx="1110.28" cy="665.95" r="9.7"/><circle cx="1111.99" cy="698.82" r="9.7"/><circle cx="1142.24" cy="732.19" r="9.7"/><circle cx="1174.3" cy="753.2" r="9.7"/><circle cx="1187.54" cy="766.22" r="9.7"/><circle cx="1216.48" cy="769.55" r="9.7"/><circle cx="1236.46" cy="767.6" r="9.7"/><circle cx="1243.93" cy="767.86" r="9.7"/><circle cx="1250.02" cy="766.76" r="9.7"/><circle cx="1254.9" cy="764.46" r="9.7"/><circle cx="1258.15" cy="762.13" r="9.7"/><circle cx="1260.01" cy="761.08" r="9.7"/><circle cx="1261.4" cy="762.5" r="9.7"/><circle cx="1266.51" cy="782.15" r="9.7"/><circle cx="1284.08" cy="815.5" r="9.7"/><circle cx="1311.05" cy="839.2" r="9.7"/><circle cx="1349.85" cy="858.61" r="9.7"/><circle cx="1385.12" cy="857.01" r="9.7"/><circle cx="1412.52" cy="840.45" r="9.7"/><circle cx="1410.81" cy="807.58" r="9.7"/><circle cx="1380.56" cy="774.21" r="9.7"/></g>
<path d="M1372.22,753.2 L1371.02,752.24 L1369.8,751.31 L1368.56,750.39 L1367.3,749.5 L1366.03,748.63 L1364.74,747.78 L1363.44,746.96 L1362.13,746.16 L1360.8,745.38 L1359.46,744.62 L1358.11,743.89 L1356.75,743.18 L1355.38,742.49 L1354,741.83 L1352.62,741.19 L1351.22,740.58 L1349.82,739.98 L1348.42,739.42 L1347.01,738.87 L1345.59,738.35 L1344.18,737.86 L1342.75,737.39 L1341.33,736.94 L1339.91,736.51 L1338.48,736.11 L1337.06,735.73 L1335.64,735.38 L1334.22,735.04 L1332.8,734.73 L1331.39,734.45 L1329.97,734.18 L1328.57,733.94 L1327.17,733.72 L1325.77,733.52 L1324.38,733.34 L1323,733.19 L1321.62,733.05 L1320.26,732.93 L1318.9,732.84 L1317.55,732.76 L1316.21,732.71 L1314.89,732.67 L1313.57,732.65 L1312.26,732.65 L1310.97,732.67 L1309.69,732.7 L1308.42,732.76 L1307.17,732.82 L1305.92,732.91 L1304.7,733.01 L1303.49,733.13 L1302.29,733.26 L1301.11,733.4 L1299.94,733.56 L1298.79,733.74 L1297.66,733.92 L1296.54,734.12 L1295.44,734.33 L1294.36,734.55 L1293.29,734.79 L1292.24,735.03 L1291.21,735.29 L1290.2,735.55 L1289.21,735.82 L1288.23,736.1 L1287.28,736.39 L1286.34,736.69 L1285.42,737 L1284.53,737.31 L1283.65,737.62 L1282.79,737.95 L1281.94,738.27 L1281.12,738.61 L1280.32,738.94 L1279.54,739.28 L1278.78,739.62 L1278.03,739.97 L1277.31,740.32 L1276.61,740.67 L1275.92,741.02 L1275.26,741.37 L1274.61,741.72 L1273.98,742.07 L1273.38,742.42 L1272.79,742.76 L1272.22,743.11 L1271.67,743.46 L1271.14,743.8 L1270.62,744.13 L1270.13,744.47 L1269.65,744.8 L1269.2,745.13 L1268.76,745.45 L1268.34,745.76 L1267.93,746.07 L1267.54,746.38 L1267.17,746.67 L1266.82,746.96 L1266.49,747.25 L1266.17,747.52 L1265.86,747.79 L1265.57,748.05 L1265.3,748.29 L1265.05,748.53 L1264.8,748.76 L1264.58,748.98 L1264.36,749.19 L1264.17,749.39 L1263.98,749.58 L1263.81,749.76 L1263.65,749.92 L1263.51,750.08 L1263.38,750.22 L1263.26,750.34 L1263.15,750.46 L1263.05,750.56 L1262.96,750.65 L1262.89,750.72 L1262.82,750.78 L1262.77,750.83 L1262.72,750.86 L1262.69,750.88 L1262.66,750.88 L1262.64,750.87 L1262.63,750.84 L1262.63,750.79 L1262.63,750.73 L1262.64,750.66 L1262.66,750.56 L1262.68,750.45 L1262.71,750.33 L1262.74,750.19 L1262.78,750.03 L1262.82,749.85 L1262.87,749.66 L1262.92,749.45 L1262.97,749.22 L1263.02,748.97 L1263.08,748.71 L1263.14,748.43 L1263.19,748.13 L1263.25,747.82 L1263.31,747.48 L1263.37,747.13 L1263.43,746.76 L1263.49,746.37 L1263.54,745.97 L1263.6,745.54 L1263.65,745.1 L1263.69,744.64 L1263.74,744.16 L1263.78,743.67 L1263.81,743.15 L1263.84,742.62 L1263.87,742.07 L1263.89,741.5 L1263.9,740.92 L1263.9,740.32 L1263.9,739.7 L1263.89,739.06 L1263.88,738.41 L1263.85,737.73 L1263.81,737.05 L1263.77,736.34 L1263.71,735.62 L1263.65,734.88 L1263.57,734.13 L1263.49,733.36 L1263.39,732.58 L1263.27,731.78 L1263.15,730.96 L1263.01,730.13 L1262.86,729.28 L1262.7,728.43 L1262.52,727.55 L1262.33,726.67 L1262.12,725.76 L1261.89,724.85 L1261.66,723.93 L1261.4,722.99 L1261.13,722.04 L1260.84,721.08 L1260.53,720.1 L1260.21,719.12 L1259.87,718.13 L1259.51,717.13 L1259.13,716.11 L1258.74,715.09 L1258.32,714.06 L1257.89,713.03 L1257.43,711.98 L1256.96,710.93 L1256.46,709.87 L1255.95,708.81 L1255.41,707.74 L1254.86,706.66 L1254.28,705.59 L1253.69,704.51 L1253.07,703.42 L1252.43,702.33 L1251.77,701.25 L1251.09,700.16 L1250.39,699.06 L1249.66,697.97 L1248.92,696.88 L1248.15,695.8 L1247.36,694.71 L1246.55,693.63 L1245.71,692.55 L1244.86,691.47 L1243.98,690.4 L1243.09,689.33 L1242.17,688.27 L1241.23,687.21 L1240.26,686.17 L1239.28,685.13 L1238.28,684.1 L1237.25,683.08 L1236.21,682.06 L1235.14,681.06 L1234.06,680.07 L1232.95,679.1 L1231.83,678.13 L1230.69,677.18 L1229.52,676.24 L1228.34,675.32 L1227.14,674.42 L1225.93,673.52 L1224.69,672.65 L1223.44,671.79 L1222.17,670.95 L1220.89,670.13 L1219.59,669.33 L1218.27,668.55 L1216.94,667.79 L1215.59,667.05 L1214.24,666.33 L1212.86,665.64 L1211.48,664.97 L1210.08,664.32 L1208.67,663.69 L1207.26,663.09 L1205.83,662.51 L1204.39,661.96 L1202.94,661.44 L1201.49,660.94 L1200.02,660.47 L1198.55,660.02 L1197.08,659.61 L1195.59,659.22 L1194.11,658.86 L1192.62,658.53 L1191.12,658.23 L1189.63,657.96 L1188.13,657.71 L1186.63,657.5 L1185.14,657.32 L1183.64,657.17 L1182.14,657.05 L1180.65,656.96 L1179.16,656.91 L1177.67,656.88 L1176.19,656.89 L1174.71,656.93 L1173.25,657 L1171.78,657.1 L1170.33,657.23 L1168.89,657.4 L1167.45,657.6 L1166.03,657.83 L1164.61,658.09 L1163.21,658.38 L1161.83,658.71 L1160.45,659.07 L1159.1,659.46 L1157.75,659.88 L1156.43,660.33 L1155.12,660.81 L1153.83,661.33 L1152.56,661.87 L1151.31,662.45 L1150.08,663.05 L1148.87,663.69 L1147.68,664.35 L1146.51,665.04 L1145.37,665.77 L1144.25,666.52 L1143.16,667.3 L1142.1,668.1 L1141.05,668.93 L1140.04,669.79 L1139.05,670.68 L1138.1,671.59 L1137.17,672.52 L1136.27,673.48 L1135.4,674.46 L1134.56,675.47 L1133.75,676.5 L1132.97,677.55 L1132.22,678.62 L1131.51,679.71 L1130.83,680.82 L1130.19,681.96 L1129.57,683.11 L1128.99,684.27 L1128.45,685.46 L1127.94,686.66 L1127.47,687.88 L1127.03,689.11 L1126.62,690.35 L1126.26,691.61 L1125.92,692.88 L1125.63,694.17 L1125.37,695.46 L1125.15,696.76 L1124.96,698.08 L1124.82,699.4 L1124.7,700.73 L1124.63,702.06 L1124.59,703.41 L1124.59,704.75 L1124.63,706.11 L1124.7,707.46 L1124.81,708.82 L1124.96,710.18 L1125.14,711.54 L1125.36,712.9 L1125.61,714.26 L1125.9,715.62 L1126.23,716.98 L1126.59,718.34 L1126.99,719.69 L1127.42,721.03 L1127.89,722.38 L1128.39,723.71 L1128.92,725.04 L1129.49,726.36 L1130.09,727.68 L1130.72,728.98 L1131.39,730.28 L1132.09,731.56 L1132.81,732.83 L1133.57,734.1 L1134.36,735.35 L1135.18,736.58 L1136.03,737.81 L1136.9,739.02 L1137.81,740.21 L1138.74,741.39 L1139.69,742.55 L1140.68,743.7 L1141.69,744.83 L1142.72,745.94 L1143.78,747.04 L1144.86,748.11 L1145.96,749.17 L1147.08,750.21 L1148.23,751.22 L1149.39,752.22 L1150.58,753.2 L1151.78,754.16 L1153,755.09 L1154.24,756.01 L1155.5,756.9 L1156.77,757.77 L1158.06,758.62 L1159.36,759.44 L1160.67,760.24 L1162,761.02 L1163.34,761.78 L1164.69,762.51 L1166.05,763.22 L1167.42,763.91 L1168.8,764.57 L1170.18,765.21 L1171.58,765.82 L1172.98,766.42 L1174.38,766.98 L1175.79,767.53 L1177.21,768.05 L1178.62,768.54 L1180.05,769.01 L1181.47,769.46 L1182.89,769.89 L1184.32,770.29 L1185.74,770.67 L1187.16,771.02 L1188.58,771.36 L1190,771.67 L1191.41,771.95 L1192.83,772.22 L1194.23,772.46 L1195.63,772.68 L1197.03,772.88 L1198.42,773.06 L1199.8,773.21 L1201.18,773.35 L1202.54,773.47 L1203.9,773.56 L1205.25,773.64 L1206.59,773.69 L1207.91,773.73 L1209.23,773.75 L1210.54,773.75 L1211.83,773.73 L1213.11,773.7 L1214.38,773.64 L1215.63,773.58 L1216.88,773.49 L1218.1,773.39 L1219.31,773.27 L1220.51,773.14 L1221.69,773 L1222.86,772.84 L1224.01,772.66 L1225.14,772.48 L1226.26,772.28 L1227.36,772.07 L1228.44,771.85 L1229.51,771.61 L1230.56,771.37 L1231.59,771.11 L1232.6,770.85 L1233.59,770.58 L1234.57,770.3 L1235.52,770.01 L1236.46,769.71 L1237.38,769.4 L1238.27,769.09 L1239.15,768.78 L1240.01,768.45 L1240.86,768.13 L1241.68,767.79 L1242.48,767.46 L1243.26,767.12 L1244.02,766.78 L1244.77,766.43 L1245.49,766.08 L1246.19,765.73 L1246.88,765.38 L1247.54,765.03 L1248.19,764.68 L1248.82,764.33 L1249.42,763.98 L1250.01,763.64 L1250.58,763.29 L1251.13,762.94 L1251.66,762.6 L1252.18,762.27 L1252.67,761.93 L1253.15,761.6 L1253.6,761.27 L1254.04,760.95 L1254.46,760.64 L1254.87,760.33 L1255.26,760.02 L1255.63,759.73 L1255.98,759.44 L1256.31,759.15 L1256.63,758.88 L1256.94,758.61 L1257.23,758.35 L1257.5,758.11 L1257.75,757.87 L1258,757.64 L1258.22,757.42 L1258.44,757.21 L1258.63,757.01 L1258.82,756.82 L1258.99,756.64 L1259.15,756.48 L1259.29,756.32 L1259.42,756.18 L1259.54,756.06 L1259.65,755.94 L1259.75,755.84 L1259.84,755.75 L1259.91,755.68 L1259.98,755.62 L1260.03,755.57 L1260.08,755.54 L1260.11,755.52 L1260.14,755.52 L1260.16,755.53 L1260.17,755.56 L1260.17,755.61 L1260.17,755.67 L1260.16,755.74 L1260.14,755.84 L1260.12,755.95 L1260.09,756.07 L1260.06,756.21 L1260.02,756.37 L1259.98,756.55 L1259.93,756.74 L1259.88,756.95 L1259.83,757.18 L1259.78,757.43 L1259.72,757.69 L1259.66,757.97 L1259.61,758.27 L1259.55,758.58 L1259.49,758.92 L1259.43,759.27 L1259.37,759.64 L1259.31,760.03 L1259.26,760.43 L1259.2,760.86 L1259.15,761.3 L1259.11,761.76 L1259.06,762.24 L1259.02,762.73 L1258.99,763.25 L1258.96,763.78 L1258.93,764.33 L1258.91,764.9 L1258.9,765.48 L1258.9,766.08 L1258.9,766.7 L1258.91,767.34 L1258.92,767.99 L1258.95,768.67 L1258.99,769.35 L1259.03,770.06 L1259.09,770.78 L1259.15,771.52 L1259.23,772.27 L1259.31,773.04 L1259.41,773.82 L1259.53,774.62 L1259.65,775.44 L1259.79,776.27 L1259.94,777.12 L1260.1,777.97 L1260.28,778.85 L1260.47,779.73 L1260.68,780.64 L1260.91,781.55 L1261.14,782.47 L1261.4,783.41 L1261.67,784.36 L1261.96,785.32 L1262.27,786.3 L1262.59,787.28 L1262.93,788.27 L1263.29,789.27 L1263.67,790.29 L1264.06,791.31 L1264.48,792.34 L1264.91,793.37 L1265.37,794.42 L1265.84,795.47 L1266.34,796.53 L1266.85,797.59 L1267.39,798.66 L1267.94,799.74 L1268.52,800.81 L1269.11,801.89 L1269.73,802.98 L1270.37,804.07 L1271.03,805.15 L1271.71,806.24 L1272.41,807.34 L1273.14,808.43 L1273.88,809.52 L1274.65,810.6 L1275.44,811.69 L1276.25,812.77 L1277.09,813.85 L1277.94,814.93 L1278.82,816 L1279.71,817.07 L1280.63,818.13 L1281.57,819.19 L1282.54,820.23 L1283.52,821.27 L1284.52,822.3 L1285.55,823.32 L1286.59,824.34 L1287.66,825.34 L1288.74,826.33 L1289.85,827.3 L1290.97,828.27 L1292.11,829.22 L1293.28,830.16 L1294.46,831.08 L1295.66,831.98 L1296.87,832.88 L1298.11,833.75 L1299.36,834.61 L1300.63,835.45 L1301.91,836.27 L1303.21,837.07 L1304.53,837.85 L1305.86,838.61 L1307.21,839.35 L1308.56,840.07 L1309.94,840.76 L1311.32,841.43 L1312.72,842.08 L1314.13,842.71 L1315.54,843.31 L1316.97,843.89 L1318.41,844.44 L1319.86,844.96 L1321.31,845.46 L1322.78,845.93 L1324.25,846.38 L1325.72,846.79 L1327.21,847.18 L1328.69,847.54 L1330.18,847.87 L1331.68,848.17 L1333.17,848.44 L1334.67,848.69 L1336.17,848.9 L1337.66,849.08 L1339.16,849.23 L1340.66,849.35 L1342.15,849.44 L1343.64,849.49 L1345.13,849.52 L1346.61,849.51 L1348.09,849.47 L1349.55,849.4 L1351.02,849.3 L1352.47,849.17 L1353.91,849 L1355.35,848.8 L1356.77,848.57 L1358.19,848.31 L1359.59,848.02 L1360.97,847.69 L1362.35,847.33 L1363.7,846.94 L1365.05,846.52 L1366.37,846.07 L1367.68,845.59 L1368.97,845.07 L1370.24,844.53 L1371.49,843.95 L1372.72,843.35 L1373.93,842.71 L1375.12,842.05 L1376.29,841.36 L1377.43,840.63 L1378.55,839.88 L1379.64,839.1 L1380.7,838.3 L1381.75,837.47 L1382.76,836.61 L1383.75,835.72 L1384.7,834.81 L1385.63,833.88 L1386.53,832.92 L1387.4,831.94 L1388.24,830.93 L1389.05,829.9 L1389.83,828.85 L1390.58,827.78 L1391.29,826.69 L1391.97,825.58 L1392.61,824.44 L1393.23,823.29 L1393.81,822.13 L1394.35,820.94 L1394.86,819.74 L1395.33,818.52 L1395.77,817.29 L1396.18,816.05 L1396.54,814.79 L1396.88,813.52 L1397.17,812.23 L1397.43,810.94 L1397.65,809.64 L1397.84,808.32 L1397.98,807 L1398.1,805.67 L1398.17,804.34 L1398.21,802.99 L1398.21,801.65 L1398.17,800.29 L1398.1,798.94 L1397.99,797.58 L1397.84,796.22 L1397.66,794.86 L1397.44,793.5 L1397.19,792.14 L1396.9,790.78 L1396.57,789.42 L1396.21,788.06 L1395.81,786.71 L1395.38,785.37 L1394.91,784.02 L1394.41,782.69 L1393.88,781.36 L1393.31,780.04 L1392.71,778.72 L1392.08,777.42 L1391.41,776.12 L1390.71,774.84 L1389.99,773.57 L1389.23,772.3 L1388.44,771.05 L1387.62,769.82 L1386.77,768.59 L1385.9,767.38 L1384.99,766.19 L1384.06,765.01 L1383.11,763.85 L1382.12,762.7 L1381.11,761.57 L1380.08,760.46 L1379.02,759.36 L1377.94,758.29 L1376.84,757.23 L1375.72,756.19 L1374.57,755.18 L1373.41,754.18 L1372.22,753.2" fill="none" stroke="#ff8208" stroke-width="4.2" stroke-linejoin="round"/>
<circle cx="1425.7" cy="540.1" r="9.8" fill="url(#bgg)"/>
<line x1="1404.3" y1="563.6" x2="1447.5" y2="563.6" stroke="#ff8208" stroke-width="4.3"/>
<text x="1453.7" y="546.3" font-size="20.8" fill="#000">Data</text><text x="1453.7" y="570.2" font-size="20.8" fill="#000">Fitted</text>
<rect x="1235.8" y="984.2" width="62" height="42.6" fill="#fef0cf"/>
<text x="1243.8" y="1013.7" font-size="31" font-style="italic" fill="#000">A</text><text x="1264.6" y="1021" font-size="18" fill="#000">g</text><text x="1278.6" y="1003.1" font-size="17.5" fill="#000">2</text>
<text x="1543" y="554.5" font-size="31" font-weight="bold" fill="#140d0b">h</text>
<g fill="none" stroke="#6a6a6a" stroke-width="1.05" stroke-dasharray="2.7 2.2"><circle cx="1754.4" cy="753.2" r="69.2"/><circle cx="1754.4" cy="753.2" r="138.9"/><line x1="1789" y1="753.2" x2="1945" y2="753.2"/><line x1="1784.36" y1="735.9" x2="1919.46" y2="657.9"/><line x1="1771.7" y1="723.24" x2="1849.7" y2="588.14"/><line x1="1754.4" y1="718.6" x2="1754.4" y2="562.6"/><line x1="1737.1" y1="723.24" x2="1659.1" y2="588.14"/><line x1="1724.44" y1="735.9" x2="1589.34" y2="657.9"/><line x1="1719.8" y1="753.2" x2="1563.8" y2="753.2"/><line x1="1724.44" y1="770.5" x2="1589.34" y2="848.5"/><line x1="1737.1" y1="783.16" x2="1659.1" y2="918.26"/><line x1="1754.4" y1="787.8" x2="1754.4" y2="943.8"/><line x1="1771.7" y1="783.16" x2="1849.7" y2="918.26"/><line x1="1784.36" y1="770.5" x2="1919.46" y2="848.5"/></g>
<circle cx="1754.4" cy="753.2" r="190.6" fill="none" stroke="#000" stroke-width="3.2"/>
<g stroke="#000" stroke-width="3.2"><line x1="1937.7" y1="753.2" x2="1945" y2="753.2"/><line x1="1913.14" y1="661.55" x2="1919.46" y2="657.9"/><line x1="1846.05" y1="594.46" x2="1849.7" y2="588.14"/><line x1="1754.4" y1="569.9" x2="1754.4" y2="562.6"/><line x1="1662.75" y1="594.46" x2="1659.1" y2="588.14"/><line x1="1595.66" y1="661.55" x2="1589.34" y2="657.9"/><line x1="1571.1" y1="753.2" x2="1563.8" y2="753.2"/><line x1="1595.66" y1="844.85" x2="1589.34" y2="848.5"/><line x1="1662.75" y1="911.94" x2="1659.1" y2="918.26"/><line x1="1754.4" y1="936.5" x2="1754.4" y2="943.8"/><line x1="1846.05" y1="911.94" x2="1849.7" y2="918.26"/><line x1="1913.14" y1="844.85" x2="1919.46" y2="848.5"/></g>
<g font-size="24.2" fill="#000" text-anchor="middle"><text x="1754.6" y="549">90</text><text x="1867.1" y="577.4">60</text><text x="1940" y="649.4">30</text><text x="1959.9" y="761.8">0</text><text x="1946.7" y="874.4">330</text><text x="1874.4" y="946.7">300</text><text x="1754.4" y="973.8">270</text><text x="1634.1" y="946.7">240</text><text x="1561.1" y="874.4">210</text><text x="1536" y="761.8">180</text><text x="1562.1" y="649.3">150</text><text x="1634.9" y="576.7">120</text></g>
<radialGradient id="bgh" cx="0.378" cy="0.393" r="0.25"><stop offset="0" stop-color="#fff"/><stop offset="0.22" stop-color="#fff"/><stop offset="0.62" stop-color="#b0e0ff"/><stop offset="1" stop-color="#14a6fb"/></radialGradient>
<g fill="url(#bgh)"><circle cx="1807.4" cy="753.2" r="9.7"/><circle cx="1824.81" cy="740.78" r="9.7"/><circle cx="1843.67" cy="720.71" r="9.7"/><circle cx="1863.61" cy="690.15" r="9.7"/><circle cx="1866.55" cy="659.1" r="9.7"/><circle cx="1856.47" cy="631.55" r="9.7"/><circle cx="1835.55" cy="612.64" r="9.7"/><circle cx="1808.17" cy="605.48" r="9.7"/><circle cx="1779.14" cy="612.86" r="9.7"/><circle cx="1754.4" cy="639.2" r="9.7"/><circle cx="1739.12" cy="666.54" r="9.7"/><circle cx="1731.31" cy="689.77" r="9.7"/><circle cx="1730.65" cy="712.06" r="9.7"/><circle cx="1732.8" cy="727.46" r="9.7"/><circle cx="1734.18" cy="736.23" r="9.7"/><circle cx="1732.14" cy="740.35" r="9.7"/><circle cx="1725.46" cy="742.67" r="9.7"/><circle cx="1717.27" cy="746.65" r="9.7"/><circle cx="1701.4" cy="753.2" r="9.7"/><circle cx="1683.99" cy="765.62" r="9.7"/><circle cx="1665.13" cy="785.69" r="9.7"/><circle cx="1645.19" cy="816.25" r="9.7"/><circle cx="1642.25" cy="847.3" r="9.7"/><circle cx="1652.33" cy="874.85" r="9.7"/><circle cx="1673.25" cy="893.76" r="9.7"/><circle cx="1700.63" cy="900.92" r="9.7"/><circle cx="1729.66" cy="893.54" r="9.7"/><circle cx="1754.4" cy="867.2" r="9.7"/><circle cx="1769.68" cy="839.86" r="9.7"/><circle cx="1777.49" cy="816.63" r="9.7"/><circle cx="1778.15" cy="794.34" r="9.7"/><circle cx="1776" cy="778.94" r="9.7"/><circle cx="1774.62" cy="770.17" r="9.7"/><circle cx="1776.66" cy="766.05" r="9.7"/><circle cx="1783.34" cy="763.73" r="9.7"/><circle cx="1791.53" cy="759.75" r="9.7"/></g>
<path d="M1807.37,753.2 L1808.26,752.73 L1809.17,752.24 L1810.08,751.74 L1811,751.22 L1811.93,750.69 L1812.87,750.14 L1813.82,749.57 L1814.77,748.98 L1815.73,748.37 L1816.7,747.75 L1817.68,747.11 L1818.65,746.45 L1819.64,745.77 L1820.63,745.07 L1821.62,744.35 L1822.62,743.61 L1823.62,742.86 L1824.62,742.08 L1825.63,741.28 L1826.63,740.46 L1827.64,739.63 L1828.65,738.77 L1829.65,737.89 L1830.66,736.99 L1831.66,736.07 L1832.67,735.13 L1833.66,734.17 L1834.66,733.19 L1835.65,732.19 L1836.64,731.16 L1837.62,730.12 L1838.59,729.06 L1839.56,727.97 L1840.52,726.87 L1841.48,725.75 L1842.42,724.6 L1843.35,723.44 L1844.28,722.25 L1845.19,721.05 L1846.09,719.83 L1846.98,718.59 L1847.85,717.33 L1848.71,716.05 L1849.56,714.75 L1850.39,713.44 L1851.2,712.11 L1852,710.76 L1852.78,709.4 L1853.54,708.02 L1854.28,706.62 L1855.01,705.21 L1855.71,703.79 L1856.39,702.35 L1857.05,700.9 L1857.69,699.43 L1858.31,697.95 L1858.9,696.46 L1859.47,694.96 L1860.01,693.45 L1860.53,691.93 L1861.02,690.39 L1861.49,688.85 L1861.93,687.31 L1862.34,685.75 L1862.72,684.19 L1863.08,682.62 L1863.4,681.05 L1863.7,679.48 L1863.97,677.9 L1864.2,676.31 L1864.41,674.73 L1864.59,673.15 L1864.73,671.56 L1864.84,669.98 L1864.92,668.39 L1864.97,666.81 L1864.98,665.24 L1864.97,663.66 L1864.92,662.1 L1864.83,660.54 L1864.72,658.98 L1864.57,657.43 L1864.38,655.9 L1864.16,654.37 L1863.91,652.85 L1863.63,651.34 L1863.31,649.85 L1862.96,648.37 L1862.57,646.9 L1862.15,645.45 L1861.7,644.01 L1861.21,642.59 L1860.69,641.19 L1860.14,639.81 L1859.56,638.44 L1858.94,637.1 L1858.29,635.78 L1857.61,634.47 L1856.89,633.2 L1856.15,631.94 L1855.37,630.71 L1854.57,629.51 L1853.73,628.33 L1852.86,627.17 L1851.97,626.05 L1851.04,624.95 L1850.09,623.88 L1849.11,622.84 L1848.1,621.83 L1847.07,620.85 L1846.01,619.91 L1844.93,618.99 L1843.82,618.11 L1842.68,617.26 L1841.52,616.44 L1840.34,615.66 L1839.14,614.91 L1837.92,614.2 L1836.68,613.52 L1835.41,612.88 L1834.13,612.28 L1832.83,611.71 L1831.51,611.18 L1830.18,610.68 L1828.83,610.22 L1827.46,609.8 L1826.08,609.42 L1824.69,609.08 L1823.29,608.77 L1821.87,608.51 L1820.44,608.28 L1819.01,608.09 L1817.56,607.94 L1816.11,607.82 L1814.65,607.75 L1813.18,607.71 L1811.71,607.72 L1810.23,607.76 L1808.75,607.84 L1807.27,607.95 L1805.78,608.11 L1804.29,608.3 L1802.81,608.53 L1801.32,608.8 L1799.83,609.1 L1798.35,609.44 L1796.87,609.82 L1795.4,610.23 L1793.93,610.67 L1792.46,611.16 L1791,611.67 L1789.55,612.22 L1788.11,612.81 L1786.67,613.43 L1785.24,614.07 L1783.83,614.76 L1782.42,615.47 L1781.03,616.21 L1779.65,616.99 L1778.28,617.79 L1776.92,618.62 L1775.58,619.48 L1774.25,620.37 L1772.94,621.28 L1771.64,622.22 L1770.36,623.19 L1769.1,624.18 L1767.85,625.19 L1766.63,626.23 L1765.42,627.29 L1764.22,628.37 L1763.05,629.47 L1761.9,630.59 L1760.77,631.73 L1759.65,632.89 L1758.56,634.07 L1757.49,635.26 L1756.44,636.47 L1755.41,637.7 L1754.4,638.93 L1753.41,640.19 L1752.45,641.45 L1751.51,642.73 L1750.59,644.01 L1749.69,645.31 L1748.81,646.62 L1747.96,647.93 L1747.13,649.25 L1746.32,650.58 L1745.54,651.92 L1744.78,653.26 L1744.04,654.61 L1743.32,655.95 L1742.63,657.31 L1741.95,658.66 L1741.3,660.02 L1740.68,661.37 L1740.07,662.73 L1739.49,664.08 L1738.92,665.44 L1738.38,666.79 L1737.87,668.14 L1737.37,669.48 L1736.89,670.82 L1736.43,672.16 L1736,673.49 L1735.58,674.82 L1735.19,676.14 L1734.81,677.45 L1734.45,678.75 L1734.11,680.05 L1733.79,681.33 L1733.49,682.61 L1733.21,683.88 L1732.94,685.14 L1732.69,686.39 L1732.46,687.62 L1732.24,688.85 L1732.04,690.06 L1731.86,691.26 L1731.69,692.45 L1731.53,693.62 L1731.39,694.78 L1731.26,695.93 L1731.15,697.06 L1731.05,698.18 L1730.96,699.29 L1730.88,700.38 L1730.82,701.46 L1730.77,702.52 L1730.72,703.56 L1730.69,704.59 L1730.67,705.6 L1730.66,706.6 L1730.65,707.58 L1730.66,708.55 L1730.67,709.5 L1730.69,710.43 L1730.72,711.35 L1730.76,712.25 L1730.8,713.14 L1730.85,714.01 L1730.9,714.86 L1730.96,715.69 L1731.03,716.51 L1731.1,717.31 L1731.17,718.1 L1731.24,718.87 L1731.32,719.62 L1731.41,720.36 L1731.49,721.08 L1731.58,721.79 L1731.67,722.48 L1731.76,723.15 L1731.85,723.81 L1731.94,724.46 L1732.04,725.08 L1732.13,725.7 L1732.22,726.29 L1732.31,726.88 L1732.4,727.44 L1732.49,728 L1732.58,728.54 L1732.67,729.06 L1732.75,729.57 L1732.83,730.07 L1732.91,730.55 L1732.99,731.02 L1733.06,731.48 L1733.13,731.93 L1733.19,732.36 L1733.25,732.78 L1733.31,733.18 L1733.36,733.58 L1733.41,733.96 L1733.45,734.33 L1733.48,734.7 L1733.52,735.05 L1733.54,735.38 L1733.56,735.71 L1733.57,736.03 L1733.58,736.34 L1733.58,736.64 L1733.57,736.93 L1733.55,737.2 L1733.53,737.47 L1733.5,737.74 L1733.47,737.99 L1733.42,738.24 L1733.37,738.47 L1733.31,738.7 L1733.23,738.92 L1733.16,739.14 L1733.07,739.35 L1732.97,739.55 L1732.87,739.74 L1732.75,739.93 L1732.63,740.12 L1732.49,740.29 L1732.35,740.47 L1732.19,740.64 L1732.03,740.8 L1731.85,740.96 L1731.67,741.11 L1731.47,741.26 L1731.26,741.41 L1731.05,741.56 L1730.82,741.7 L1730.58,741.84 L1730.32,741.97 L1730.06,742.11 L1729.79,742.24 L1729.5,742.37 L1729.2,742.5 L1728.89,742.63 L1728.56,742.76 L1728.23,742.89 L1727.88,743.02 L1727.52,743.15 L1727.15,743.28 L1726.76,743.41 L1726.36,743.55 L1725.95,743.68 L1725.53,743.82 L1725.09,743.96 L1724.64,744.1 L1724.17,744.25 L1723.69,744.4 L1723.2,744.55 L1722.7,744.71 L1722.18,744.87 L1721.65,745.03 L1721.1,745.21 L1720.54,745.38 L1719.97,745.57 L1719.39,745.76 L1718.79,745.95 L1718.17,746.16 L1717.55,746.37 L1716.91,746.59 L1716.25,746.82 L1715.59,747.05 L1714.91,747.3 L1714.21,747.55 L1713.51,747.82 L1712.79,748.09 L1712.05,748.38 L1711.31,748.67 L1710.55,748.98 L1709.78,749.3 L1709,749.63 L1708.2,749.97 L1707.4,750.33 L1706.58,750.69 L1705.75,751.08 L1704.9,751.47 L1704.05,751.88 L1703.19,752.31 L1702.31,752.75 L1701.43,753.2 L1700.54,753.67 L1699.63,754.16 L1698.72,754.66 L1697.8,755.18 L1696.87,755.71 L1695.93,756.26 L1694.98,756.83 L1694.03,757.42 L1693.07,758.03 L1692.1,758.65 L1691.12,759.29 L1690.15,759.95 L1689.16,760.63 L1688.17,761.33 L1687.18,762.05 L1686.18,762.79 L1685.18,763.54 L1684.18,764.32 L1683.17,765.12 L1682.17,765.94 L1681.16,766.77 L1680.15,767.63 L1679.15,768.51 L1678.14,769.41 L1677.14,770.33 L1676.13,771.27 L1675.14,772.23 L1674.14,773.21 L1673.15,774.21 L1672.16,775.24 L1671.18,776.28 L1670.21,777.34 L1669.24,778.43 L1668.28,779.53 L1667.32,780.65 L1666.38,781.8 L1665.45,782.96 L1664.52,784.15 L1663.61,785.35 L1662.71,786.57 L1661.82,787.81 L1660.95,789.07 L1660.09,790.35 L1659.24,791.65 L1658.41,792.96 L1657.6,794.29 L1656.8,795.64 L1656.02,797 L1655.26,798.38 L1654.52,799.78 L1653.79,801.19 L1653.09,802.61 L1652.41,804.05 L1651.75,805.5 L1651.11,806.97 L1650.49,808.45 L1649.9,809.94 L1649.33,811.44 L1648.79,812.95 L1648.27,814.47 L1647.78,816.01 L1647.31,817.55 L1646.87,819.09 L1646.46,820.65 L1646.08,822.21 L1645.72,823.78 L1645.4,825.35 L1645.1,826.92 L1644.83,828.5 L1644.6,830.09 L1644.39,831.67 L1644.21,833.25 L1644.07,834.84 L1643.96,836.42 L1643.88,838.01 L1643.83,839.59 L1643.82,841.16 L1643.83,842.74 L1643.88,844.3 L1643.97,845.86 L1644.08,847.42 L1644.23,848.97 L1644.42,850.5 L1644.64,852.03 L1644.89,853.55 L1645.17,855.06 L1645.49,856.55 L1645.84,858.03 L1646.23,859.5 L1646.65,860.95 L1647.1,862.39 L1647.59,863.81 L1648.11,865.21 L1648.66,866.59 L1649.24,867.96 L1649.86,869.3 L1650.51,870.62 L1651.19,871.93 L1651.91,873.2 L1652.65,874.46 L1653.43,875.69 L1654.23,876.89 L1655.07,878.07 L1655.94,879.23 L1656.83,880.35 L1657.76,881.45 L1658.71,882.52 L1659.69,883.56 L1660.7,884.57 L1661.73,885.55 L1662.79,886.49 L1663.87,887.41 L1664.98,888.29 L1666.12,889.14 L1667.28,889.96 L1668.46,890.74 L1669.66,891.49 L1670.88,892.2 L1672.12,892.88 L1673.39,893.52 L1674.67,894.12 L1675.97,894.69 L1677.29,895.22 L1678.62,895.72 L1679.97,896.18 L1681.34,896.6 L1682.72,896.98 L1684.11,897.32 L1685.51,897.63 L1686.93,897.89 L1688.36,898.12 L1689.79,898.31 L1691.24,898.46 L1692.69,898.58 L1694.15,898.65 L1695.62,898.69 L1697.09,898.68 L1698.57,898.64 L1700.05,898.56 L1701.53,898.45 L1703.02,898.29 L1704.51,898.1 L1705.99,897.87 L1707.48,897.6 L1708.97,897.3 L1710.45,896.96 L1711.93,896.58 L1713.4,896.17 L1714.87,895.73 L1716.34,895.24 L1717.8,894.73 L1719.25,894.18 L1720.69,893.59 L1722.13,892.97 L1723.56,892.33 L1724.97,891.64 L1726.38,890.93 L1727.77,890.19 L1729.15,889.41 L1730.52,888.61 L1731.88,887.78 L1733.22,886.92 L1734.55,886.03 L1735.86,885.12 L1737.16,884.18 L1738.44,883.21 L1739.7,882.22 L1740.95,881.21 L1742.17,880.17 L1743.38,879.11 L1744.58,878.03 L1745.75,876.93 L1746.9,875.81 L1748.03,874.67 L1749.15,873.51 L1750.24,872.33 L1751.31,871.14 L1752.36,869.93 L1753.39,868.7 L1754.4,867.47 L1755.39,866.21 L1756.35,864.95 L1757.29,863.67 L1758.21,862.39 L1759.11,861.09 L1759.99,859.78 L1760.84,858.47 L1761.67,857.15 L1762.48,855.82 L1763.26,854.48 L1764.02,853.14 L1764.76,851.79 L1765.48,850.45 L1766.17,849.09 L1766.85,847.74 L1767.5,846.38 L1768.12,845.03 L1768.73,843.67 L1769.31,842.32 L1769.88,840.96 L1770.42,839.61 L1770.93,838.26 L1771.43,836.92 L1771.91,835.58 L1772.37,834.24 L1772.8,832.91 L1773.22,831.58 L1773.61,830.26 L1773.99,828.95 L1774.35,827.65 L1774.69,826.35 L1775.01,825.07 L1775.31,823.79 L1775.59,822.52 L1775.86,821.26 L1776.11,820.01 L1776.34,818.78 L1776.56,817.55 L1776.76,816.34 L1776.94,815.14 L1777.11,813.95 L1777.27,812.78 L1777.41,811.62 L1777.54,810.47 L1777.65,809.34 L1777.75,808.22 L1777.84,807.11 L1777.92,806.02 L1777.98,804.94 L1778.03,803.88 L1778.08,802.84 L1778.11,801.81 L1778.13,800.8 L1778.14,799.8 L1778.15,798.82 L1778.14,797.85 L1778.13,796.9 L1778.11,795.97 L1778.08,795.05 L1778.04,794.15 L1778,793.26 L1777.95,792.39 L1777.9,791.54 L1777.84,790.71 L1777.77,789.89 L1777.7,789.09 L1777.63,788.3 L1777.56,787.53 L1777.48,786.78 L1777.39,786.04 L1777.31,785.32 L1777.22,784.61 L1777.13,783.92 L1777.04,783.25 L1776.95,782.59 L1776.86,781.94 L1776.76,781.32 L1776.67,780.7 L1776.58,780.11 L1776.49,779.52 L1776.4,778.96 L1776.31,778.4 L1776.22,777.86 L1776.13,777.34 L1776.05,776.83 L1775.97,776.33 L1775.89,775.85 L1775.81,775.38 L1775.74,774.92 L1775.67,774.47 L1775.61,774.04 L1775.55,773.62 L1775.49,773.22 L1775.44,772.82 L1775.39,772.44 L1775.35,772.07 L1775.32,771.7 L1775.28,771.35 L1775.26,771.02 L1775.24,770.69 L1775.23,770.37 L1775.22,770.06 L1775.22,769.76 L1775.23,769.47 L1775.25,769.2 L1775.27,768.93 L1775.3,768.66 L1775.33,768.41 L1775.38,768.16 L1775.43,767.93 L1775.49,767.7 L1775.57,767.48 L1775.64,767.26 L1775.73,767.05 L1775.83,766.85 L1775.93,766.66 L1776.05,766.47 L1776.17,766.28 L1776.31,766.11 L1776.45,765.93 L1776.61,765.76 L1776.77,765.6 L1776.95,765.44 L1777.13,765.29 L1777.33,765.14 L1777.54,764.99 L1777.75,764.84 L1777.98,764.7 L1778.22,764.56 L1778.48,764.43 L1778.74,764.29 L1779.01,764.16 L1779.3,764.03 L1779.6,763.9 L1779.91,763.77 L1780.24,763.64 L1780.57,763.51 L1780.92,763.38 L1781.28,763.25 L1781.65,763.12 L1782.04,762.99 L1782.44,762.85 L1782.85,762.72 L1783.27,762.58 L1783.71,762.44 L1784.16,762.3 L1784.63,762.15 L1785.11,762 L1785.6,761.85 L1786.1,761.69 L1786.62,761.53 L1787.15,761.37 L1787.7,761.19 L1788.26,761.02 L1788.83,760.83 L1789.41,760.64 L1790.01,760.45 L1790.63,760.24 L1791.25,760.03 L1791.89,759.81 L1792.55,759.58 L1793.21,759.35 L1793.89,759.1 L1794.59,758.85 L1795.29,758.58 L1796.01,758.31 L1796.75,758.02 L1797.49,757.73 L1798.25,757.42 L1799.02,757.1 L1799.8,756.77 L1800.6,756.43 L1801.4,756.07 L1802.22,755.71 L1803.05,755.32 L1803.9,754.93 L1804.75,754.52 L1805.61,754.09 L1806.49,753.65 L1807.37,753.2" fill="none" stroke="#14a6fb" stroke-width="4.2" stroke-linejoin="round"/>
<circle cx="1918.7" cy="540.1" r="9.8" fill="url(#bgh)"/>
<line x1="1897.3" y1="563.6" x2="1940.5" y2="563.6" stroke="#14a6fb" stroke-width="4.3"/>
<text x="1946.7" y="546.3" font-size="20.8" fill="#000">Data</text><text x="1946.7" y="570.2" font-size="20.8" fill="#000">Fitted</text>
<rect x="1727" y="984.2" width="62" height="42.6" fill="#fef0cf"/>
<text x="1735" y="1013.7" font-size="31" font-style="italic" fill="#000">A</text><text x="1755.8" y="1021" font-size="18" fill="#000">g</text><text x="1769.8" y="1003.1" font-size="17.5" fill="#000">3</text>
<text x="550" y="1092.9" font-size="31" font-weight="bold" fill="#140d0b">i</text>
<g fill="none" stroke="#6a6a6a" stroke-width="1.05" stroke-dasharray="2.7 2.2"><circle cx="772.7" cy="1289.7" r="64"/><circle cx="772.7" cy="1289.7" r="128.1"/><line x1="804.7" y1="1289.7" x2="963.3" y2="1289.7"/><line x1="800.41" y1="1273.7" x2="937.76" y2="1194.4"/><line x1="788.7" y1="1261.99" x2="868" y2="1124.64"/><line x1="772.7" y1="1257.7" x2="772.7" y2="1099.1"/><line x1="756.7" y1="1261.99" x2="677.4" y2="1124.64"/><line x1="744.99" y1="1273.7" x2="607.64" y2="1194.4"/><line x1="740.7" y1="1289.7" x2="582.1" y2="1289.7"/><line x1="744.99" y1="1305.7" x2="607.64" y2="1385"/><line x1="756.7" y1="1317.41" x2="677.4" y2="1454.76"/><line x1="772.7" y1="1321.7" x2="772.7" y2="1480.3"/><line x1="788.7" y1="1317.41" x2="868" y2="1454.76"/><line x1="800.41" y1="1305.7" x2="937.76" y2="1385"/></g>
<circle cx="772.7" cy="1289.7" r="190.6" fill="none" stroke="#000" stroke-width="3.2"/>
<g stroke="#000" stroke-width="3.2"><line x1="956" y1="1289.7" x2="963.3" y2="1289.7"/><line x1="931.44" y1="1198.05" x2="937.76" y2="1194.4"/><line x1="864.35" y1="1130.96" x2="868" y2="1124.64"/><line x1="772.7" y1="1106.4" x2="772.7" y2="1099.1"/><line x1="681.05" y1="1130.96" x2="677.4" y2="1124.64"/><line x1="613.96" y1="1198.05" x2="607.64" y2="1194.4"/><line x1="589.4" y1="1289.7" x2="582.1" y2="1289.7"/><line x1="613.96" y1="1381.35" x2="607.64" y2="1385"/><line x1="681.05" y1="1448.44" x2="677.4" y2="1454.76"/><line x1="772.7" y1="1473" x2="772.7" y2="1480.3"/><line x1="864.35" y1="1448.44" x2="868" y2="1454.76"/><line x1="931.44" y1="1381.35" x2="937.76" y2="1385"/></g>
<g font-size="24.2" fill="#000" text-anchor="middle"><text x="772.9" y="1085.5">90</text><text x="885.4" y="1113.9">60</text><text x="958.3" y="1185.9">30</text><text x="978.2" y="1298.3">0</text><text x="965" y="1410.9">330</text><text x="892.7" y="1483.2">300</text><text x="772.7" y="1510.3">270</text><text x="652.4" y="1483.2">240</text><text x="579.4" y="1410.9">210</text><text x="554.3" y="1298.3">180</text><text x="580.4" y="1185.8">150</text><text x="653.2" y="1113.2">120</text></g>
<radialGradient id="bgi" cx="0.378" cy="0.393" r="0.25"><stop offset="0" stop-color="#fff"/><stop offset="0.22" stop-color="#fff"/><stop offset="0.62" stop-color="#f0b0ff"/><stop offset="1" stop-color="#d633ff"/></radialGradient>
<g fill="url(#bgi)"><circle cx="911.1" cy="1289.7" r="9.7"/><circle cx="917.96" cy="1264.09" r="9.7"/><circle cx="924.37" cy="1234.5" r="9.7"/><circle cx="889.7" cy="1222.15" r="9.7"/><circle cx="840.95" cy="1232.43" r="9.7"/><circle cx="815.64" cy="1238.53" r="9.7"/><circle cx="797.55" cy="1246.66" r="9.7"/><circle cx="800.54" cy="1213.21" r="9.7"/><circle cx="791.58" cy="1182.65" r="9.7"/><circle cx="772.7" cy="1139" r="9.7"/><circle cx="744" cy="1126.91" r="9.7"/><circle cx="720.44" cy="1146.11" r="9.7"/><circle cx="699.4" cy="1162.74" r="9.7"/><circle cx="718.77" cy="1225.43" r="9.7"/><circle cx="738.99" cy="1261.42" r="9.7"/><circle cx="755.99" cy="1280.05" r="9.7"/><circle cx="734.36" cy="1275.75" r="9.7"/><circle cx="691.85" cy="1275.44" r="9.7"/><circle cx="634.3" cy="1289.7" r="9.7"/><circle cx="627.44" cy="1315.31" r="9.7"/><circle cx="621.03" cy="1344.9" r="9.7"/><circle cx="655.7" cy="1357.25" r="9.7"/><circle cx="704.45" cy="1346.97" r="9.7"/><circle cx="729.76" cy="1340.87" r="9.7"/><circle cx="747.85" cy="1332.74" r="9.7"/><circle cx="744.86" cy="1366.19" r="9.7"/><circle cx="753.82" cy="1396.75" r="9.7"/><circle cx="772.7" cy="1440.4" r="9.7"/><circle cx="801.4" cy="1452.49" r="9.7"/><circle cx="824.96" cy="1433.29" r="9.7"/><circle cx="846" cy="1416.66" r="9.7"/><circle cx="826.63" cy="1353.97" r="9.7"/><circle cx="806.41" cy="1317.98" r="9.7"/><circle cx="789.41" cy="1299.35" r="9.7"/><circle cx="811.04" cy="1303.65" r="9.7"/><circle cx="853.55" cy="1303.96" r="9.7"/></g>
<path d="M910.85,1289.7 L912.77,1288.48 L914.62,1287.22 L916.42,1285.94 L918.15,1284.62 L919.82,1283.28 L921.41,1281.91 L922.93,1280.51 L924.38,1279.09 L925.75,1277.66 L927.03,1276.2 L928.24,1274.72 L929.36,1273.23 L930.39,1271.73 L931.34,1270.22 L932.2,1268.7 L932.96,1267.18 L933.63,1265.65 L934.21,1264.12 L934.7,1262.59 L935.09,1261.07 L935.38,1259.55 L935.57,1258.04 L935.67,1256.54 L935.67,1255.06 L935.57,1253.59 L935.38,1252.14 L935.09,1250.71 L934.7,1249.31 L934.22,1247.93 L933.66,1246.57 L933,1245.24 L932.26,1243.95 L931.43,1242.68 L930.52,1241.45 L929.52,1240.25 L928.44,1239.1 L927.28,1237.98 L926.04,1236.9 L924.72,1235.87 L923.33,1234.88 L921.86,1233.93 L920.32,1233.03 L918.72,1232.18 L917.05,1231.38 L915.31,1230.63 L913.52,1229.93 L911.66,1229.28 L909.75,1228.68 L907.79,1228.14 L905.77,1227.65 L903.71,1227.21 L901.61,1226.83 L899.46,1226.5 L897.28,1226.22 L895.06,1226 L892.81,1225.83 L890.53,1225.72 L888.23,1225.66 L885.9,1225.65 L883.56,1225.7 L881.2,1225.79 L878.82,1225.93 L876.44,1226.13 L874.05,1226.37 L871.66,1226.66 L869.26,1226.99 L866.87,1227.37 L864.49,1227.79 L862.11,1228.25 L859.75,1228.75 L857.4,1229.28 L855.07,1229.85 L852.76,1230.46 L850.47,1231.1 L848.21,1231.76 L845.97,1232.45 L843.77,1233.17 L841.6,1233.91 L839.46,1234.66 L837.36,1235.44 L835.3,1236.23 L833.29,1237.03 L831.31,1237.85 L829.38,1238.67 L827.49,1239.49 L825.66,1240.32 L823.87,1241.14 L822.13,1241.97 L820.44,1242.78 L818.81,1243.59 L817.23,1244.39 L815.7,1245.17 L814.23,1245.94 L812.81,1246.69 L811.45,1247.41 L810.14,1248.11 L808.89,1248.79 L807.7,1249.44 L806.56,1250.05 L805.48,1250.64 L804.45,1251.19 L803.47,1251.7 L802.55,1252.17 L801.69,1252.6 L800.87,1252.99 L800.11,1253.33 L799.39,1253.63 L798.73,1253.88 L798.11,1254.08 L797.54,1254.23 L797.01,1254.33 L796.52,1254.38 L796.08,1254.38 L795.67,1254.33 L795.3,1254.23 L794.96,1254.08 L794.65,1253.89 L794.35,1253.67 L794.06,1253.43 L793.8,1253.15 L793.56,1252.83 L793.34,1252.47 L793.14,1252.05 L792.96,1251.59 L792.81,1251.07 L792.67,1250.5 L792.56,1249.87 L792.46,1249.19 L792.38,1248.44 L792.32,1247.63 L792.27,1246.75 L792.24,1245.82 L792.22,1244.82 L792.2,1243.75 L792.2,1242.62 L792.2,1241.43 L792.21,1240.17 L792.22,1238.84 L792.23,1237.45 L792.24,1236 L792.25,1234.49 L792.25,1232.91 L792.25,1231.27 L792.24,1229.58 L792.21,1227.82 L792.17,1226.01 L792.12,1224.15 L792.05,1222.23 L791.96,1220.27 L791.84,1218.25 L791.71,1216.2 L791.55,1214.09 L791.37,1211.95 L791.15,1209.77 L790.91,1207.56 L790.64,1205.31 L790.33,1203.04 L789.99,1200.74 L789.62,1198.42 L789.21,1196.08 L788.76,1193.72 L788.28,1191.35 L787.75,1188.98 L787.19,1186.6 L786.59,1184.22 L785.94,1181.84 L785.26,1179.47 L784.53,1177.11 L783.77,1174.76 L782.96,1172.44 L782.11,1170.13 L781.22,1167.85 L780.29,1165.6 L779.32,1163.38 L778.31,1161.2 L777.26,1159.05 L776.18,1156.96 L775.05,1154.91 L773.89,1152.91 L772.7,1150.96 L771.47,1149.07 L770.21,1147.25 L768.92,1145.48 L767.6,1143.79 L766.26,1142.16 L764.89,1140.61 L763.49,1139.13 L762.07,1137.73 L760.64,1136.41 L759.18,1135.18 L757.71,1134.03 L756.23,1132.96 L754.73,1131.99 L753.23,1131.1 L751.72,1130.31 L750.2,1129.61 L748.68,1129.01 L747.17,1128.5 L745.66,1128.09 L744.15,1127.77 L742.65,1127.56 L741.16,1127.44 L739.68,1127.42 L738.22,1127.5 L736.78,1127.68 L735.36,1127.95 L733.96,1128.32 L732.57,1128.76 L731.21,1129.27 L729.87,1129.86 L728.56,1130.52 L727.27,1131.26 L726.01,1132.07 L724.77,1132.94 L723.57,1133.89 L722.41,1134.91 L721.27,1135.99 L720.17,1137.14 L719.11,1138.36 L718.08,1139.64 L717.09,1140.98 L716.15,1142.38 L715.24,1143.83 L714.38,1145.35 L713.56,1146.92 L712.78,1148.54 L712.05,1150.22 L711.37,1151.94 L710.73,1153.71 L710.13,1155.53 L709.59,1157.39 L709.09,1159.29 L708.64,1161.22 L708.24,1163.2 L707.89,1165.21 L707.59,1167.25 L707.34,1169.32 L707.13,1171.41 L706.98,1173.53 L706.87,1175.68 L706.81,1177.84 L706.8,1180.02 L706.84,1182.22 L706.92,1184.43 L707.05,1186.65 L707.22,1188.88 L707.44,1191.11 L707.71,1193.34 L708.01,1195.58 L708.36,1197.81 L708.75,1200.05 L709.18,1202.27 L709.65,1204.49 L710.15,1206.69 L710.69,1208.88 L711.26,1211.06 L711.87,1213.22 L712.5,1215.36 L713.17,1217.48 L713.86,1219.57 L714.58,1221.64 L715.32,1223.69 L716.08,1225.7 L716.86,1227.68 L717.66,1229.63 L718.47,1231.55 L719.3,1233.43 L720.14,1235.27 L720.98,1237.07 L721.83,1238.83 L722.69,1240.55 L723.55,1242.23 L724.4,1243.87 L725.25,1245.45 L726.1,1247 L726.93,1248.49 L727.76,1249.94 L728.57,1251.33 L729.36,1252.68 L730.13,1253.98 L730.88,1255.22 L731.6,1256.42 L732.29,1257.56 L732.96,1258.65 L733.58,1259.68 L734.17,1260.67 L734.72,1261.6 L735.22,1262.47 L735.67,1263.29 L736.07,1264.05 L736.42,1264.76 L736.7,1265.42 L736.91,1266.01 L737.05,1266.55 L737.1,1267.02 L737.06,1267.43 L736.89,1267.75 L736.67,1268.05 L736.43,1268.34 L736.15,1268.6 L735.84,1268.84 L735.48,1269.07 L735.07,1269.27 L734.61,1269.45 L734.1,1269.6 L733.53,1269.74 L732.91,1269.86 L732.23,1269.96 L731.49,1270.05 L730.69,1270.11 L729.83,1270.16 L728.91,1270.2 L727.92,1270.23 L726.87,1270.25 L725.76,1270.26 L724.58,1270.26 L723.34,1270.26 L722.03,1270.25 L720.66,1270.24 L719.23,1270.24 L717.73,1270.24 L716.18,1270.24 L714.56,1270.25 L712.89,1270.27 L711.16,1270.3 L709.37,1270.34 L707.53,1270.4 L705.64,1270.47 L703.69,1270.56 L701.7,1270.68 L699.66,1270.81 L697.58,1270.97 L695.46,1271.16 L693.31,1271.37 L691.11,1271.61 L688.89,1271.88 L686.63,1272.19 L684.35,1272.53 L682.04,1272.9 L679.72,1273.31 L677.38,1273.75 L675.03,1274.23 L672.66,1274.75 L670.29,1275.31 L667.92,1275.91 L665.55,1276.54 L663.19,1277.22 L660.83,1277.94 L658.49,1278.7 L656.16,1279.5 L653.85,1280.35 L651.56,1281.23 L649.3,1282.15 L647.08,1283.12 L644.88,1284.12 L642.73,1285.16 L640.61,1286.24 L638.54,1287.36 L636.52,1288.51 L634.55,1289.7 L632.63,1290.92 L630.78,1292.18 L628.98,1293.46 L627.25,1294.78 L625.58,1296.12 L623.99,1297.49 L622.47,1298.89 L621.02,1300.31 L619.65,1301.74 L618.37,1303.2 L617.16,1304.68 L616.04,1306.17 L615.01,1307.67 L614.06,1309.18 L613.2,1310.7 L612.44,1312.22 L611.77,1313.75 L611.19,1315.28 L610.7,1316.81 L610.31,1318.33 L610.02,1319.85 L609.83,1321.36 L609.73,1322.86 L609.73,1324.34 L609.83,1325.81 L610.02,1327.26 L610.31,1328.69 L610.7,1330.09 L611.18,1331.47 L611.74,1332.83 L612.4,1334.16 L613.14,1335.45 L613.97,1336.72 L614.88,1337.95 L615.88,1339.15 L616.96,1340.3 L618.12,1341.42 L619.36,1342.5 L620.68,1343.53 L622.07,1344.52 L623.54,1345.47 L625.08,1346.37 L626.68,1347.22 L628.35,1348.02 L630.09,1348.77 L631.88,1349.47 L633.74,1350.12 L635.65,1350.72 L637.61,1351.26 L639.63,1351.75 L641.69,1352.19 L643.79,1352.57 L645.94,1352.9 L648.12,1353.18 L650.34,1353.4 L652.59,1353.57 L654.87,1353.68 L657.17,1353.74 L659.5,1353.75 L661.84,1353.7 L664.2,1353.61 L666.58,1353.47 L668.96,1353.27 L671.35,1353.03 L673.74,1352.74 L676.14,1352.41 L678.53,1352.03 L680.91,1351.61 L683.29,1351.15 L685.65,1350.65 L688,1350.12 L690.33,1349.55 L692.64,1348.94 L694.93,1348.3 L697.19,1347.64 L699.43,1346.95 L701.63,1346.23 L703.8,1345.49 L705.94,1344.74 L708.04,1343.96 L710.1,1343.17 L712.11,1342.37 L714.09,1341.55 L716.02,1340.73 L717.91,1339.91 L719.74,1339.08 L721.53,1338.26 L723.27,1337.43 L724.96,1336.62 L726.59,1335.81 L728.17,1335.01 L729.7,1334.23 L731.17,1333.46 L732.59,1332.71 L733.95,1331.99 L735.26,1331.29 L736.51,1330.61 L737.7,1329.96 L738.84,1329.35 L739.92,1328.76 L740.95,1328.21 L741.93,1327.7 L742.85,1327.23 L743.71,1326.8 L744.53,1326.41 L745.29,1326.07 L746.01,1325.77 L746.67,1325.52 L747.29,1325.32 L747.86,1325.17 L748.39,1325.07 L748.88,1325.02 L749.32,1325.02 L749.73,1325.07 L750.1,1325.17 L750.44,1325.32 L750.75,1325.51 L751.05,1325.73 L751.34,1325.97 L751.6,1326.25 L751.84,1326.57 L752.06,1326.93 L752.26,1327.35 L752.44,1327.81 L752.59,1328.33 L752.73,1328.9 L752.84,1329.53 L752.94,1330.21 L753.02,1330.96 L753.08,1331.77 L753.13,1332.65 L753.16,1333.58 L753.18,1334.58 L753.2,1335.65 L753.2,1336.78 L753.2,1337.97 L753.19,1339.23 L753.18,1340.56 L753.17,1341.95 L753.16,1343.4 L753.15,1344.91 L753.15,1346.49 L753.15,1348.13 L753.16,1349.82 L753.19,1351.58 L753.23,1353.39 L753.28,1355.25 L753.35,1357.17 L753.44,1359.13 L753.56,1361.15 L753.69,1363.2 L753.85,1365.31 L754.03,1367.45 L754.25,1369.63 L754.49,1371.84 L754.76,1374.09 L755.07,1376.36 L755.41,1378.66 L755.78,1380.98 L756.19,1383.32 L756.64,1385.68 L757.12,1388.05 L757.65,1390.42 L758.21,1392.8 L758.81,1395.18 L759.46,1397.56 L760.14,1399.93 L760.87,1402.29 L761.63,1404.64 L762.44,1406.96 L763.29,1409.27 L764.18,1411.55 L765.11,1413.8 L766.08,1416.02 L767.09,1418.2 L768.14,1420.35 L769.22,1422.44 L770.35,1424.49 L771.51,1426.49 L772.7,1428.44 L773.93,1430.33 L775.19,1432.15 L776.48,1433.92 L777.8,1435.61 L779.14,1437.24 L780.51,1438.79 L781.91,1440.27 L783.33,1441.67 L784.76,1442.99 L786.22,1444.22 L787.69,1445.37 L789.17,1446.44 L790.67,1447.41 L792.17,1448.3 L793.68,1449.09 L795.2,1449.79 L796.72,1450.39 L798.23,1450.9 L799.74,1451.31 L801.25,1451.63 L802.75,1451.84 L804.24,1451.96 L805.72,1451.98 L807.18,1451.9 L808.62,1451.72 L810.04,1451.45 L811.44,1451.08 L812.83,1450.64 L814.19,1450.13 L815.53,1449.54 L816.84,1448.88 L818.13,1448.14 L819.39,1447.33 L820.63,1446.46 L821.83,1445.51 L822.99,1444.49 L824.13,1443.41 L825.23,1442.26 L826.29,1441.04 L827.32,1439.76 L828.31,1438.42 L829.25,1437.02 L830.16,1435.57 L831.02,1434.05 L831.84,1432.48 L832.62,1430.86 L833.35,1429.18 L834.03,1427.46 L834.67,1425.69 L835.27,1423.87 L835.81,1422.01 L836.31,1420.11 L836.76,1418.18 L837.16,1416.2 L837.51,1414.19 L837.81,1412.15 L838.06,1410.08 L838.27,1407.99 L838.42,1405.87 L838.53,1403.72 L838.59,1401.56 L838.6,1399.38 L838.56,1397.18 L838.48,1394.97 L838.35,1392.75 L838.18,1390.52 L837.96,1388.29 L837.69,1386.06 L837.39,1383.82 L837.04,1381.59 L836.65,1379.35 L836.22,1377.13 L835.75,1374.91 L835.25,1372.71 L834.71,1370.52 L834.14,1368.34 L833.53,1366.18 L832.9,1364.04 L832.23,1361.92 L831.54,1359.83 L830.82,1357.76 L830.08,1355.71 L829.32,1353.7 L828.54,1351.72 L827.74,1349.77 L826.93,1347.85 L826.1,1345.97 L825.26,1344.13 L824.42,1342.33 L823.57,1340.57 L822.71,1338.85 L821.85,1337.17 L821,1335.53 L820.15,1333.95 L819.3,1332.4 L818.47,1330.91 L817.64,1329.46 L816.83,1328.07 L816.04,1326.72 L815.27,1325.42 L814.52,1324.18 L813.8,1322.98 L813.11,1321.84 L812.44,1320.75 L811.82,1319.72 L811.23,1318.73 L810.68,1317.8 L810.18,1316.93 L809.73,1316.11 L809.33,1315.35 L808.98,1314.64 L808.7,1313.98 L808.49,1313.39 L808.35,1312.85 L808.3,1312.38 L808.34,1311.97 L808.51,1311.65 L808.73,1311.35 L808.97,1311.06 L809.25,1310.8 L809.56,1310.56 L809.92,1310.33 L810.33,1310.13 L810.79,1309.95 L811.3,1309.8 L811.87,1309.66 L812.49,1309.54 L813.17,1309.44 L813.91,1309.35 L814.71,1309.29 L815.57,1309.24 L816.49,1309.2 L817.48,1309.17 L818.53,1309.15 L819.64,1309.14 L820.82,1309.14 L822.06,1309.14 L823.37,1309.15 L824.74,1309.16 L826.17,1309.16 L827.67,1309.16 L829.22,1309.16 L830.84,1309.15 L832.51,1309.13 L834.24,1309.1 L836.03,1309.06 L837.87,1309 L839.76,1308.93 L841.71,1308.84 L843.7,1308.72 L845.74,1308.59 L847.82,1308.43 L849.94,1308.24 L852.09,1308.03 L854.29,1307.79 L856.51,1307.52 L858.77,1307.21 L861.05,1306.87 L863.36,1306.5 L865.68,1306.09 L868.02,1305.65 L870.37,1305.17 L872.74,1304.65 L875.11,1304.09 L877.48,1303.49 L879.85,1302.86 L882.21,1302.18 L884.57,1301.46 L886.91,1300.7 L889.24,1299.9 L891.55,1299.05 L893.84,1298.17 L896.1,1297.25 L898.32,1296.28 L900.52,1295.28 L902.67,1294.24 L904.79,1293.16 L906.86,1292.04 L908.88,1290.89 L910.85,1289.7" fill="none" stroke="#d633ff" stroke-width="4.2" stroke-linejoin="round"/>
<circle cx="935" cy="1080.6" r="9.8" fill="url(#bgi)"/>
<line x1="913.6" y1="1103.9" x2="955.4" y2="1103.9" stroke="#d633ff" stroke-width="4.3"/>
<text x="963" y="1087.1" font-size="21.4" fill="#000">Data</text><text x="963" y="1110.9" font-size="21.4" fill="#000">Fitted</text>
<rect x="740" y="1519.3" width="62" height="42.6" fill="#e2eed9"/>
<text x="748" y="1548.8" font-size="31" font-style="italic" fill="#000">A</text><text x="768.8" y="1556.1" font-size="18" fill="#000">g</text><text x="782.8" y="1538.2" font-size="17.5" fill="#000">1</text>
<text x="1050.5" y="1093" font-size="31" font-weight="bold" fill="#140d0b">j</text>
<g fill="none" stroke="#6a6a6a" stroke-width="1.05" stroke-dasharray="2.7 2.2"><circle cx="1261.4" cy="1289.7" r="63.5"/><circle cx="1261.4" cy="1289.7" r="127.4"/><line x1="1293.2" y1="1289.7" x2="1452" y2="1289.7"/><line x1="1288.94" y1="1273.8" x2="1426.46" y2="1194.4"/><line x1="1277.3" y1="1262.16" x2="1356.7" y2="1124.64"/><line x1="1261.4" y1="1257.9" x2="1261.4" y2="1099.1"/><line x1="1245.5" y1="1262.16" x2="1166.1" y2="1124.64"/><line x1="1233.86" y1="1273.8" x2="1096.34" y2="1194.4"/><line x1="1229.6" y1="1289.7" x2="1070.8" y2="1289.7"/><line x1="1233.86" y1="1305.6" x2="1096.34" y2="1385"/><line x1="1245.5" y1="1317.24" x2="1166.1" y2="1454.76"/><line x1="1261.4" y1="1321.5" x2="1261.4" y2="1480.3"/><line x1="1277.3" y1="1317.24" x2="1356.7" y2="1454.76"/><line x1="1288.94" y1="1305.6" x2="1426.46" y2="1385"/></g>
<circle cx="1261.4" cy="1289.7" r="190.6" fill="none" stroke="#000" stroke-width="3.2"/>
<g stroke="#000" stroke-width="3.2"><line x1="1444.7" y1="1289.7" x2="1452" y2="1289.7"/><line x1="1420.14" y1="1198.05" x2="1426.46" y2="1194.4"/><line x1="1353.05" y1="1130.96" x2="1356.7" y2="1124.64"/><line x1="1261.4" y1="1106.4" x2="1261.4" y2="1099.1"/><line x1="1169.75" y1="1130.96" x2="1166.1" y2="1124.64"/><line x1="1102.66" y1="1198.05" x2="1096.34" y2="1194.4"/><line x1="1078.1" y1="1289.7" x2="1070.8" y2="1289.7"/><line x1="1102.66" y1="1381.35" x2="1096.34" y2="1385"/><line x1="1169.75" y1="1448.44" x2="1166.1" y2="1454.76"/><line x1="1261.4" y1="1473" x2="1261.4" y2="1480.3"/><line x1="1353.05" y1="1448.44" x2="1356.7" y2="1454.76"/><line x1="1420.14" y1="1381.35" x2="1426.46" y2="1385"/></g>
<g font-size="24.2" fill="#000" text-anchor="middle"><text x="1261.6" y="1085.5">90</text><text x="1374.1" y="1113.9">60</text><text x="1447" y="1185.9">30</text><text x="1466.9" y="1298.3">0</text><text x="1453.7" y="1410.9">330</text><text x="1381.4" y="1483.2">300</text><text x="1261.4" y="1510.3">270</text><text x="1141.1" y="1483.2">240</text><text x="1068.1" y="1410.9">210</text><text x="1043" y="1298.3">180</text><text x="1069.1" y="1185.8">150</text><text x="1141.9" y="1113.2">120</text></g>
<radialGradient id="bgj" cx="0.378" cy="0.393" r="0.25"><stop offset="0" stop-color="#fff"/><stop offset="0.22" stop-color="#fff"/><stop offset="0.62" stop-color="#ffd0a0"/><stop offset="1" stop-color="#ff8208"/></radialGradient>
<g fill="url(#bgj)"><circle cx="1381.1" cy="1289.7" r="9.7"/><circle cx="1393.86" cy="1266.34" r="9.7"/><circle cx="1401.6" cy="1238.67" r="9.7"/><circle cx="1356.14" cy="1235" r="9.7"/><circle cx="1296.48" cy="1260.26" r="9.7"/><circle cx="1275.99" cy="1272.31" r="9.7"/><circle cx="1269.1" cy="1276.36" r="9.7"/><circle cx="1277.44" cy="1245.63" r="9.7"/><circle cx="1276.8" cy="1202.35" r="9.7"/><circle cx="1261.4" cy="1151.1" r="9.7"/><circle cx="1231.74" cy="1121.49" r="9.7"/><circle cx="1210.95" cy="1151.1" r="9.7"/><circle cx="1205.35" cy="1192.62" r="9.7"/><circle cx="1215.18" cy="1234.62" r="9.7"/><circle cx="1245.31" cy="1276.2" r="9.7"/><circle cx="1252.13" cy="1284.35" r="9.7"/><circle cx="1234.52" cy="1279.92" r="9.7"/><circle cx="1199.85" cy="1278.85" r="9.7"/><circle cx="1141.7" cy="1289.7" r="9.7"/><circle cx="1128.94" cy="1313.06" r="9.7"/><circle cx="1121.2" cy="1340.73" r="9.7"/><circle cx="1166.66" cy="1344.4" r="9.7"/><circle cx="1226.32" cy="1319.14" r="9.7"/><circle cx="1246.81" cy="1307.09" r="9.7"/><circle cx="1253.7" cy="1303.04" r="9.7"/><circle cx="1245.36" cy="1333.77" r="9.7"/><circle cx="1246" cy="1377.05" r="9.7"/><circle cx="1261.4" cy="1428.3" r="9.7"/><circle cx="1291.06" cy="1457.91" r="9.7"/><circle cx="1311.85" cy="1428.3" r="9.7"/><circle cx="1317.45" cy="1386.78" r="9.7"/><circle cx="1307.62" cy="1344.78" r="9.7"/><circle cx="1277.49" cy="1303.2" r="9.7"/><circle cx="1270.67" cy="1295.05" r="9.7"/><circle cx="1288.28" cy="1299.48" r="9.7"/><circle cx="1322.95" cy="1300.55" r="9.7"/></g>
<path d="M1387.82,1289.7 L1390.04,1288.58 L1392.19,1287.42 L1394.25,1286.22 L1396.24,1284.99 L1398.14,1283.73 L1399.95,1282.44 L1401.68,1281.12 L1403.31,1279.78 L1404.84,1278.41 L1406.27,1277.03 L1407.61,1275.62 L1408.83,1274.2 L1409.96,1272.77 L1410.97,1271.33 L1411.88,1269.89 L1412.67,1268.44 L1413.35,1266.99 L1413.92,1265.54 L1414.38,1264.1 L1414.72,1262.67 L1414.94,1261.24 L1415.05,1259.83 L1415.04,1258.44 L1414.92,1257.07 L1414.68,1255.72 L1414.32,1254.39 L1413.86,1253.1 L1413.28,1251.83 L1412.58,1250.6 L1411.78,1249.41 L1410.86,1248.25 L1409.84,1247.14 L1408.71,1246.06 L1407.48,1245.04 L1406.15,1244.06 L1404.72,1243.13 L1403.19,1242.26 L1401.57,1241.44 L1399.86,1240.67 L1398.06,1239.96 L1396.17,1239.31 L1394.21,1238.72 L1392.16,1238.19 L1390.04,1237.73 L1387.85,1237.32 L1385.6,1236.98 L1383.28,1236.71 L1380.9,1236.5 L1378.46,1236.35 L1375.98,1236.27 L1373.45,1236.26 L1370.87,1236.31 L1368.26,1236.42 L1365.61,1236.6 L1362.93,1236.85 L1360.23,1237.15 L1357.51,1237.52 L1354.76,1237.95 L1352.01,1238.44 L1349.25,1238.98 L1346.48,1239.58 L1343.71,1240.24 L1340.95,1240.95 L1338.19,1241.71 L1335.45,1242.52 L1332.72,1243.38 L1330.02,1244.28 L1327.33,1245.23 L1324.68,1246.21 L1322.05,1247.23 L1319.46,1248.28 L1316.91,1249.37 L1314.4,1250.48 L1311.93,1251.62 L1309.51,1252.78 L1307.14,1253.96 L1304.82,1255.16 L1302.56,1256.37 L1300.35,1257.59 L1298.21,1258.82 L1296.12,1260.05 L1294.1,1261.27 L1292.14,1262.5 L1290.25,1263.72 L1288.43,1264.93 L1286.68,1266.13 L1284.99,1267.31 L1283.38,1268.47 L1281.84,1269.61 L1280.37,1270.73 L1278.97,1271.82 L1277.65,1272.87 L1276.39,1273.9 L1275.21,1274.89 L1274.1,1275.84 L1273.06,1276.75 L1272.09,1277.61 L1271.19,1278.44 L1270.36,1279.21 L1269.59,1279.94 L1268.89,1280.62 L1268.25,1281.24 L1267.67,1281.82 L1267.15,1282.34 L1266.69,1282.8 L1266.29,1283.22 L1265.93,1283.58 L1265.63,1283.88 L1265.37,1284.13 L1265.16,1284.33 L1264.99,1284.48 L1264.85,1284.58 L1264.75,1284.64 L1264.68,1284.66 L1264.62,1284.64 L1264.62,1284.55 L1264.67,1284.37 L1264.77,1284.08 L1264.93,1283.71 L1265.13,1283.24 L1265.37,1282.69 L1265.64,1282.05 L1265.95,1281.32 L1266.29,1280.5 L1266.66,1279.6 L1267.05,1278.61 L1267.46,1277.54 L1267.89,1276.39 L1268.34,1275.15 L1268.8,1273.84 L1269.26,1272.44 L1269.74,1270.97 L1270.22,1269.43 L1270.69,1267.8 L1271.17,1266.11 L1271.64,1264.35 L1272.11,1262.51 L1272.57,1260.61 L1273.01,1258.65 L1273.44,1256.62 L1273.85,1254.54 L1274.25,1252.39 L1274.62,1250.2 L1274.97,1247.95 L1275.29,1245.65 L1275.59,1243.3 L1275.85,1240.91 L1276.09,1238.48 L1276.29,1236.01 L1276.46,1233.51 L1276.59,1230.98 L1276.68,1228.42 L1276.73,1225.83 L1276.75,1223.23 L1276.72,1220.6 L1276.65,1217.96 L1276.53,1215.31 L1276.38,1212.65 L1276.17,1209.99 L1275.92,1207.33 L1275.63,1204.67 L1275.29,1202.01 L1274.9,1199.37 L1274.47,1196.74 L1273.98,1194.12 L1273.45,1191.53 L1272.88,1188.96 L1272.26,1186.42 L1271.59,1183.91 L1270.87,1181.43 L1270.11,1179 L1269.31,1176.6 L1268.46,1174.25 L1267.57,1171.94 L1266.64,1169.68 L1265.67,1167.48 L1264.66,1165.34 L1263.61,1163.25 L1262.52,1161.23 L1261.4,1159.27 L1260.25,1157.38 L1259.06,1155.56 L1257.84,1153.82 L1256.6,1152.15 L1255.32,1150.55 L1254.03,1149.04 L1252.71,1147.61 L1251.37,1146.26 L1250.01,1145 L1248.64,1143.82 L1247.25,1142.73 L1245.85,1141.74 L1244.44,1140.83 L1243.02,1140.02 L1241.6,1139.3 L1240.17,1138.67 L1238.75,1138.14 L1237.33,1137.71 L1235.91,1137.38 L1234.5,1137.14 L1233.1,1136.99 L1231.71,1136.95 L1230.33,1137 L1228.97,1137.15 L1227.64,1137.4 L1226.32,1137.74 L1225.02,1138.18 L1223.75,1138.71 L1222.51,1139.34 L1221.3,1140.06 L1220.13,1140.87 L1218.98,1141.78 L1217.88,1142.77 L1216.81,1143.85 L1215.78,1145.02 L1214.8,1146.27 L1213.86,1147.61 L1212.96,1149.03 L1212.11,1150.52 L1211.32,1152.09 L1210.57,1153.74 L1209.87,1155.46 L1209.23,1157.25 L1208.64,1159.1 L1208.1,1161.02 L1207.62,1163 L1207.2,1165.04 L1206.83,1167.14 L1206.53,1169.29 L1206.28,1171.49 L1206.09,1173.74 L1205.96,1176.03 L1205.89,1178.37 L1205.88,1180.74 L1205.93,1183.14 L1206.04,1185.58 L1206.21,1188.05 L1206.43,1190.54 L1206.72,1193.05 L1207.06,1195.58 L1207.46,1198.13 L1207.91,1200.68 L1208.42,1203.25 L1208.99,1205.82 L1209.6,1208.4 L1210.27,1210.97 L1210.99,1213.54 L1211.75,1216.1 L1212.57,1218.65 L1213.42,1221.18 L1214.32,1223.7 L1215.26,1226.2 L1216.24,1228.68 L1217.26,1231.13 L1218.31,1233.55 L1219.4,1235.94 L1220.51,1238.3 L1221.65,1240.62 L1222.82,1242.9 L1224.01,1245.14 L1225.22,1247.34 L1226.44,1249.49 L1227.68,1251.59 L1228.93,1253.64 L1230.19,1255.64 L1231.46,1257.59 L1232.72,1259.48 L1233.99,1261.32 L1235.25,1263.09 L1236.51,1264.81 L1237.76,1266.46 L1238.99,1268.06 L1240.2,1269.59 L1241.4,1271.05 L1242.57,1272.45 L1243.72,1273.78 L1244.84,1275.05 L1245.93,1276.25 L1246.98,1277.38 L1247.99,1278.45 L1248.96,1279.45 L1249.89,1280.38 L1250.77,1281.24 L1251.59,1282.04 L1252.36,1282.77 L1253.08,1283.43 L1253.73,1284.03 L1254.32,1284.56 L1254.84,1285.02 L1255.29,1285.42 L1255.67,1285.76 L1255.97,1286.04 L1256.18,1286.25 L1256.31,1286.39 L1256.34,1286.48 L1256.3,1286.51 L1256.23,1286.53 L1256.11,1286.52 L1255.95,1286.49 L1255.73,1286.42 L1255.45,1286.33 L1255.11,1286.21 L1254.7,1286.06 L1254.23,1285.89 L1253.69,1285.69 L1253.07,1285.46 L1252.38,1285.2 L1251.62,1284.93 L1250.77,1284.63 L1249.85,1284.31 L1248.85,1283.98 L1247.76,1283.63 L1246.6,1283.27 L1245.36,1282.89 L1244.03,1282.5 L1242.62,1282.11 L1241.13,1281.72 L1239.56,1281.32 L1237.92,1280.92 L1236.19,1280.52 L1234.39,1280.13 L1232.51,1279.75 L1230.55,1279.38 L1228.53,1279.02 L1226.43,1278.68 L1224.27,1278.35 L1222.04,1278.04 L1219.75,1277.76 L1217.4,1277.5 L1214.99,1277.26 L1212.53,1277.06 L1210.01,1276.89 L1207.45,1276.75 L1204.84,1276.64 L1202.19,1276.57 L1199.51,1276.54 L1196.79,1276.56 L1194.05,1276.61 L1191.27,1276.7 L1188.48,1276.84 L1185.67,1277.03 L1182.85,1277.26 L1180.02,1277.54 L1177.18,1277.86 L1174.35,1278.24 L1171.52,1278.66 L1168.7,1279.14 L1165.9,1279.66 L1163.11,1280.24 L1160.35,1280.86 L1157.61,1281.53 L1154.91,1282.25 L1152.25,1283.02 L1149.62,1283.84 L1147.04,1284.71 L1144.51,1285.62 L1142.04,1286.57 L1139.62,1287.57 L1137.27,1288.62 L1134.98,1289.7 L1132.76,1290.82 L1130.61,1291.98 L1128.55,1293.18 L1126.56,1294.41 L1124.66,1295.67 L1122.85,1296.96 L1121.12,1298.28 L1119.49,1299.62 L1117.96,1300.99 L1116.53,1302.37 L1115.19,1303.78 L1113.97,1305.2 L1112.84,1306.63 L1111.83,1308.07 L1110.92,1309.51 L1110.13,1310.96 L1109.45,1312.41 L1108.88,1313.86 L1108.42,1315.3 L1108.08,1316.73 L1107.86,1318.16 L1107.75,1319.57 L1107.76,1320.96 L1107.88,1322.33 L1108.12,1323.68 L1108.48,1325.01 L1108.94,1326.3 L1109.52,1327.57 L1110.22,1328.8 L1111.02,1329.99 L1111.94,1331.15 L1112.96,1332.26 L1114.09,1333.34 L1115.32,1334.36 L1116.65,1335.34 L1118.08,1336.27 L1119.61,1337.14 L1121.23,1337.96 L1122.94,1338.73 L1124.74,1339.44 L1126.63,1340.09 L1128.59,1340.68 L1130.64,1341.21 L1132.76,1341.67 L1134.95,1342.08 L1137.2,1342.42 L1139.52,1342.69 L1141.9,1342.9 L1144.34,1343.05 L1146.82,1343.13 L1149.35,1343.14 L1151.93,1343.09 L1154.54,1342.98 L1157.19,1342.8 L1159.87,1342.55 L1162.57,1342.25 L1165.29,1341.88 L1168.04,1341.45 L1170.79,1340.96 L1173.55,1340.42 L1176.32,1339.82 L1179.09,1339.16 L1181.85,1338.45 L1184.61,1337.69 L1187.35,1336.88 L1190.08,1336.02 L1192.78,1335.12 L1195.47,1334.17 L1198.12,1333.19 L1200.75,1332.17 L1203.34,1331.12 L1205.89,1330.03 L1208.4,1328.92 L1210.87,1327.78 L1213.29,1326.62 L1215.66,1325.44 L1217.98,1324.24 L1220.24,1323.03 L1222.45,1321.81 L1224.59,1320.58 L1226.68,1319.35 L1228.7,1318.13 L1230.66,1316.9 L1232.55,1315.68 L1234.37,1314.47 L1236.12,1313.27 L1237.81,1312.09 L1239.42,1310.93 L1240.96,1309.79 L1242.43,1308.67 L1243.83,1307.58 L1245.15,1306.53 L1246.41,1305.5 L1247.59,1304.51 L1248.7,1303.56 L1249.74,1302.65 L1250.71,1301.79 L1251.61,1300.96 L1252.44,1300.19 L1253.21,1299.46 L1253.91,1298.78 L1254.55,1298.16 L1255.13,1297.58 L1255.65,1297.06 L1256.11,1296.6 L1256.51,1296.18 L1256.87,1295.82 L1257.17,1295.52 L1257.43,1295.27 L1257.64,1295.07 L1257.81,1294.92 L1257.95,1294.82 L1258.05,1294.76 L1258.12,1294.74 L1258.18,1294.76 L1258.18,1294.85 L1258.13,1295.03 L1258.03,1295.32 L1257.87,1295.69 L1257.67,1296.16 L1257.43,1296.71 L1257.16,1297.35 L1256.85,1298.08 L1256.51,1298.9 L1256.14,1299.8 L1255.75,1300.79 L1255.34,1301.86 L1254.91,1303.01 L1254.46,1304.25 L1254,1305.56 L1253.54,1306.96 L1253.06,1308.43 L1252.58,1309.97 L1252.11,1311.6 L1251.63,1313.29 L1251.16,1315.05 L1250.69,1316.89 L1250.23,1318.79 L1249.79,1320.75 L1249.36,1322.78 L1248.95,1324.86 L1248.55,1327.01 L1248.18,1329.2 L1247.83,1331.45 L1247.51,1333.75 L1247.21,1336.1 L1246.95,1338.49 L1246.71,1340.92 L1246.51,1343.39 L1246.34,1345.89 L1246.21,1348.42 L1246.12,1350.98 L1246.07,1353.57 L1246.05,1356.17 L1246.08,1358.8 L1246.15,1361.44 L1246.27,1364.09 L1246.42,1366.75 L1246.63,1369.41 L1246.88,1372.07 L1247.17,1374.73 L1247.51,1377.39 L1247.9,1380.03 L1248.33,1382.66 L1248.82,1385.28 L1249.35,1387.87 L1249.92,1390.44 L1250.54,1392.98 L1251.21,1395.49 L1251.93,1397.97 L1252.69,1400.4 L1253.49,1402.8 L1254.34,1405.15 L1255.23,1407.46 L1256.16,1409.72 L1257.13,1411.92 L1258.14,1414.06 L1259.19,1416.15 L1260.28,1418.17 L1261.4,1420.13 L1262.55,1422.02 L1263.74,1423.84 L1264.96,1425.58 L1266.2,1427.25 L1267.48,1428.85 L1268.77,1430.36 L1270.09,1431.79 L1271.43,1433.14 L1272.79,1434.4 L1274.16,1435.58 L1275.55,1436.67 L1276.95,1437.66 L1278.36,1438.57 L1279.78,1439.38 L1281.2,1440.1 L1282.63,1440.73 L1284.05,1441.26 L1285.47,1441.69 L1286.89,1442.02 L1288.3,1442.26 L1289.7,1442.41 L1291.09,1442.45 L1292.47,1442.4 L1293.83,1442.25 L1295.16,1442 L1296.48,1441.66 L1297.78,1441.22 L1299.05,1440.69 L1300.29,1440.06 L1301.5,1439.34 L1302.67,1438.53 L1303.82,1437.62 L1304.92,1436.63 L1305.99,1435.55 L1307.02,1434.38 L1308,1433.13 L1308.94,1431.79 L1309.84,1430.37 L1310.69,1428.88 L1311.48,1427.31 L1312.23,1425.66 L1312.93,1423.94 L1313.57,1422.15 L1314.16,1420.3 L1314.7,1418.38 L1315.18,1416.4 L1315.6,1414.36 L1315.97,1412.26 L1316.27,1410.11 L1316.52,1407.91 L1316.71,1405.66 L1316.84,1403.37 L1316.91,1401.03 L1316.92,1398.66 L1316.87,1396.26 L1316.76,1393.82 L1316.59,1391.35 L1316.37,1388.86 L1316.08,1386.35 L1315.74,1383.82 L1315.34,1381.27 L1314.89,1378.72 L1314.38,1376.15 L1313.81,1373.58 L1313.2,1371 L1312.53,1368.43 L1311.81,1365.86 L1311.05,1363.3 L1310.23,1360.75 L1309.38,1358.22 L1308.48,1355.7 L1307.54,1353.2 L1306.56,1350.72 L1305.54,1348.27 L1304.49,1345.85 L1303.4,1343.46 L1302.29,1341.1 L1301.15,1338.78 L1299.98,1336.5 L1298.79,1334.26 L1297.58,1332.06 L1296.36,1329.91 L1295.12,1327.81 L1293.87,1325.76 L1292.61,1323.76 L1291.34,1321.81 L1290.08,1319.92 L1288.81,1318.08 L1287.55,1316.31 L1286.29,1314.59 L1285.04,1312.94 L1283.81,1311.34 L1282.6,1309.81 L1281.4,1308.35 L1280.23,1306.95 L1279.08,1305.62 L1277.96,1304.35 L1276.87,1303.15 L1275.82,1302.02 L1274.81,1300.95 L1273.84,1299.95 L1272.91,1299.02 L1272.03,1298.16 L1271.21,1297.36 L1270.44,1296.63 L1269.72,1295.97 L1269.07,1295.37 L1268.48,1294.84 L1267.96,1294.38 L1267.51,1293.98 L1267.13,1293.64 L1266.83,1293.36 L1266.62,1293.15 L1266.49,1293.01 L1266.46,1292.92 L1266.5,1292.89 L1266.57,1292.87 L1266.69,1292.88 L1266.85,1292.91 L1267.07,1292.98 L1267.35,1293.07 L1267.69,1293.19 L1268.1,1293.34 L1268.57,1293.51 L1269.11,1293.71 L1269.73,1293.94 L1270.42,1294.2 L1271.18,1294.47 L1272.03,1294.77 L1272.95,1295.09 L1273.95,1295.42 L1275.04,1295.77 L1276.2,1296.13 L1277.44,1296.51 L1278.77,1296.9 L1280.18,1297.29 L1281.67,1297.68 L1283.24,1298.08 L1284.88,1298.48 L1286.61,1298.88 L1288.41,1299.27 L1290.29,1299.65 L1292.25,1300.02 L1294.27,1300.38 L1296.37,1300.72 L1298.53,1301.05 L1300.76,1301.36 L1303.05,1301.64 L1305.4,1301.9 L1307.81,1302.14 L1310.27,1302.34 L1312.79,1302.51 L1315.35,1302.65 L1317.96,1302.76 L1320.61,1302.83 L1323.29,1302.86 L1326.01,1302.84 L1328.75,1302.79 L1331.53,1302.7 L1334.32,1302.56 L1337.13,1302.37 L1339.95,1302.14 L1342.78,1301.86 L1345.62,1301.54 L1348.45,1301.16 L1351.28,1300.74 L1354.1,1300.26 L1356.9,1299.74 L1359.69,1299.16 L1362.45,1298.54 L1365.19,1297.87 L1367.89,1297.15 L1370.55,1296.38 L1373.18,1295.56 L1375.76,1294.69 L1378.29,1293.78 L1380.76,1292.83 L1383.18,1291.83 L1385.53,1290.78 L1387.82,1289.7" fill="none" stroke="#ff8208" stroke-width="4.2" stroke-linejoin="round"/>
<circle cx="1423.7" cy="1080.6" r="9.8" fill="url(#bgj)"/>
<line x1="1402.3" y1="1103.9" x2="1444.1" y2="1103.9" stroke="#ff8208" stroke-width="4.3"/>
<text x="1451.7" y="1087.1" font-size="21.4" fill="#000">Data</text><text x="1451.7" y="1110.9" font-size="21.4" fill="#000">Fitted</text>
<rect x="1228.8" y="1519.3" width="62" height="42.6" fill="#e2eed9"/>
<text x="1236.8" y="1548.8" font-size="31" font-style="italic" fill="#000">A</text><text x="1257.6" y="1556.1" font-size="18" fill="#000">g</text><text x="1271.6" y="1538.2" font-size="17.5" fill="#000">2</text>
<text x="1543" y="1092.9" font-size="31" font-weight="bold" fill="#140d0b">k</text>
<g fill="none" stroke="#6a6a6a" stroke-width="1.05" stroke-dasharray="2.7 2.2"><circle cx="1754.3" cy="1289.7" r="129.9"/><line x1="1819.2" y1="1289.7" x2="1944.9" y2="1289.7"/><line x1="1810.51" y1="1257.25" x2="1919.36" y2="1194.4"/><line x1="1786.75" y1="1233.49" x2="1849.6" y2="1124.64"/><line x1="1754.3" y1="1224.8" x2="1754.3" y2="1099.1"/><line x1="1721.85" y1="1233.49" x2="1659" y2="1124.64"/><line x1="1698.09" y1="1257.25" x2="1589.24" y2="1194.4"/><line x1="1689.4" y1="1289.7" x2="1563.7" y2="1289.7"/><line x1="1698.09" y1="1322.15" x2="1589.24" y2="1385"/><line x1="1721.85" y1="1345.91" x2="1659" y2="1454.76"/><line x1="1754.3" y1="1354.6" x2="1754.3" y2="1480.3"/><line x1="1786.75" y1="1345.91" x2="1849.6" y2="1454.76"/><line x1="1810.51" y1="1322.15" x2="1919.36" y2="1385"/></g>
<circle cx="1754.3" cy="1289.7" r="190.6" fill="none" stroke="#000" stroke-width="3.2"/>
<g stroke="#000" stroke-width="3.2"><line x1="1937.6" y1="1289.7" x2="1944.9" y2="1289.7"/><line x1="1913.04" y1="1198.05" x2="1919.36" y2="1194.4"/><line x1="1845.95" y1="1130.96" x2="1849.6" y2="1124.64"/><line x1="1754.3" y1="1106.4" x2="1754.3" y2="1099.1"/><line x1="1662.65" y1="1130.96" x2="1659" y2="1124.64"/><line x1="1595.56" y1="1198.05" x2="1589.24" y2="1194.4"/><line x1="1571" y1="1289.7" x2="1563.7" y2="1289.7"/><line x1="1595.56" y1="1381.35" x2="1589.24" y2="1385"/><line x1="1662.65" y1="1448.44" x2="1659" y2="1454.76"/><line x1="1754.3" y1="1473" x2="1754.3" y2="1480.3"/><line x1="1845.95" y1="1448.44" x2="1849.6" y2="1454.76"/><line x1="1913.04" y1="1381.35" x2="1919.36" y2="1385"/></g>
<g font-size="24.2" fill="#000" text-anchor="middle"><text x="1754.5" y="1085.5">90</text><text x="1867" y="1113.9">60</text><text x="1939.9" y="1185.9">30</text><text x="1959.8" y="1298.3">0</text><text x="1946.6" y="1410.9">330</text><text x="1874.3" y="1483.2">300</text><text x="1754.3" y="1510.3">270</text><text x="1634" y="1483.2">240</text><text x="1561" y="1410.9">210</text><text x="1535.9" y="1298.3">180</text><text x="1562" y="1185.8">150</text><text x="1634.8" y="1113.2">120</text></g>
<radialGradient id="bgk" cx="0.378" cy="0.393" r="0.25"><stop offset="0" stop-color="#fff"/><stop offset="0.22" stop-color="#fff"/><stop offset="0.62" stop-color="#b0e0ff"/><stop offset="1" stop-color="#14a6fb"/></radialGradient>
<g fill="url(#bgk)"><circle cx="1853.5" cy="1289.7" r="9.7"/><circle cx="1876.91" cy="1268.08" r="9.7"/><circle cx="1885.48" cy="1241.95" r="9.7"/><circle cx="1848.7" cy="1235.2" r="9.7"/><circle cx="1804.86" cy="1247.28" r="9.7"/><circle cx="1791.45" cy="1245.42" r="9.7"/><circle cx="1787.8" cy="1231.68" r="9.7"/><circle cx="1782.07" cy="1213.4" r="9.7"/><circle cx="1774.1" cy="1177.43" r="9.7"/><circle cx="1754.3" cy="1145.4" r="9.7"/><circle cx="1725.6" cy="1126.91" r="9.7"/><circle cx="1701.53" cy="1144.71" r="9.7"/><circle cx="1693.85" cy="1185" r="9.7"/><circle cx="1702.62" cy="1228.11" r="9.7"/><circle cx="1715.16" cy="1256.85" r="9.7"/><circle cx="1724.86" cy="1272.7" r="9.7"/><circle cx="1724.32" cy="1278.79" r="9.7"/><circle cx="1691.57" cy="1278.64" r="9.7"/><circle cx="1655.1" cy="1289.7" r="9.7"/><circle cx="1631.69" cy="1311.32" r="9.7"/><circle cx="1623.12" cy="1337.45" r="9.7"/><circle cx="1659.9" cy="1344.2" r="9.7"/><circle cx="1703.74" cy="1332.12" r="9.7"/><circle cx="1717.15" cy="1333.98" r="9.7"/><circle cx="1720.8" cy="1347.72" r="9.7"/><circle cx="1726.53" cy="1366" r="9.7"/><circle cx="1734.5" cy="1401.97" r="9.7"/><circle cx="1754.3" cy="1434" r="9.7"/><circle cx="1783" cy="1452.49" r="9.7"/><circle cx="1807.07" cy="1434.69" r="9.7"/><circle cx="1814.75" cy="1394.4" r="9.7"/><circle cx="1805.98" cy="1351.29" r="9.7"/><circle cx="1793.44" cy="1322.55" r="9.7"/><circle cx="1783.74" cy="1306.7" r="9.7"/><circle cx="1784.28" cy="1300.61" r="9.7"/><circle cx="1817.03" cy="1300.76" r="9.7"/></g>
<path d="M1879.85,1289.7 L1881.34,1288.59 L1882.77,1287.46 L1884.15,1286.3 L1885.47,1285.12 L1886.73,1283.92 L1887.93,1282.7 L1889.06,1281.46 L1890.13,1280.2 L1891.12,1278.93 L1892.05,1277.65 L1892.91,1276.35 L1893.69,1275.05 L1894.4,1273.74 L1895.04,1272.42 L1895.6,1271.1 L1896.08,1269.77 L1896.48,1268.45 L1896.81,1267.13 L1897.05,1265.81 L1897.22,1264.5 L1897.3,1263.2 L1897.31,1261.9 L1897.23,1260.62 L1897.08,1259.35 L1896.84,1258.1 L1896.53,1256.86 L1896.14,1255.65 L1895.69,1254.45 L1895.17,1253.27 L1894.57,1252.11 L1893.91,1250.98 L1893.18,1249.88 L1892.38,1248.8 L1891.51,1247.75 L1890.58,1246.73 L1889.59,1245.74 L1888.54,1244.78 L1887.42,1243.86 L1886.25,1242.97 L1885.02,1242.12 L1883.73,1241.31 L1882.39,1240.53 L1881,1239.79 L1879.56,1239.09 L1878.07,1238.43 L1876.53,1237.82 L1874.95,1237.24 L1873.32,1236.71 L1871.66,1236.22 L1869.96,1235.77 L1868.22,1235.36 L1866.45,1235 L1864.65,1234.68 L1862.83,1234.4 L1860.97,1234.17 L1859.09,1233.98 L1857.19,1233.83 L1855.28,1233.73 L1853.34,1233.66 L1851.39,1233.64 L1849.43,1233.66 L1847.47,1233.72 L1845.49,1233.82 L1843.51,1233.96 L1841.53,1234.13 L1839.55,1234.34 L1837.57,1234.59 L1835.59,1234.87 L1833.63,1235.18 L1831.67,1235.52 L1829.72,1235.9 L1827.79,1236.3 L1825.88,1236.73 L1823.98,1237.19 L1822.1,1237.67 L1820.25,1238.18 L1818.42,1238.7 L1816.61,1239.24 L1814.83,1239.8 L1813.08,1240.38 L1811.36,1240.96 L1809.68,1241.56 L1808.02,1242.17 L1806.4,1242.79 L1804.82,1243.41 L1803.28,1244.03 L1801.77,1244.65 L1800.3,1245.28 L1798.87,1245.9 L1797.49,1246.51 L1796.14,1247.12 L1794.84,1247.72 L1793.59,1248.3 L1792.37,1248.87 L1791.2,1249.43 L1790.08,1249.97 L1788.99,1250.49 L1787.96,1250.98 L1786.97,1251.45 L1786.02,1251.9 L1785.12,1252.32 L1784.26,1252.7 L1783.45,1253.06 L1782.68,1253.38 L1781.95,1253.67 L1781.26,1253.92 L1780.62,1254.13 L1780.02,1254.3 L1779.45,1254.43 L1778.93,1254.52 L1778.45,1254.56 L1778,1254.56 L1777.59,1254.51 L1777.21,1254.42 L1776.87,1254.27 L1776.56,1254.08 L1776.28,1253.83 L1776.03,1253.53 L1775.81,1253.18 L1775.62,1252.78 L1775.45,1252.32 L1775.3,1251.81 L1775.18,1251.25 L1775.07,1250.63 L1774.99,1249.96 L1774.92,1249.23 L1774.86,1248.45 L1774.82,1247.62 L1774.8,1246.73 L1774.78,1245.79 L1774.76,1244.8 L1774.76,1243.75 L1774.76,1242.65 L1774.76,1241.5 L1774.76,1240.3 L1774.76,1239.06 L1774.76,1237.76 L1774.75,1236.42 L1774.74,1235.03 L1774.72,1233.6 L1774.69,1232.13 L1774.65,1230.61 L1774.59,1229.06 L1774.52,1227.46 L1774.44,1225.83 L1774.33,1224.17 L1774.21,1222.48 L1774.07,1220.75 L1773.91,1219 L1773.72,1217.21 L1773.51,1215.41 L1773.28,1213.58 L1773.02,1211.74 L1772.73,1209.87 L1772.41,1207.99 L1772.07,1206.1 L1771.69,1204.2 L1771.29,1202.29 L1770.85,1200.38 L1770.39,1198.46 L1769.89,1196.54 L1769.36,1194.63 L1768.79,1192.72 L1768.2,1190.82 L1767.57,1188.93 L1766.9,1187.05 L1766.21,1185.18 L1765.48,1183.34 L1764.72,1181.51 L1763.92,1179.71 L1763.1,1177.93 L1762.24,1176.18 L1761.35,1174.46 L1760.43,1172.78 L1759.48,1171.13 L1758.5,1169.51 L1757.49,1167.94 L1756.45,1166.41 L1755.39,1164.92 L1754.3,1163.48 L1753.19,1162.09 L1752.05,1160.75 L1750.89,1159.46 L1749.71,1158.22 L1748.51,1157.04 L1747.29,1155.92 L1746.05,1154.86 L1744.8,1153.86 L1743.54,1152.92 L1742.26,1152.04 L1740.97,1151.23 L1739.67,1150.49 L1738.36,1149.81 L1737.05,1149.2 L1735.73,1148.66 L1734.41,1148.19 L1733.09,1147.79 L1731.77,1147.47 L1730.46,1147.21 L1729.14,1147.02 L1727.84,1146.91 L1726.54,1146.87 L1725.25,1146.91 L1723.97,1147.01 L1722.71,1147.19 L1721.46,1147.44 L1720.22,1147.77 L1719.01,1148.16 L1717.82,1148.63 L1716.64,1149.17 L1715.5,1149.78 L1714.37,1150.46 L1713.28,1151.21 L1712.21,1152.03 L1711.17,1152.91 L1710.16,1153.86 L1709.19,1154.88 L1708.25,1155.95 L1707.34,1157.09 L1706.47,1158.29 L1705.64,1159.54 L1704.84,1160.85 L1704.08,1162.22 L1703.37,1163.64 L1702.69,1165.11 L1702.06,1166.63 L1701.47,1168.19 L1700.92,1169.8 L1700.41,1171.45 L1699.95,1173.14 L1699.53,1174.86 L1699.15,1176.63 L1698.82,1178.42 L1698.53,1180.25 L1698.29,1182.1 L1698.09,1183.98 L1697.93,1185.88 L1697.82,1187.8 L1697.75,1189.74 L1697.72,1191.7 L1697.73,1193.67 L1697.79,1195.65 L1697.88,1197.64 L1698.02,1199.63 L1698.19,1201.63 L1698.4,1203.63 L1698.65,1205.62 L1698.93,1207.62 L1699.25,1209.6 L1699.6,1211.58 L1699.98,1213.54 L1700.39,1215.5 L1700.83,1217.44 L1701.29,1219.36 L1701.78,1221.26 L1702.29,1223.14 L1702.83,1224.99 L1703.38,1226.82 L1703.95,1228.63 L1704.54,1230.4 L1705.14,1232.14 L1705.75,1233.86 L1706.38,1235.53 L1707.01,1237.18 L1707.64,1238.78 L1708.28,1240.35 L1708.92,1241.88 L1709.56,1243.37 L1710.2,1244.82 L1710.83,1246.23 L1711.45,1247.59 L1712.07,1248.92 L1712.67,1250.19 L1713.26,1251.43 L1713.83,1252.62 L1714.38,1253.76 L1714.92,1254.86 L1715.43,1255.91 L1715.91,1256.92 L1716.37,1257.88 L1716.81,1258.79 L1717.21,1259.66 L1717.58,1260.49 L1717.91,1261.27 L1718.21,1262.01 L1718.47,1262.7 L1718.69,1263.35 L1718.87,1263.96 L1719.01,1264.53 L1719.1,1265.06 L1719.15,1265.54 L1719.16,1265.99 L1719.11,1266.41 L1719.02,1266.79 L1718.87,1267.13 L1718.68,1267.44 L1718.46,1267.74 L1718.21,1268.01 L1717.92,1268.27 L1717.59,1268.51 L1717.22,1268.72 L1716.8,1268.91 L1716.34,1269.09 L1715.83,1269.25 L1715.27,1269.38 L1714.66,1269.5 L1714,1269.61 L1713.29,1269.7 L1712.52,1269.77 L1711.7,1269.84 L1710.83,1269.89 L1709.9,1269.93 L1708.92,1269.97 L1707.89,1270 L1706.8,1270.02 L1705.66,1270.05 L1704.46,1270.07 L1703.22,1270.09 L1701.92,1270.12 L1700.58,1270.15 L1699.18,1270.18 L1697.74,1270.22 L1696.25,1270.28 L1694.71,1270.34 L1693.14,1270.42 L1691.52,1270.51 L1689.86,1270.61 L1688.16,1270.73 L1686.42,1270.88 L1684.66,1271.04 L1682.86,1271.22 L1681.03,1271.43 L1679.17,1271.66 L1677.29,1271.92 L1675.38,1272.2 L1673.46,1272.52 L1671.52,1272.86 L1669.56,1273.23 L1667.59,1273.63 L1665.62,1274.06 L1663.64,1274.53 L1661.65,1275.03 L1659.67,1275.56 L1657.68,1276.12 L1655.71,1276.72 L1653.74,1277.35 L1651.78,1278.02 L1649.84,1278.72 L1647.91,1279.46 L1646.01,1280.23 L1644.13,1281.03 L1642.28,1281.87 L1640.45,1282.74 L1638.66,1283.64 L1636.91,1284.57 L1635.19,1285.54 L1633.51,1286.54 L1631.88,1287.56 L1630.29,1288.62 L1628.75,1289.7 L1627.26,1290.81 L1625.83,1291.94 L1624.45,1293.1 L1623.13,1294.28 L1621.87,1295.48 L1620.67,1296.7 L1619.54,1297.94 L1618.47,1299.2 L1617.48,1300.47 L1616.55,1301.75 L1615.69,1303.05 L1614.91,1304.35 L1614.2,1305.66 L1613.56,1306.98 L1613,1308.3 L1612.52,1309.63 L1612.12,1310.95 L1611.79,1312.27 L1611.55,1313.59 L1611.38,1314.9 L1611.3,1316.2 L1611.29,1317.5 L1611.37,1318.78 L1611.52,1320.05 L1611.76,1321.3 L1612.07,1322.54 L1612.46,1323.75 L1612.91,1324.95 L1613.43,1326.13 L1614.03,1327.29 L1614.69,1328.42 L1615.42,1329.52 L1616.22,1330.6 L1617.09,1331.65 L1618.02,1332.67 L1619.01,1333.66 L1620.06,1334.62 L1621.18,1335.54 L1622.35,1336.43 L1623.58,1337.28 L1624.87,1338.09 L1626.21,1338.87 L1627.6,1339.61 L1629.04,1340.31 L1630.53,1340.97 L1632.07,1341.58 L1633.65,1342.16 L1635.28,1342.69 L1636.94,1343.18 L1638.64,1343.63 L1640.38,1344.04 L1642.15,1344.4 L1643.95,1344.72 L1645.77,1345 L1647.63,1345.23 L1649.51,1345.42 L1651.41,1345.57 L1653.32,1345.67 L1655.26,1345.74 L1657.21,1345.76 L1659.17,1345.74 L1661.13,1345.68 L1663.11,1345.58 L1665.09,1345.44 L1667.07,1345.27 L1669.05,1345.06 L1671.03,1344.81 L1673.01,1344.53 L1674.97,1344.22 L1676.93,1343.88 L1678.88,1343.5 L1680.81,1343.1 L1682.72,1342.67 L1684.62,1342.21 L1686.5,1341.73 L1688.35,1341.22 L1690.18,1340.7 L1691.99,1340.16 L1693.77,1339.6 L1695.52,1339.02 L1697.24,1338.44 L1698.92,1337.84 L1700.58,1337.23 L1702.2,1336.61 L1703.78,1335.99 L1705.32,1335.37 L1706.83,1334.75 L1708.3,1334.12 L1709.73,1333.5 L1711.11,1332.89 L1712.46,1332.28 L1713.76,1331.68 L1715.01,1331.1 L1716.23,1330.53 L1717.4,1329.97 L1718.52,1329.43 L1719.61,1328.91 L1720.64,1328.42 L1721.63,1327.95 L1722.58,1327.5 L1723.48,1327.08 L1724.34,1326.7 L1725.15,1326.34 L1725.92,1326.02 L1726.65,1325.73 L1727.34,1325.48 L1727.98,1325.27 L1728.58,1325.1 L1729.15,1324.97 L1729.67,1324.88 L1730.15,1324.84 L1730.6,1324.84 L1731.01,1324.89 L1731.39,1324.98 L1731.73,1325.13 L1732.04,1325.32 L1732.32,1325.57 L1732.57,1325.87 L1732.79,1326.22 L1732.98,1326.62 L1733.15,1327.08 L1733.3,1327.59 L1733.42,1328.15 L1733.53,1328.77 L1733.61,1329.44 L1733.68,1330.17 L1733.74,1330.95 L1733.78,1331.78 L1733.8,1332.67 L1733.82,1333.61 L1733.84,1334.6 L1733.84,1335.65 L1733.84,1336.75 L1733.84,1337.9 L1733.84,1339.1 L1733.84,1340.34 L1733.84,1341.64 L1733.85,1342.98 L1733.86,1344.37 L1733.88,1345.8 L1733.91,1347.27 L1733.95,1348.79 L1734.01,1350.34 L1734.08,1351.94 L1734.16,1353.57 L1734.27,1355.23 L1734.39,1356.92 L1734.53,1358.65 L1734.69,1360.4 L1734.88,1362.19 L1735.09,1363.99 L1735.32,1365.82 L1735.58,1367.66 L1735.87,1369.53 L1736.19,1371.41 L1736.53,1373.3 L1736.91,1375.2 L1737.31,1377.11 L1737.75,1379.02 L1738.21,1380.94 L1738.71,1382.86 L1739.24,1384.77 L1739.81,1386.68 L1740.4,1388.58 L1741.03,1390.47 L1741.7,1392.35 L1742.39,1394.22 L1743.12,1396.06 L1743.88,1397.89 L1744.68,1399.69 L1745.5,1401.47 L1746.36,1403.22 L1747.25,1404.94 L1748.17,1406.62 L1749.12,1408.27 L1750.1,1409.89 L1751.11,1411.46 L1752.15,1412.99 L1753.21,1414.48 L1754.3,1415.92 L1755.41,1417.31 L1756.55,1418.65 L1757.71,1419.94 L1758.89,1421.18 L1760.09,1422.36 L1761.31,1423.48 L1762.55,1424.54 L1763.8,1425.54 L1765.06,1426.48 L1766.34,1427.36 L1767.63,1428.17 L1768.93,1428.91 L1770.24,1429.59 L1771.55,1430.2 L1772.87,1430.74 L1774.19,1431.21 L1775.51,1431.61 L1776.83,1431.93 L1778.14,1432.19 L1779.46,1432.38 L1780.76,1432.49 L1782.06,1432.53 L1783.35,1432.49 L1784.63,1432.39 L1785.89,1432.21 L1787.14,1431.96 L1788.38,1431.63 L1789.59,1431.24 L1790.78,1430.77 L1791.96,1430.23 L1793.1,1429.62 L1794.23,1428.94 L1795.32,1428.19 L1796.39,1427.37 L1797.43,1426.49 L1798.44,1425.54 L1799.41,1424.52 L1800.35,1423.45 L1801.26,1422.31 L1802.13,1421.11 L1802.96,1419.86 L1803.76,1418.55 L1804.52,1417.18 L1805.23,1415.76 L1805.91,1414.29 L1806.54,1412.77 L1807.13,1411.21 L1807.68,1409.6 L1808.19,1407.95 L1808.65,1406.26 L1809.07,1404.54 L1809.45,1402.77 L1809.78,1400.98 L1810.07,1399.15 L1810.31,1397.3 L1810.51,1395.42 L1810.67,1393.52 L1810.78,1391.6 L1810.85,1389.66 L1810.88,1387.7 L1810.87,1385.73 L1810.81,1383.75 L1810.72,1381.76 L1810.58,1379.77 L1810.41,1377.77 L1810.2,1375.77 L1809.95,1373.78 L1809.67,1371.78 L1809.35,1369.8 L1809,1367.82 L1808.62,1365.86 L1808.21,1363.9 L1807.77,1361.96 L1807.31,1360.04 L1806.82,1358.14 L1806.31,1356.26 L1805.77,1354.41 L1805.22,1352.58 L1804.65,1350.77 L1804.06,1349 L1803.46,1347.26 L1802.85,1345.54 L1802.22,1343.87 L1801.59,1342.22 L1800.96,1340.62 L1800.32,1339.05 L1799.68,1337.52 L1799.04,1336.03 L1798.4,1334.58 L1797.77,1333.17 L1797.15,1331.81 L1796.53,1330.48 L1795.93,1329.21 L1795.34,1327.97 L1794.77,1326.78 L1794.22,1325.64 L1793.68,1324.54 L1793.17,1323.49 L1792.69,1322.48 L1792.23,1321.52 L1791.79,1320.61 L1791.39,1319.74 L1791.02,1318.91 L1790.69,1318.13 L1790.39,1317.39 L1790.13,1316.7 L1789.91,1316.05 L1789.73,1315.44 L1789.59,1314.87 L1789.5,1314.34 L1789.45,1313.86 L1789.44,1313.41 L1789.49,1312.99 L1789.58,1312.61 L1789.73,1312.27 L1789.92,1311.96 L1790.11,1311.64 L1790.3,1311.33 L1790.49,1311.02 L1790.67,1310.7 L1790.85,1310.38 L1791.03,1310.06 L1791.21,1309.74 L1791.39,1309.42 L1791.58,1309.11 L1791.81,1308.81 L1792.07,1308.53 L1792.38,1308.27 L1792.73,1308.03 L1793.12,1307.8 L1793.56,1307.59 L1794.05,1307.4 L1794.59,1307.22 L1795.18,1307.05 L1795.82,1306.9 L1796.51,1306.75 L1797.26,1306.62 L1798.06,1306.5 L1798.91,1306.38 L1799.82,1306.27 L1800.78,1306.16 L1801.79,1306.05 L1802.86,1305.95 L1803.98,1305.84 L1805.15,1305.73 L1806.37,1305.62 L1807.65,1305.5 L1808.97,1305.38 L1810.34,1305.24 L1811.76,1305.1 L1813.22,1304.94 L1814.73,1304.77 L1816.28,1304.58 L1817.87,1304.38 L1819.5,1304.15 L1821.16,1303.91 L1822.86,1303.65 L1824.6,1303.36 L1826.36,1303.06 L1828.15,1302.72 L1829.97,1302.36 L1831.81,1301.98 L1833.68,1301.56 L1835.56,1301.12 L1837.45,1300.65 L1839.36,1300.14 L1841.28,1299.61 L1843.21,1299.04 L1845.14,1298.45 L1847.08,1297.82 L1849.01,1297.15 L1850.94,1296.46 L1852.86,1295.73 L1854.77,1294.97 L1856.67,1294.17 L1858.55,1293.34 L1860.41,1292.48 L1862.25,1291.58 L1864.07,1290.66 L1865.86,1289.7" fill="none" stroke="#14a6fb" stroke-width="4.2" stroke-linejoin="round"/>
<circle cx="1916.6" cy="1080.6" r="9.8" fill="url(#bgk)"/>
<line x1="1895.2" y1="1103.9" x2="1937" y2="1103.9" stroke="#14a6fb" stroke-width="4.3"/>
<text x="1944.6" y="1087.1" font-size="21.4" fill="#000">Data</text><text x="1944.6" y="1110.9" font-size="21.4" fill="#000">Fitted</text>
<rect x="1726.4" y="1519.3" width="62" height="42.6" fill="#e2eed9"/>
<text x="1734.4" y="1548.8" font-size="31" font-style="italic" fill="#000">A</text><text x="1755.2" y="1556.1" font-size="18" fill="#000">g</text><text x="1769.2" y="1538.2" font-size="17.5" fill="#000">3</text>
</svg>
</body></html>
